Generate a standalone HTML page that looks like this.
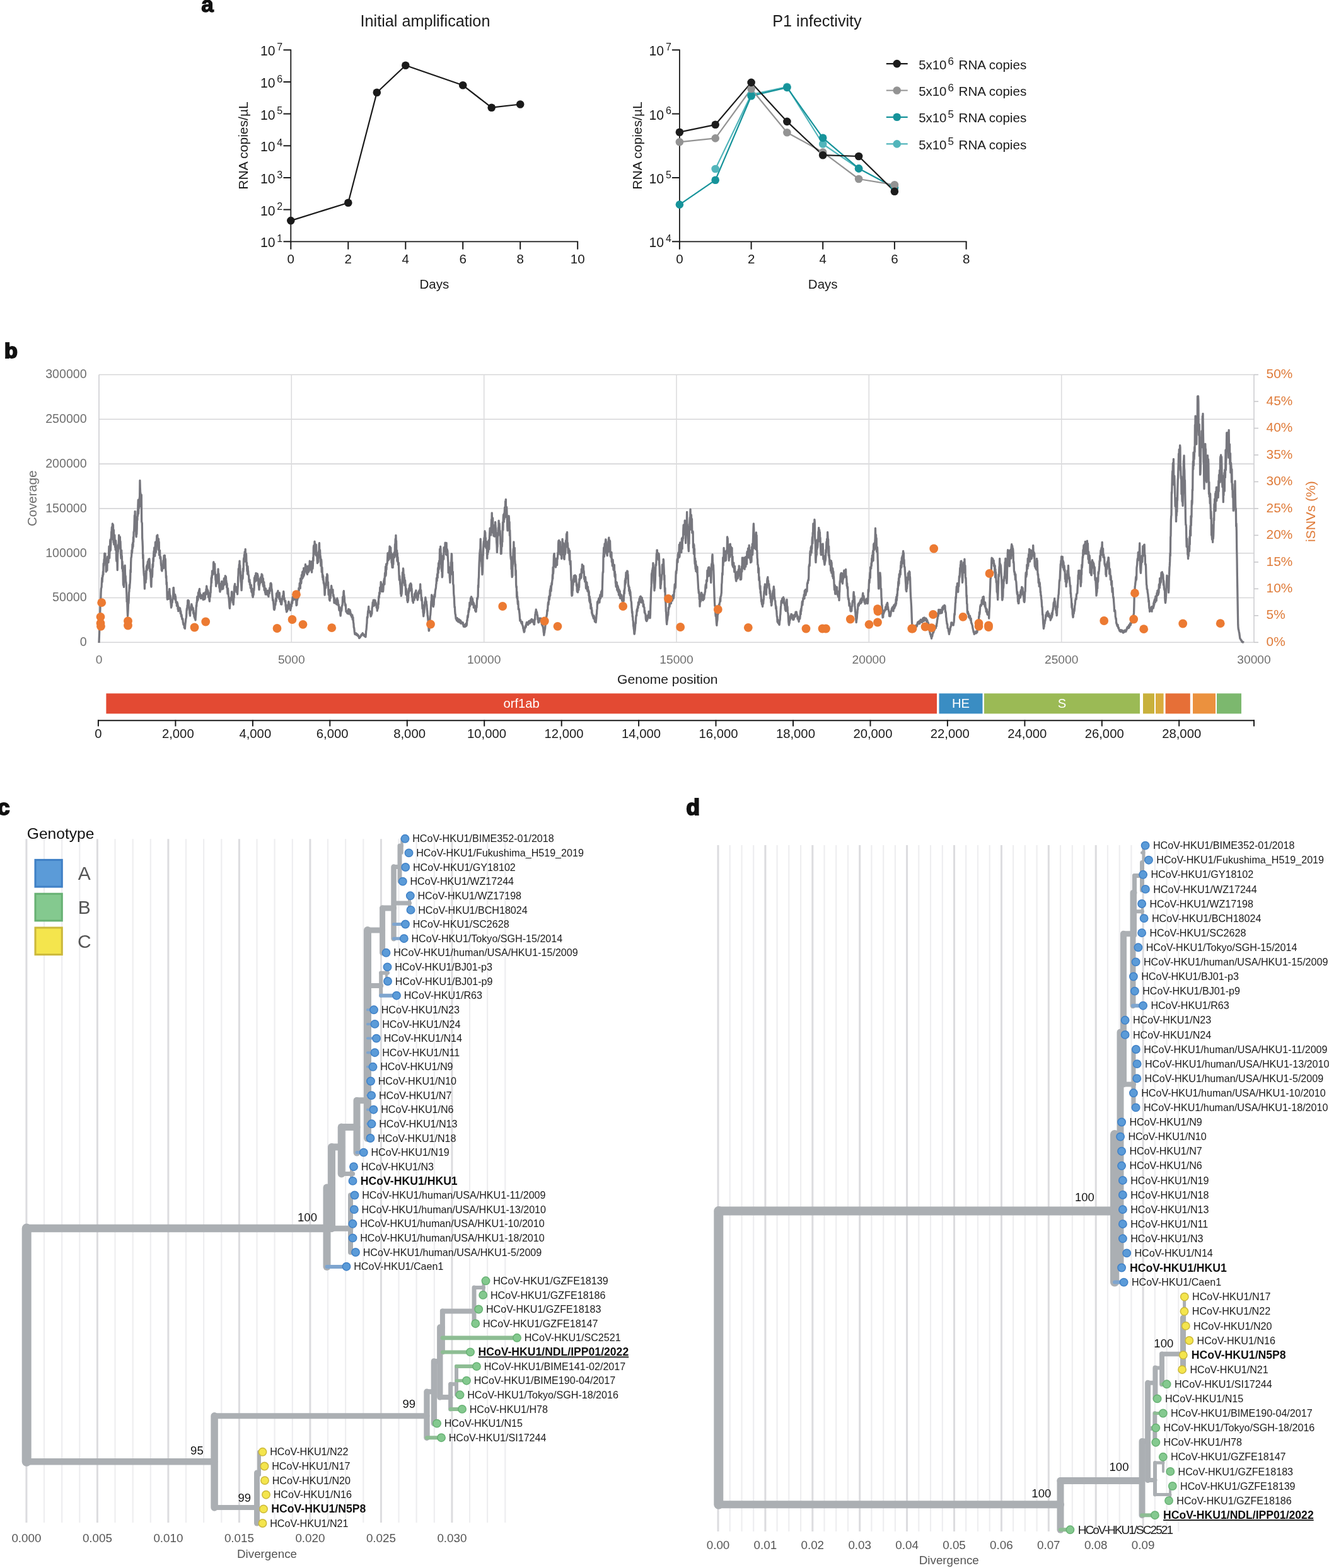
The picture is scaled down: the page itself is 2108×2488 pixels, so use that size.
<!DOCTYPE html>
<html><head><meta charset="utf-8"><title>Figure</title>
<style>html,body{margin:0;padding:0;background:#fff;width:2108px;height:2488px;overflow:hidden}
svg{display:block;font-family:'Liberation Sans', Arial, Helvetica, sans-serif}</style></head>
<body><svg width="2108" height="2488" viewBox="0 0 2108 2488">
<rect width="2108" height="2488" fill="#ffffff"/>
<text x="319.3" y="19.0" font-size="35" fill="#111" text-anchor="start" font-weight="bold" stroke="#111" stroke-width="1.4">a</text>
<text x="674.5" y="42.0" font-size="25.2" fill="#1a1a1a" text-anchor="middle" >Initial amplification</text>
<line x1="461.3" y1="78.4" x2="461.3" y2="384.2" stroke="#1a1a1a" stroke-width="1.8" />
<line x1="460.4" y1="383.3" x2="917.1" y2="383.3" stroke="#1a1a1a" stroke-width="1.8" />
<line x1="449.5" y1="383.3" x2="461.3" y2="383.3" stroke="#1a1a1a" stroke-width="2" />
<text x="436.5" y="392.3" font-size="21.2" fill="#1a1a1a" text-anchor="end" >10</text>
<text x="439.3" y="383.9" font-size="16.0" fill="#1a1a1a" text-anchor="start" >1</text>
<line x1="449.5" y1="332.6" x2="461.3" y2="332.6" stroke="#1a1a1a" stroke-width="2" />
<text x="436.5" y="341.6" font-size="21.2" fill="#1a1a1a" text-anchor="end" >10</text>
<text x="439.3" y="333.2" font-size="16.0" fill="#1a1a1a" text-anchor="start" >2</text>
<line x1="449.5" y1="282.0" x2="461.3" y2="282.0" stroke="#1a1a1a" stroke-width="2" />
<text x="436.5" y="291.0" font-size="21.2" fill="#1a1a1a" text-anchor="end" >10</text>
<text x="439.3" y="282.6" font-size="16.0" fill="#1a1a1a" text-anchor="start" >3</text>
<line x1="449.5" y1="231.3" x2="461.3" y2="231.3" stroke="#1a1a1a" stroke-width="2" />
<text x="436.5" y="240.3" font-size="21.2" fill="#1a1a1a" text-anchor="end" >10</text>
<text x="439.3" y="231.9" font-size="16.0" fill="#1a1a1a" text-anchor="start" >4</text>
<line x1="449.5" y1="180.6" x2="461.3" y2="180.6" stroke="#1a1a1a" stroke-width="2" />
<text x="436.5" y="189.6" font-size="21.2" fill="#1a1a1a" text-anchor="end" >10</text>
<text x="439.3" y="181.2" font-size="16.0" fill="#1a1a1a" text-anchor="start" >5</text>
<line x1="449.5" y1="130.0" x2="461.3" y2="130.0" stroke="#1a1a1a" stroke-width="2" />
<text x="436.5" y="139.0" font-size="21.2" fill="#1a1a1a" text-anchor="end" >10</text>
<text x="439.3" y="130.6" font-size="16.0" fill="#1a1a1a" text-anchor="start" >6</text>
<line x1="449.5" y1="79.3" x2="461.3" y2="79.3" stroke="#1a1a1a" stroke-width="2" />
<text x="436.5" y="88.3" font-size="21.2" fill="#1a1a1a" text-anchor="end" >10</text>
<text x="439.3" y="79.9" font-size="16.0" fill="#1a1a1a" text-anchor="start" >7</text>
<line x1="461.3" y1="383.3" x2="461.3" y2="395.7" stroke="#1a1a1a" stroke-width="2" />
<text x="461.3" y="418.3" font-size="20.5" fill="#1a1a1a" text-anchor="middle" >0</text>
<line x1="552.3" y1="383.3" x2="552.3" y2="395.7" stroke="#1a1a1a" stroke-width="2" />
<text x="552.3" y="418.3" font-size="20.5" fill="#1a1a1a" text-anchor="middle" >2</text>
<line x1="643.3" y1="383.3" x2="643.3" y2="395.7" stroke="#1a1a1a" stroke-width="2" />
<text x="643.3" y="418.3" font-size="20.5" fill="#1a1a1a" text-anchor="middle" >4</text>
<line x1="734.2" y1="383.3" x2="734.2" y2="395.7" stroke="#1a1a1a" stroke-width="2" />
<text x="734.2" y="418.3" font-size="20.5" fill="#1a1a1a" text-anchor="middle" >6</text>
<line x1="825.2" y1="383.3" x2="825.2" y2="395.7" stroke="#1a1a1a" stroke-width="2" />
<text x="825.2" y="418.3" font-size="20.5" fill="#1a1a1a" text-anchor="middle" >8</text>
<line x1="916.2" y1="383.3" x2="916.2" y2="395.7" stroke="#1a1a1a" stroke-width="2" />
<text x="916.2" y="418.3" font-size="20.5" fill="#1a1a1a" text-anchor="middle" >10</text>
<text x="688.8" y="457.5" font-size="20.5" fill="#1a1a1a" text-anchor="middle" >Days</text>
<text transform="translate(393.3,231) rotate(-90)" font-size="21" fill="#1a1a1a" text-anchor="middle">RNA copies/µL</text>
<polyline points="461.3,350.1 552.3,321.7 597.8,146.7 643.3,103.7 734.2,135.3 779.7,170.7 825.2,165.5" fill="none" stroke="#1a1a1a" stroke-width="2.2" stroke-linejoin="round"/>
<circle cx="461.3" cy="350.1" r="6.3" fill="#1a1a1a"/>
<circle cx="552.3" cy="321.7" r="6.3" fill="#1a1a1a"/>
<circle cx="597.8" cy="146.7" r="6.3" fill="#1a1a1a"/>
<circle cx="643.3" cy="103.7" r="6.3" fill="#1a1a1a"/>
<circle cx="734.2" cy="135.3" r="6.3" fill="#1a1a1a"/>
<circle cx="779.7" cy="170.7" r="6.3" fill="#1a1a1a"/>
<circle cx="825.2" cy="165.5" r="6.3" fill="#1a1a1a"/>
<text x="1296.0" y="42.0" font-size="25.2" fill="#1a1a1a" text-anchor="middle" >P1 infectivity</text>
<line x1="1077.9" y1="78.4" x2="1077.9" y2="384.2" stroke="#1a1a1a" stroke-width="1.8" />
<line x1="1077.0" y1="383.3" x2="1533.5" y2="383.3" stroke="#1a1a1a" stroke-width="1.8" />
<line x1="1065.9" y1="383.3" x2="1077.9" y2="383.3" stroke="#1a1a1a" stroke-width="2" />
<text x="1053.1" y="392.3" font-size="21.2" fill="#1a1a1a" text-anchor="end" >10</text>
<text x="1055.9" y="383.9" font-size="16.0" fill="#1a1a1a" text-anchor="start" >4</text>
<line x1="1065.9" y1="282.0" x2="1077.9" y2="282.0" stroke="#1a1a1a" stroke-width="2" />
<text x="1053.1" y="291.0" font-size="21.2" fill="#1a1a1a" text-anchor="end" >10</text>
<text x="1055.9" y="282.6" font-size="16.0" fill="#1a1a1a" text-anchor="start" >5</text>
<line x1="1065.9" y1="180.6" x2="1077.9" y2="180.6" stroke="#1a1a1a" stroke-width="2" />
<text x="1053.1" y="189.6" font-size="21.2" fill="#1a1a1a" text-anchor="end" >10</text>
<text x="1055.9" y="181.2" font-size="16.0" fill="#1a1a1a" text-anchor="start" >6</text>
<line x1="1065.9" y1="79.3" x2="1077.9" y2="79.3" stroke="#1a1a1a" stroke-width="2" />
<text x="1053.1" y="88.3" font-size="21.2" fill="#1a1a1a" text-anchor="end" >10</text>
<text x="1055.9" y="79.9" font-size="16.0" fill="#1a1a1a" text-anchor="start" >7</text>
<line x1="1077.9" y1="383.3" x2="1077.9" y2="395.7" stroke="#1a1a1a" stroke-width="2" />
<text x="1077.9" y="418.3" font-size="20.5" fill="#1a1a1a" text-anchor="middle" >0</text>
<line x1="1191.6" y1="383.3" x2="1191.6" y2="395.7" stroke="#1a1a1a" stroke-width="2" />
<text x="1191.6" y="418.3" font-size="20.5" fill="#1a1a1a" text-anchor="middle" >2</text>
<line x1="1305.2" y1="383.3" x2="1305.2" y2="395.7" stroke="#1a1a1a" stroke-width="2" />
<text x="1305.2" y="418.3" font-size="20.5" fill="#1a1a1a" text-anchor="middle" >4</text>
<line x1="1418.9" y1="383.3" x2="1418.9" y2="395.7" stroke="#1a1a1a" stroke-width="2" />
<text x="1418.9" y="418.3" font-size="20.5" fill="#1a1a1a" text-anchor="middle" >6</text>
<line x1="1532.6" y1="383.3" x2="1532.6" y2="395.7" stroke="#1a1a1a" stroke-width="2" />
<text x="1532.6" y="418.3" font-size="20.5" fill="#1a1a1a" text-anchor="middle" >8</text>
<text x="1305.2" y="457.5" font-size="20.5" fill="#1a1a1a" text-anchor="middle" >Days</text>
<text transform="translate(1017.6,231) rotate(-90)" font-size="21" fill="#1a1a1a" text-anchor="middle">RNA copies/µL</text>
<polyline points="1134.7,268.0 1191.6,150.0 1248.4,137.8 1305.2,228.5 1362.1,267.4 1418.9,297.6" fill="none" stroke="#52b5bb" stroke-width="2.2" stroke-linejoin="round"/>
<polyline points="1077.9,324.6 1134.7,285.7 1191.6,152.3 1248.4,138.9 1305.2,218.8 1362.1,267.4 1418.9,297.6" fill="none" stroke="#16939a" stroke-width="2.2" stroke-linejoin="round"/>
<polyline points="1077.9,225.3 1134.7,219.4 1191.6,141.0 1248.4,210.2 1305.2,241.5 1362.1,284.0 1418.9,293.3" fill="none" stroke="#939393" stroke-width="2.2" stroke-linejoin="round"/>
<polyline points="1077.9,209.7 1134.7,197.8 1191.6,130.9 1248.4,192.9 1305.2,246.2 1362.1,248.0 1418.9,303.7" fill="none" stroke="#1c1c1c" stroke-width="2.2" stroke-linejoin="round"/>
<circle cx="1134.7" cy="268.0" r="6.3" fill="#52b5bb"/>
<circle cx="1191.6" cy="150.0" r="6.3" fill="#52b5bb"/>
<circle cx="1248.4" cy="137.8" r="6.3" fill="#52b5bb"/>
<circle cx="1305.2" cy="228.5" r="6.3" fill="#52b5bb"/>
<circle cx="1362.1" cy="267.4" r="6.3" fill="#52b5bb"/>
<circle cx="1418.9" cy="297.6" r="6.3" fill="#52b5bb"/>
<circle cx="1077.9" cy="324.6" r="6.3" fill="#16939a"/>
<circle cx="1134.7" cy="285.7" r="6.3" fill="#16939a"/>
<circle cx="1191.6" cy="152.3" r="6.3" fill="#16939a"/>
<circle cx="1248.4" cy="138.9" r="6.3" fill="#16939a"/>
<circle cx="1305.2" cy="218.8" r="6.3" fill="#16939a"/>
<circle cx="1362.1" cy="267.4" r="6.3" fill="#16939a"/>
<circle cx="1418.9" cy="297.6" r="6.3" fill="#16939a"/>
<circle cx="1077.9" cy="225.3" r="6.3" fill="#939393"/>
<circle cx="1134.7" cy="219.4" r="6.3" fill="#939393"/>
<circle cx="1191.6" cy="141.0" r="6.3" fill="#939393"/>
<circle cx="1248.4" cy="210.2" r="6.3" fill="#939393"/>
<circle cx="1305.2" cy="241.5" r="6.3" fill="#939393"/>
<circle cx="1362.1" cy="284.0" r="6.3" fill="#939393"/>
<circle cx="1418.9" cy="293.3" r="6.3" fill="#939393"/>
<circle cx="1077.9" cy="209.7" r="6.3" fill="#1c1c1c"/>
<circle cx="1134.7" cy="197.8" r="6.3" fill="#1c1c1c"/>
<circle cx="1191.6" cy="130.9" r="6.3" fill="#1c1c1c"/>
<circle cx="1248.4" cy="192.9" r="6.3" fill="#1c1c1c"/>
<circle cx="1305.2" cy="246.2" r="6.3" fill="#1c1c1c"/>
<circle cx="1362.1" cy="248.0" r="6.3" fill="#1c1c1c"/>
<circle cx="1418.9" cy="303.7" r="6.3" fill="#1c1c1c"/>
<line x1="1405.8" y1="101.1" x2="1439.7" y2="101.1" stroke="#1c1c1c" stroke-width="2.2" />
<circle cx="1422.7" cy="101.1" r="6.3" fill="#1c1c1c"/>
<text x="1457.2" y="109.7" font-size="20.4" fill="#1a1a1a" text-anchor="start" >5x10</text>
<text x="1503.6" y="102.5" font-size="17.0" fill="#1a1a1a" text-anchor="start" >6</text>
<text x="1520.6" y="109.7" font-size="20.6" fill="#1a1a1a" text-anchor="start" >RNA copies</text>
<line x1="1405.8" y1="143.5" x2="1439.7" y2="143.5" stroke="#939393" stroke-width="2.2" />
<circle cx="1422.7" cy="143.5" r="6.3" fill="#939393"/>
<text x="1457.2" y="152.1" font-size="20.4" fill="#1a1a1a" text-anchor="start" >5x10</text>
<text x="1503.6" y="144.9" font-size="17.0" fill="#1a1a1a" text-anchor="start" >6</text>
<text x="1520.6" y="152.1" font-size="20.6" fill="#1a1a1a" text-anchor="start" >RNA copies</text>
<line x1="1405.8" y1="185.8" x2="1439.7" y2="185.8" stroke="#16939a" stroke-width="2.2" />
<circle cx="1422.7" cy="185.8" r="6.3" fill="#16939a"/>
<text x="1457.2" y="194.4" font-size="20.4" fill="#1a1a1a" text-anchor="start" >5x10</text>
<text x="1503.6" y="187.2" font-size="17.0" fill="#1a1a1a" text-anchor="start" >5</text>
<text x="1520.6" y="194.4" font-size="20.6" fill="#1a1a1a" text-anchor="start" >RNA copies</text>
<line x1="1405.8" y1="228.4" x2="1439.7" y2="228.4" stroke="#52b5bb" stroke-width="2.2" />
<circle cx="1422.7" cy="228.4" r="6.3" fill="#52b5bb"/>
<text x="1457.2" y="237.0" font-size="20.4" fill="#1a1a1a" text-anchor="start" >5x10</text>
<text x="1503.6" y="229.8" font-size="17.0" fill="#1a1a1a" text-anchor="start" >5</text>
<text x="1520.6" y="237.0" font-size="20.6" fill="#1a1a1a" text-anchor="start" >RNA copies</text>
<text x="7.0" y="568.0" font-size="34" fill="#111" text-anchor="start" font-weight="bold" stroke="#111" stroke-width="2.2">b</text>
<line x1="157.0" y1="1019.3" x2="1989.0" y2="1019.3" stroke="#d6d6d8" stroke-width="1.6" />
<text x="137.6" y="1025.1" font-size="19.6" fill="#6f6f6f" text-anchor="end" >0</text>
<line x1="157.0" y1="948.5" x2="1989.0" y2="948.5" stroke="#d6d6d8" stroke-width="1.6" />
<text x="137.6" y="954.3" font-size="19.6" fill="#6f6f6f" text-anchor="end" >50000</text>
<line x1="157.0" y1="877.7" x2="1989.0" y2="877.7" stroke="#d6d6d8" stroke-width="1.6" />
<text x="137.6" y="883.5" font-size="19.6" fill="#6f6f6f" text-anchor="end" >100000</text>
<line x1="157.0" y1="806.9" x2="1989.0" y2="806.9" stroke="#d6d6d8" stroke-width="1.6" />
<text x="137.6" y="812.7" font-size="19.6" fill="#6f6f6f" text-anchor="end" >150000</text>
<line x1="157.0" y1="736.1" x2="1989.0" y2="736.1" stroke="#d6d6d8" stroke-width="1.6" />
<text x="137.6" y="741.9" font-size="19.6" fill="#6f6f6f" text-anchor="end" >200000</text>
<line x1="157.0" y1="665.3" x2="1989.0" y2="665.3" stroke="#d6d6d8" stroke-width="1.6" />
<text x="137.6" y="671.1" font-size="19.6" fill="#6f6f6f" text-anchor="end" >250000</text>
<line x1="157.0" y1="594.5" x2="1989.0" y2="594.5" stroke="#d6d6d8" stroke-width="1.6" />
<text x="137.6" y="600.3" font-size="19.6" fill="#6f6f6f" text-anchor="end" >300000</text>
<line x1="157.0" y1="594.5" x2="157.0" y2="1019.3" stroke="#cfcfd2" stroke-width="1.6" />
<text x="157.0" y="1053.3" font-size="19.2" fill="#6f6f6f" text-anchor="middle" >0</text>
<line x1="462.3" y1="594.5" x2="462.3" y2="1019.3" stroke="#dcdcde" stroke-width="1.6" />
<text x="462.3" y="1053.3" font-size="19.2" fill="#6f6f6f" text-anchor="middle" >5000</text>
<line x1="767.7" y1="594.5" x2="767.7" y2="1019.3" stroke="#dcdcde" stroke-width="1.6" />
<text x="767.7" y="1053.3" font-size="19.2" fill="#6f6f6f" text-anchor="middle" >10000</text>
<line x1="1073.0" y1="594.5" x2="1073.0" y2="1019.3" stroke="#dcdcde" stroke-width="1.6" />
<text x="1073.0" y="1053.3" font-size="19.2" fill="#6f6f6f" text-anchor="middle" >15000</text>
<line x1="1378.3" y1="594.5" x2="1378.3" y2="1019.3" stroke="#dcdcde" stroke-width="1.6" />
<text x="1378.3" y="1053.3" font-size="19.2" fill="#6f6f6f" text-anchor="middle" >20000</text>
<line x1="1683.7" y1="594.5" x2="1683.7" y2="1019.3" stroke="#dcdcde" stroke-width="1.6" />
<text x="1683.7" y="1053.3" font-size="19.2" fill="#6f6f6f" text-anchor="middle" >25000</text>
<line x1="1989.0" y1="594.5" x2="1989.0" y2="1019.3" stroke="#cfcfd2" stroke-width="1.6" />
<text x="1989.0" y="1053.3" font-size="19.2" fill="#6f6f6f" text-anchor="middle" >30000</text>
<line x1="1989.0" y1="1019.3" x2="1996.0" y2="1019.3" stroke="#c8c8cb" stroke-width="1.6" />
<text x="2008.6" y="1024.9" font-size="20.8" fill="#df7b39" text-anchor="start" >0%</text>
<line x1="1989.0" y1="976.8" x2="1996.0" y2="976.8" stroke="#c8c8cb" stroke-width="1.6" />
<text x="2008.6" y="982.4" font-size="20.8" fill="#df7b39" text-anchor="start" >5%</text>
<line x1="1989.0" y1="934.3" x2="1996.0" y2="934.3" stroke="#c8c8cb" stroke-width="1.6" />
<text x="2008.6" y="939.9" font-size="20.8" fill="#df7b39" text-anchor="start" >10%</text>
<line x1="1989.0" y1="891.9" x2="1996.0" y2="891.9" stroke="#c8c8cb" stroke-width="1.6" />
<text x="2008.6" y="897.5" font-size="20.8" fill="#df7b39" text-anchor="start" >15%</text>
<line x1="1989.0" y1="849.4" x2="1996.0" y2="849.4" stroke="#c8c8cb" stroke-width="1.6" />
<text x="2008.6" y="855.0" font-size="20.8" fill="#df7b39" text-anchor="start" >20%</text>
<line x1="1989.0" y1="806.9" x2="1996.0" y2="806.9" stroke="#c8c8cb" stroke-width="1.6" />
<text x="2008.6" y="812.5" font-size="20.8" fill="#df7b39" text-anchor="start" >25%</text>
<line x1="1989.0" y1="764.4" x2="1996.0" y2="764.4" stroke="#c8c8cb" stroke-width="1.6" />
<text x="2008.6" y="770.0" font-size="20.8" fill="#df7b39" text-anchor="start" >30%</text>
<line x1="1989.0" y1="721.9" x2="1996.0" y2="721.9" stroke="#c8c8cb" stroke-width="1.6" />
<text x="2008.6" y="727.5" font-size="20.8" fill="#df7b39" text-anchor="start" >35%</text>
<line x1="1989.0" y1="679.5" x2="1996.0" y2="679.5" stroke="#c8c8cb" stroke-width="1.6" />
<text x="2008.6" y="685.1" font-size="20.8" fill="#df7b39" text-anchor="start" >40%</text>
<line x1="1989.0" y1="637.0" x2="1996.0" y2="637.0" stroke="#c8c8cb" stroke-width="1.6" />
<text x="2008.6" y="642.6" font-size="20.8" fill="#df7b39" text-anchor="start" >45%</text>
<line x1="1989.0" y1="594.5" x2="1996.0" y2="594.5" stroke="#c8c8cb" stroke-width="1.6" />
<text x="2008.6" y="600.1" font-size="20.8" fill="#df7b39" text-anchor="start" >50%</text>
<text transform="translate(57.5,790.7) rotate(-90)" font-size="20.4" fill="#6f6f6f" text-anchor="middle">Coverage</text>
<text transform="translate(2085.5,811.6) rotate(-90)" font-size="21" fill="#df7b39" text-anchor="middle">iSNVs (%)</text>
<text x="1058.8" y="1085.0" font-size="21.1" fill="#1a1a1a" text-anchor="middle" >Genome position</text>
<path d="M157.00,1020.0 L157.34,1010.9 L157.68,1001.9 L158.02,992.8 L158.36,983.7 L158.70,974.7 L159.04,961.7 L159.38,952.7 L159.72,952.7 L160.06,941.0 L160.40,934.2 L160.74,932.8 L161.08,931.6 L161.42,922.4 L161.76,916.8 L162.10,923.6 L162.44,918.4 L162.78,912.6 L163.12,914.8 L163.46,906.9 L163.80,911.7 L164.14,894.1 L164.48,897.6 L164.82,893.0 L165.16,887.2 L165.50,888.9 L165.84,878.2 L166.18,887.2 L166.52,890.6 L166.86,878.3 L167.20,888.8 L167.54,888.5 L167.88,888.2 L168.22,907.2 L168.56,901.8 L168.90,897.6 L169.24,905.0 L169.58,893.8 L169.92,905.0 L170.26,889.4 L170.60,883.3 L170.94,884.3 L171.28,884.9 L171.62,885.2 L171.96,892.3 L172.30,885.6 L172.64,875.8 L172.98,866.8 L173.32,868.2 L173.66,885.5 L174.00,871.6 L174.34,875.2 L174.68,858.6 L175.02,856.3 L175.36,873.1 L175.70,864.3 L176.04,854.8 L176.38,852.3 L176.72,843.7 L177.06,843.2 L177.40,836.5 L177.74,855.6 L178.08,843.0 L178.42,831.0 L178.76,845.6 L179.10,833.3 L179.44,832.7 L179.78,850.1 L180.12,860.8 L180.46,841.0 L180.80,863.9 L181.14,851.3 L181.48,850.4 L181.82,849.2 L182.16,856.7 L182.50,868.1 L182.84,863.0 L183.18,872.4 L183.52,857.7 L183.86,862.1 L184.20,865.7 L184.54,886.8 L184.88,890.4 L185.22,882.2 L185.56,889.0 L185.90,891.5 L186.24,904.5 L186.58,883.5 L186.92,876.1 L187.26,875.6 L187.60,864.3 L187.94,871.3 L188.28,861.5 L188.62,849.1 L188.96,851.4 L189.30,855.6 L189.64,861.2 L189.98,868.1 L190.32,852.0 L190.66,867.2 L191.00,859.0 L191.34,869.5 L191.68,880.4 L192.02,885.8 L192.36,885.7 L192.70,873.1 L193.04,883.2 L193.38,882.3 L193.72,902.2 L194.06,890.9 L194.40,898.9 L194.74,906.8 L195.08,907.8 L195.42,926.7 L195.76,928.7 L196.10,927.7 L196.44,931.4 L196.78,918.8 L197.12,920.6 L197.46,908.0 L197.80,897.9 L198.14,897.2 L198.48,909.5 L198.82,915.1 L199.16,914.1 L199.50,923.5 L199.84,923.3 L200.18,925.7 L200.52,934.9 L200.86,942.5 L201.20,955.0 L201.54,952.8 L201.88,959.3 L202.22,970.2 L202.56,977.7 L202.90,972.6 L203.24,966.0 L203.58,954.8 L203.92,957.5 L204.26,951.3 L204.60,939.8 L204.94,938.8 L205.28,928.0 L205.62,933.6 L205.96,927.6 L206.30,924.1 L206.64,918.1 L206.98,904.2 L207.32,908.2 L207.66,892.6 L208.00,884.7 L208.34,884.3 L208.68,881.1 L209.02,873.1 L209.36,877.5 L209.70,874.8 L210.04,863.6 L210.38,869.9 L210.72,860.8 L211.06,867.3 L211.40,852.3 L211.74,859.9 L212.08,844.4 L212.42,842.8 L212.76,840.8 L213.10,830.9 L213.44,817.7 L213.78,835.1 L214.12,811.4 L214.46,821.9 L214.80,831.9 L215.14,820.3 L215.48,827.5 L215.82,849.0 L216.16,851.8 L216.50,845.0 L216.84,847.6 L217.18,838.5 L217.52,819.9 L217.86,825.3 L218.20,810.7 L218.54,818.7 L218.88,802.9 L219.22,793.2 L219.56,815.3 L219.90,807.0 L220.24,806.9 L220.58,798.6 L220.92,804.3 L221.26,790.5 L221.60,787.9 L221.94,762.5 L222.28,774.0 L222.62,781.5 L222.96,782.5 L223.30,791.3 L223.64,785.3 L223.98,804.2 L224.32,785.1 L224.66,827.4 L225.00,828.8 L225.34,830.4 L225.68,854.0 L226.02,858.9 L226.36,867.5 L226.70,886.2 L227.04,880.1 L227.38,899.0 L227.72,901.7 L228.06,908.9 L228.40,913.5 L228.74,912.7 L229.08,923.9 L229.42,934.1 L229.76,923.0 L230.10,917.6 L230.44,915.4 L230.78,918.7 L231.12,924.3 L231.46,906.0 L231.80,919.3 L232.14,908.6 L232.48,898.3 L232.82,902.0 L233.16,896.5 L233.50,904.4 L233.84,899.5 L234.18,893.1 L234.52,890.8 L234.86,901.3 L235.20,897.7 L235.54,889.5 L235.88,887.3 L236.22,892.6 L236.56,900.5 L236.90,886.6 L237.24,892.2 L237.58,900.0 L237.92,906.6 L238.26,902.8 L238.60,906.6 L238.94,913.4 L239.28,920.1 L239.62,929.3 L239.96,931.1 L240.30,918.1 L240.64,912.5 L240.98,913.5 L241.32,915.5 L241.66,911.1 L242.00,895.4 L242.34,900.3 L242.68,897.9 L243.02,885.3 L243.36,890.6 L243.70,880.7 L244.04,874.3 L244.38,881.6 L244.72,869.0 L245.06,880.0 L245.40,881.6 L245.74,882.3 L246.08,869.7 L246.42,860.2 L246.76,877.2 L247.10,874.9 L247.44,875.8 L247.78,865.2 L248.12,865.6 L248.46,856.5 L248.80,850.1 L249.14,851.2 L249.48,860.6 L249.82,848.8 L250.16,858.6 L250.50,856.1 L250.84,857.1 L251.18,872.3 L251.52,855.0 L251.86,865.2 L252.20,859.8 L252.54,880.6 L252.88,873.5 L253.22,873.5 L253.56,873.4 L253.90,886.0 L254.24,885.3 L254.58,883.2 L254.92,885.0 L255.26,893.2 L255.60,897.4 L255.94,896.6 L256.28,904.5 L256.62,905.1 L256.96,906.0 L257.30,903.8 L257.64,898.1 L257.98,899.4 L258.32,897.5 L258.66,898.0 L259.00,889.5 L259.34,901.7 L259.68,888.4 L260.02,881.6 L260.36,888.0 L260.70,890.9 L261.04,882.6 L261.38,881.3 L261.72,891.9 L262.06,886.3 L262.40,888.0 L262.74,903.6 L263.08,906.8 L263.42,917.0 L263.76,913.8 L264.10,927.4 L264.44,923.9 L264.78,932.3 L265.12,947.5 L265.46,951.1 L265.80,948.9 L266.14,947.9 L266.48,949.1 L266.82,947.0 L267.16,948.1 L267.50,950.4 L267.84,942.6 L268.18,938.7 L268.52,942.1 L268.86,934.4 L269.20,941.7 L269.54,943.3 L269.88,946.5 L270.22,945.1 L270.56,953.1 L270.90,956.2 L271.24,959.8 L271.58,964.1 L271.92,960.6 L272.26,961.9 L272.60,956.9 L272.94,951.6 L273.28,956.2 L273.62,951.8 L273.96,951.5 L274.30,947.3 L274.64,945.9 L274.98,932.7 L275.32,932.4 L275.66,936.3 L276.00,940.4 L276.34,945.2 L276.68,943.5 L277.02,945.7 L277.36,950.0 L277.70,943.3 L278.04,951.7 L278.38,945.9 L278.72,949.6 L279.06,955.9 L279.40,956.6 L279.74,954.8 L280.08,954.8 L280.42,961.4 L280.76,956.9 L281.10,955.7 L281.44,959.0 L281.78,958.0 L282.12,966.6 L282.46,961.4 L282.80,969.7 L283.14,963.3 L283.48,964.6 L283.82,967.5 L284.16,965.5 L284.50,966.6 L284.84,964.7 L285.18,967.6 L285.52,965.0 L285.86,967.1 L286.20,973.4 L286.54,969.4 L286.88,970.7 L287.22,975.3 L287.56,978.2 L287.90,975.1 L288.24,977.1 L288.58,980.8 L288.92,982.7 L289.26,982.8 L289.60,981.4 L289.94,982.8 L290.28,987.6 L290.62,988.6 L290.96,990.9 L291.30,991.5 L291.64,990.9 L291.98,990.8 L292.32,995.8 L292.66,996.1 L293.00,996.9 L293.34,997.4 L293.68,992.6 L294.02,988.9 L294.36,986.8 L294.70,982.9 L295.04,981.1 L295.38,979.5 L295.72,975.6 L296.06,968.4 L296.40,965.3 L296.74,968.0 L297.08,960.7 L297.42,962.3 L297.76,952.7 L298.10,954.0 L298.44,952.3 L298.78,953.8 L299.12,957.8 L299.46,953.5 L299.80,961.7 L300.14,965.1 L300.48,964.2 L300.82,973.5 L301.16,974.5 L301.50,977.1 L301.84,968.9 L302.18,969.6 L302.52,965.8 L302.86,966.6 L303.20,964.3 L303.54,961.4 L303.88,958.7 L304.22,961.4 L304.56,961.2 L304.90,967.1 L305.24,964.1 L305.58,965.3 L305.92,964.4 L306.26,965.4 L306.60,972.8 L306.94,968.7 L307.28,974.6 L307.62,973.7 L307.96,978.1 L308.30,973.2 L308.64,980.3 L308.98,980.4 L309.32,980.3 L309.66,982.5 L310.00,984.0 L310.34,977.7 L310.68,974.7 L311.02,966.9 L311.36,960.4 L311.70,962.1 L312.04,955.7 L312.38,956.1 L312.72,946.7 L313.06,952.2 L313.40,953.3 L313.74,951.4 L314.08,951.4 L314.42,940.7 L314.76,939.9 L315.10,939.7 L315.44,940.4 L315.78,936.4 L316.12,935.9 L316.46,934.4 L316.80,947.0 L317.14,940.6 L317.48,944.8 L317.82,943.6 L318.16,948.0 L318.50,949.7 L318.84,945.5 L319.18,948.2 L319.52,944.1 L319.86,947.2 L320.20,946.6 L320.54,947.3 L320.88,947.1 L321.22,949.6 L321.56,946.5 L321.90,946.1 L322.24,951.6 L322.58,941.7 L322.92,941.2 L323.26,941.5 L323.60,950.8 L323.94,947.7 L324.28,948.5 L324.62,950.9 L324.96,941.6 L325.30,949.2 L325.64,939.7 L325.98,942.0 L326.32,942.9 L326.66,943.3 L327.00,935.0 L327.34,936.9 L327.68,929.9 L328.02,932.0 L328.36,940.4 L328.70,938.3 L329.04,935.2 L329.38,939.7 L329.72,943.0 L330.06,937.3 L330.40,947.4 L330.74,942.5 L331.08,940.8 L331.42,947.1 L331.76,949.6 L332.10,952.6 L332.44,954.1 L332.78,944.1 L333.12,947.2 L333.46,947.0 L333.80,940.0 L334.14,940.5 L334.48,930.2 L334.82,930.8 L335.16,916.8 L335.50,924.9 L335.84,913.6 L336.18,917.3 L336.52,905.8 L336.86,909.8 L337.20,912.4 L337.54,908.7 L337.88,905.7 L338.22,910.9 L338.56,893.0 L338.90,891.8 L339.24,899.0 L339.58,905.5 L339.92,899.0 L340.26,894.5 L340.60,894.9 L340.94,905.4 L341.28,910.0 L341.62,913.9 L341.96,920.4 L342.30,919.1 L342.64,930.2 L342.98,919.8 L343.32,915.6 L343.66,918.0 L344.00,926.0 L344.34,912.1 L344.68,912.6 L345.02,922.0 L345.36,911.0 L345.70,918.1 L346.04,903.0 L346.38,917.9 L346.72,909.8 L347.06,912.1 L347.40,924.2 L347.74,930.9 L348.08,933.3 L348.42,933.2 L348.76,938.3 L349.10,939.0 L349.44,932.6 L349.78,926.4 L350.12,936.1 L350.46,929.3 L350.80,927.8 L351.14,930.1 L351.48,923.1 L351.82,922.5 L352.16,925.7 L352.50,930.1 L352.84,932.1 L353.18,934.8 L353.52,932.4 L353.86,933.8 L354.20,928.7 L354.54,929.6 L354.88,926.8 L355.22,918.6 L355.56,917.6 L355.90,927.7 L356.24,918.5 L356.58,927.0 L356.92,921.3 L357.26,913.6 L357.60,921.7 L357.94,919.2 L358.28,914.8 L358.62,919.7 L358.96,922.2 L359.30,924.7 L359.64,931.8 L359.98,925.9 L360.32,931.7 L360.66,935.8 L361.00,942.2 L361.34,933.3 L361.68,936.1 L362.02,940.8 L362.36,944.4 L362.70,947.0 L363.04,949.3 L363.38,954.0 L363.72,957.4 L364.06,963.1 L364.40,965.3 L364.74,960.3 L365.08,955.9 L365.42,952.7 L365.76,952.0 L366.10,948.5 L366.44,949.6 L366.78,951.9 L367.12,947.8 L367.46,939.1 L367.80,938.9 L368.14,941.9 L368.48,948.6 L368.82,950.2 L369.16,956.1 L369.50,952.2 L369.84,956.4 L370.18,959.4 L370.52,953.5 L370.86,948.2 L371.20,948.2 L371.54,933.4 L371.88,929.5 L372.22,929.9 L372.56,926.3 L372.90,934.3 L373.24,935.9 L373.58,932.0 L373.92,936.2 L374.26,937.1 L374.60,931.3 L374.94,939.4 L375.28,937.3 L375.62,939.9 L375.96,939.2 L376.30,938.1 L376.64,942.8 L376.98,935.1 L377.32,929.8 L377.66,916.7 L378.00,912.7 L378.34,902.3 L378.68,903.9 L379.02,902.6 L379.36,895.7 L379.70,899.0 L380.04,890.1 L380.38,903.3 L380.72,897.2 L381.06,909.3 L381.40,906.7 L381.74,918.6 L382.08,923.2 L382.42,924.9 L382.76,929.6 L383.10,936.7 L383.44,929.3 L383.78,924.0 L384.12,915.1 L384.46,913.5 L384.80,918.7 L385.14,917.0 L385.48,902.2 L385.82,907.3 L386.16,903.4 L386.50,887.2 L386.84,885.4 L387.18,891.2 L387.52,880.1 L387.86,891.2 L388.20,875.4 L388.54,880.7 L388.88,879.6 L389.22,871.4 L389.56,888.6 L389.90,879.9 L390.24,878.3 L390.58,880.1 L390.92,891.2 L391.26,897.7 L391.60,893.0 L391.94,906.3 L392.28,897.9 L392.62,910.9 L392.96,898.6 L393.30,905.2 L393.64,905.9 L393.98,912.5 L394.32,912.3 L394.66,914.4 L395.00,923.2 L395.34,920.1 L395.68,921.9 L396.02,919.9 L396.36,927.7 L396.70,924.3 L397.04,929.4 L397.38,933.2 L397.72,930.1 L398.06,929.1 L398.40,928.2 L398.74,938.8 L399.08,938.2 L399.42,940.1 L399.76,933.8 L400.10,938.2 L400.44,945.5 L400.78,938.9 L401.12,947.5 L401.46,945.6 L401.80,943.3 L402.14,943.8 L402.48,934.5 L402.82,937.0 L403.16,932.6 L403.50,916.7 L403.84,916.7 L404.18,923.4 L404.52,913.6 L404.86,918.4 L405.20,922.1 L405.54,917.6 L405.88,909.5 L406.22,921.9 L406.56,918.5 L406.90,914.8 L407.24,910.2 L407.58,914.3 L407.92,912.9 L408.26,910.3 L408.60,912.3 L408.94,913.0 L409.28,916.9 L409.62,919.9 L409.96,927.7 L410.30,928.6 L410.64,930.6 L410.98,935.6 L411.32,926.5 L411.66,929.0 L412.00,922.9 L412.34,926.2 L412.68,919.5 L413.02,917.6 L413.36,916.5 L413.70,919.3 L414.04,923.7 L414.38,914.4 L414.72,920.3 L415.06,910.8 L415.40,913.1 L415.74,917.5 L416.08,912.5 L416.42,919.9 L416.76,923.3 L417.10,928.4 L417.44,918.0 L417.78,930.6 L418.12,928.5 L418.46,930.0 L418.80,923.7 L419.14,936.4 L419.48,928.8 L419.82,933.5 L420.16,934.3 L420.50,940.3 L420.84,936.9 L421.18,943.1 L421.52,933.8 L421.86,940.4 L422.20,940.2 L422.54,940.2 L422.88,942.1 L423.22,941.6 L423.56,939.3 L423.90,943.7 L424.24,937.1 L424.58,942.5 L424.92,942.6 L425.26,940.1 L425.60,945.0 L425.94,946.7 L426.28,940.3 L426.62,940.8 L426.96,936.1 L427.30,941.4 L427.64,933.0 L427.98,933.3 L428.32,934.6 L428.66,933.1 L429.00,925.6 L429.34,937.0 L429.68,925.1 L430.02,929.3 L430.36,926.6 L430.70,934.8 L431.04,934.4 L431.38,936.9 L431.72,941.8 L432.06,946.1 L432.40,949.0 L432.74,952.9 L433.08,951.2 L433.42,952.3 L433.76,957.0 L434.10,960.7 L434.44,966.2 L434.78,967.4 L435.12,967.6 L435.46,963.4 L435.80,965.6 L436.14,958.7 L436.48,960.3 L436.82,959.8 L437.16,956.9 L437.50,949.6 L437.84,949.4 L438.18,953.9 L438.52,941.7 L438.86,947.1 L439.20,943.9 L439.54,945.9 L439.88,942.9 L440.22,939.4 L440.56,944.6 L440.90,937.5 L441.24,947.9 L441.58,946.8 L441.92,941.3 L442.26,943.1 L442.60,943.3 L442.94,950.4 L443.28,940.7 L443.62,945.4 L443.96,948.2 L444.30,954.1 L444.64,955.0 L444.98,953.2 L445.32,950.5 L445.66,958.8 L446.00,957.9 L446.34,955.7 L446.68,959.0 L447.02,955.3 L447.36,952.0 L447.70,949.7 L448.04,950.7 L448.38,945.7 L448.72,945.6 L449.06,950.4 L449.40,942.9 L449.74,938.3 L450.08,940.8 L450.42,947.8 L450.76,949.1 L451.10,948.8 L451.44,953.4 L451.78,953.8 L452.12,954.9 L452.46,954.3 L452.80,953.5 L453.14,961.5 L453.48,962.6 L453.82,967.7 L454.16,963.8 L454.50,970.8 L454.84,964.2 L455.18,969.9 L455.52,969.6 L455.86,960.1 L456.20,961.9 L456.54,967.4 L456.88,966.4 L457.22,962.8 L457.56,956.7 L457.90,954.6 L458.24,956.2 L458.58,962.4 L458.92,961.3 L459.26,958.8 L459.60,963.4 L459.94,966.1 L460.28,961.7 L460.62,968.4 L460.96,964.3 L461.30,965.7 L461.64,961.3 L461.98,960.4 L462.32,962.2 L462.66,955.2 L463.00,958.5 L463.34,952.8 L463.68,957.1 L464.02,948.5 L464.36,947.4 L464.70,947.0 L465.04,950.1 L465.38,952.1 L465.72,950.9 L466.06,950.2 L466.40,949.0 L466.74,946.8 L467.08,943.8 L467.42,941.3 L467.76,950.6 L468.10,946.9 L468.44,951.4 L468.78,946.6 L469.12,951.6 L469.46,950.5 L469.80,955.0 L470.14,960.6 L470.48,958.3 L470.82,959.9 L471.16,952.0 L471.50,952.6 L471.84,950.8 L472.18,949.8 L472.52,944.5 L472.86,948.0 L473.20,948.2 L473.54,945.4 L473.88,933.2 L474.22,937.1 L474.56,933.1 L474.90,934.1 L475.24,925.5 L475.58,933.2 L475.92,927.1 L476.26,933.4 L476.60,918.0 L476.94,922.5 L477.28,922.0 L477.62,925.9 L477.96,923.3 L478.30,912.5 L478.64,913.0 L478.98,918.5 L479.32,911.7 L479.66,907.5 L480.00,917.5 L480.34,915.3 L480.68,906.1 L481.02,908.8 L481.36,914.9 L481.70,901.5 L482.04,913.3 L482.38,912.2 L482.72,908.7 L483.06,907.3 L483.40,906.6 L483.74,903.3 L484.08,903.4 L484.42,895.5 L484.76,901.7 L485.10,903.5 L485.44,900.9 L485.78,905.4 L486.12,902.2 L486.46,909.5 L486.80,908.8 L487.14,898.3 L487.48,911.4 L487.82,903.7 L488.16,901.0 L488.50,902.7 L488.84,906.4 L489.18,907.9 L489.52,902.3 L489.86,897.9 L490.20,906.3 L490.54,896.9 L490.88,904.4 L491.22,890.2 L491.56,899.3 L491.90,893.5 L492.24,903.7 L492.58,900.5 L492.92,901.8 L493.26,891.3 L493.60,904.5 L493.94,897.6 L494.28,905.6 L494.62,908.2 L494.96,895.4 L495.30,890.3 L495.64,901.1 L495.98,902.1 L496.32,897.5 L496.66,884.5 L497.00,889.7 L497.34,868.6 L497.68,865.7 L498.02,874.2 L498.36,869.5 L498.70,873.3 L499.04,859.2 L499.38,865.4 L499.72,878.6 L500.06,862.9 L500.40,866.0 L500.74,871.5 L501.08,881.3 L501.42,864.4 L501.76,879.4 L502.10,876.6 L502.44,879.8 L502.78,880.2 L503.12,888.0 L503.46,893.6 L503.80,892.4 L504.14,891.2 L504.48,890.5 L504.82,891.8 L505.16,882.2 L505.50,874.9 L505.84,884.6 L506.18,863.1 L506.52,861.7 L506.86,884.1 L507.20,872.4 L507.54,872.7 L507.88,880.6 L508.22,882.5 L508.56,885.5 L508.90,898.0 L509.24,888.8 L509.58,887.8 L509.92,891.5 L510.26,907.6 L510.60,899.8 L510.94,900.6 L511.28,910.3 L511.62,916.1 L511.96,911.8 L512.30,920.0 L512.64,914.2 L512.98,918.8 L513.32,925.5 L513.66,923.6 L514.00,927.5 L514.34,929.5 L514.68,933.8 L515.02,944.2 L515.36,941.3 L515.70,929.6 L516.04,930.3 L516.38,933.1 L516.72,932.7 L517.06,925.8 L517.40,925.9 L517.74,915.7 L518.08,922.0 L518.42,920.3 L518.76,911.0 L519.10,911.9 L519.44,912.4 L519.78,925.5 L520.12,929.1 L520.46,923.6 L520.80,934.6 L521.14,943.8 L521.48,935.7 L521.82,940.9 L522.16,943.8 L522.50,951.8 L522.84,949.4 L523.18,953.2 L523.52,941.9 L523.86,941.6 L524.20,948.9 L524.54,935.5 L524.88,936.7 L525.22,936.6 L525.56,929.5 L525.90,931.4 L526.24,934.0 L526.58,935.8 L526.92,937.5 L527.26,939.9 L527.60,941.2 L527.94,935.6 L528.28,945.2 L528.62,946.2 L528.96,943.6 L529.30,947.8 L529.64,947.6 L529.98,956.5 L530.32,950.2 L530.66,949.1 L531.00,956.2 L531.34,955.9 L531.68,957.0 L532.02,955.2 L532.36,952.5 L532.70,953.3 L533.04,954.3 L533.38,954.9 L533.72,958.8 L534.06,951.6 L534.40,957.1 L534.74,949.2 L535.08,951.2 L535.42,959.4 L535.76,952.1 L536.10,955.1 L536.44,960.3 L536.78,959.2 L537.12,959.2 L537.46,963.0 L537.80,967.3 L538.14,968.5 L538.48,963.3 L538.82,964.7 L539.16,967.8 L539.50,968.3 L539.84,975.0 L540.18,977.2 L540.52,973.4 L540.86,970.0 L541.20,969.1 L541.54,969.5 L541.88,967.6 L542.22,962.0 L542.56,961.0 L542.90,961.2 L543.24,958.3 L543.58,947.2 L543.92,951.2 L544.26,949.3 L544.60,948.3 L544.94,939.4 L545.28,937.7 L545.62,944.2 L545.96,945.5 L546.30,948.3 L546.64,955.4 L546.98,956.1 L547.32,958.9 L547.66,961.0 L548.00,958.6 L548.34,960.4 L548.68,966.1 L549.02,970.7 L549.36,969.2 L549.70,970.7 L550.04,969.4 L550.38,971.0 L550.72,973.1 L551.06,970.9 L551.40,972.3 L551.74,973.5 L552.08,971.7 L552.42,972.6 L552.76,966.6 L553.10,966.5 L553.44,974.1 L553.78,968.7 L554.12,969.5 L554.46,968.3 L554.80,972.6 L555.14,967.9 L555.48,974.4 L555.82,970.6 L556.16,974.4 L556.50,976.4 L556.84,975.6 L557.18,974.4 L557.52,976.8 L557.86,979.4 L558.20,979.2 L558.54,976.8 L558.88,976.1 L559.22,983.0 L559.56,982.2 L559.90,979.4 L560.24,985.0 L560.58,988.2 L560.92,989.7 L561.26,995.7 L561.60,995.8 L561.94,998.6 L562.28,1002.4 L562.62,1004.6 L562.96,1006.4 L563.30,1005.9 L563.64,1004.4 L563.98,1005.4 L564.32,1004.7 L564.66,1006.7 L565.00,1007.3 L565.34,1005.2 L565.68,1006.6 L566.02,1006.0 L566.36,1006.3 L566.70,1007.8 L567.04,1008.6 L567.38,1006.8 L567.72,1008.1 L568.06,1008.1 L568.40,1008.2 L568.74,1010.2 L569.08,1009.9 L569.42,1011.8 L569.76,1012.5 L570.10,1011.6 L570.44,1012.0 L570.78,1010.7 L571.12,1011.4 L571.46,1009.8 L571.80,1010.3 L572.14,1009.7 L572.48,1009.0 L572.82,1007.5 L573.16,1008.7 L573.50,1006.8 L573.84,1007.5 L574.18,1006.2 L574.52,1005.6 L574.86,1005.9 L575.20,1004.7 L575.54,1006.3 L575.88,1005.7 L576.22,1006.9 L576.56,1007.1 L576.90,1008.2 L577.24,1007.0 L577.58,1007.2 L577.92,1009.3 L578.26,1008.3 L578.60,1008.4 L578.94,1009.5 L579.28,1008.7 L579.62,1010.7 L579.96,1010.6 L580.30,1006.8 L580.64,1001.6 L580.98,999.5 L581.32,996.2 L581.66,991.6 L582.00,988.5 L582.34,979.2 L582.68,980.6 L583.02,979.6 L583.36,974.7 L583.70,969.5 L584.04,971.1 L584.38,966.5 L584.72,962.5 L585.06,969.2 L585.40,969.6 L585.74,969.1 L586.08,971.4 L586.42,972.1 L586.76,971.7 L587.10,970.4 L587.44,973.1 L587.78,976.2 L588.12,978.1 L588.46,977.4 L588.80,977.0 L589.14,975.3 L589.48,971.0 L589.82,974.0 L590.16,964.9 L590.50,963.3 L590.84,961.6 L591.18,955.6 L591.52,957.3 L591.86,957.6 L592.20,952.2 L592.54,961.3 L592.88,956.8 L593.22,952.5 L593.56,961.0 L593.90,952.2 L594.24,957.9 L594.58,955.1 L594.92,952.5 L595.26,954.6 L595.60,956.8 L595.94,956.8 L596.28,956.7 L596.62,959.6 L596.96,960.9 L597.30,964.4 L597.64,961.0 L597.98,960.8 L598.32,969.1 L598.66,963.4 L599.00,966.7 L599.34,963.2 L599.68,964.8 L600.02,954.1 L600.36,958.8 L600.70,947.8 L601.04,945.4 L601.38,948.4 L601.72,940.1 L602.06,942.9 L602.40,941.7 L602.74,932.1 L603.08,938.7 L603.42,931.2 L603.76,936.7 L604.10,923.5 L604.44,924.9 L604.78,933.1 L605.12,928.4 L605.46,930.9 L605.80,938.5 L606.14,931.0 L606.48,927.4 L606.82,929.2 L607.16,935.3 L607.50,938.7 L607.84,936.6 L608.18,930.5 L608.52,925.1 L608.86,921.3 L609.20,920.6 L609.54,918.1 L609.88,927.2 L610.22,916.7 L610.56,909.2 L610.90,915.1 L611.24,909.3 L611.58,899.0 L611.92,913.4 L612.26,910.2 L612.60,894.9 L612.94,903.8 L613.28,894.4 L613.62,896.7 L613.96,894.3 L614.30,894.0 L614.64,885.9 L614.98,877.7 L615.32,889.6 L615.66,879.7 L616.00,877.7 L616.34,883.2 L616.68,881.3 L617.02,887.9 L617.36,874.3 L617.70,879.6 L618.04,867.0 L618.38,867.4 L618.72,870.3 L619.06,870.7 L619.40,874.2 L619.74,869.0 L620.08,885.5 L620.42,876.8 L620.76,878.5 L621.10,892.4 L621.44,892.7 L621.78,894.8 L622.12,900.3 L622.46,899.3 L622.80,889.3 L623.14,900.5 L623.48,879.4 L623.82,895.4 L624.16,883.3 L624.50,879.5 L624.84,880.4 L625.18,876.6 L625.52,884.6 L625.86,881.2 L626.20,877.7 L626.54,863.5 L626.88,866.0 L627.22,855.0 L627.56,868.9 L627.90,849.3 L628.24,860.2 L628.58,858.2 L628.92,878.6 L629.26,883.7 L629.60,873.3 L629.94,889.9 L630.28,877.6 L630.62,891.2 L630.96,884.1 L631.30,890.5 L631.64,896.2 L631.98,893.5 L632.32,893.0 L632.66,903.9 L633.00,912.2 L633.34,920.3 L633.68,913.6 L634.02,917.5 L634.36,919.7 L634.70,926.6 L635.04,928.8 L635.38,934.0 L635.72,942.4 L636.06,936.8 L636.40,945.6 L636.74,943.4 L637.08,942.4 L637.42,937.7 L637.76,929.2 L638.10,921.5 L638.44,908.2 L638.78,908.8 L639.12,916.0 L639.46,901.8 L639.80,904.5 L640.14,914.5 L640.48,911.4 L640.82,911.7 L641.16,925.1 L641.50,916.4 L641.84,928.8 L642.18,926.7 L642.52,920.7 L642.86,927.0 L643.20,927.2 L643.54,936.3 L643.88,943.5 L644.22,933.9 L644.56,935.2 L644.90,936.9 L645.24,941.6 L645.58,941.9 L645.92,953.0 L646.26,952.3 L646.60,955.6 L646.94,953.1 L647.28,953.4 L647.62,948.8 L647.96,940.3 L648.30,941.5 L648.64,933.3 L648.98,934.0 L649.32,938.3 L649.66,929.3 L650.00,927.9 L650.34,936.8 L650.68,930.6 L651.02,925.8 L651.36,927.2 L651.70,925.9 L652.04,934.2 L652.38,927.3 L652.72,936.2 L653.06,933.8 L653.40,944.1 L653.74,947.6 L654.08,947.3 L654.42,953.8 L654.76,952.3 L655.10,953.1 L655.44,956.5 L655.78,949.0 L656.12,951.9 L656.46,952.0 L656.80,952.2 L657.14,952.2 L657.48,942.4 L657.82,948.8 L658.16,942.7 L658.50,942.7 L658.84,939.8 L659.18,945.6 L659.52,939.5 L659.86,936.8 L660.20,947.9 L660.54,946.7 L660.88,948.3 L661.22,942.1 L661.56,944.0 L661.90,949.9 L662.24,952.1 L662.58,951.4 L662.92,948.9 L663.26,947.8 L663.60,939.8 L663.94,941.7 L664.28,938.3 L664.62,941.8 L664.96,937.1 L665.30,938.1 L665.64,936.0 L665.98,937.2 L666.32,935.7 L666.66,927.0 L667.00,938.3 L667.34,937.1 L667.68,936.4 L668.02,943.9 L668.36,951.0 L668.70,953.0 L669.04,948.1 L669.38,952.2 L669.72,960.2 L670.06,965.6 L670.40,960.0 L670.74,963.2 L671.08,971.4 L671.42,973.5 L671.76,977.8 L672.10,974.3 L672.44,973.1 L672.78,972.2 L673.12,965.2 L673.46,962.0 L673.80,954.8 L674.14,959.2 L674.48,952.1 L674.82,947.9 L675.16,950.4 L675.50,955.0 L675.84,957.4 L676.18,954.1 L676.52,959.2 L676.86,959.4 L677.20,966.1 L677.54,968.2 L677.88,971.3 L678.22,976.8 L678.56,978.8 L678.90,983.5 L679.24,985.5 L679.58,992.9 L679.92,995.3 L680.26,1000.9 L680.60,1000.6 L680.94,997.4 L681.28,993.8 L681.62,989.4 L681.96,984.4 L682.30,977.7 L682.64,976.0 L682.98,971.6 L683.32,966.8 L683.66,960.6 L684.00,953.9 L684.34,953.9 L684.68,943.8 L685.02,950.2 L685.36,945.4 L685.70,946.7 L686.04,950.7 L686.38,949.0 L686.72,959.4 L687.06,962.3 L687.40,962.6 L687.74,958.8 L688.08,960.0 L688.42,950.8 L688.76,949.5 L689.10,943.3 L689.44,943.6 L689.78,947.2 L690.12,941.3 L690.46,937.5 L690.80,935.2 L691.14,934.3 L691.48,931.7 L691.82,927.2 L692.16,925.8 L692.50,917.2 L692.84,920.2 L693.18,921.6 L693.52,912.0 L693.86,910.4 L694.20,916.6 L694.54,902.3 L694.88,900.5 L695.22,909.1 L695.56,893.4 L695.90,894.0 L696.24,903.1 L696.58,889.9 L696.92,894.9 L697.26,890.5 L697.60,871.1 L697.94,871.9 L698.28,884.0 L698.62,867.2 L698.96,871.6 L699.30,889.4 L699.64,877.8 L699.98,901.6 L700.32,901.1 L700.66,906.7 L701.00,901.9 L701.34,915.9 L701.68,914.6 L702.02,902.3 L702.36,891.4 L702.70,887.5 L703.04,881.3 L703.38,883.4 L703.72,887.3 L704.06,868.7 L704.40,874.6 L704.74,872.8 L705.08,871.0 L705.42,872.3 L705.76,870.8 L706.10,861.2 L706.44,874.7 L706.78,868.4 L707.12,864.9 L707.46,879.7 L707.80,873.9 L708.14,861.5 L708.48,880.7 L708.82,872.7 L709.16,871.3 L709.50,873.2 L709.84,873.8 L710.18,881.8 L710.52,887.0 L710.86,892.3 L711.20,908.7 L711.54,904.0 L711.88,899.5 L712.22,905.5 L712.56,909.3 L712.90,906.1 L713.24,915.4 L713.58,918.8 L713.92,924.3 L714.26,911.7 L714.60,911.4 L714.94,906.6 L715.28,892.4 L715.62,895.2 L715.96,888.0 L716.30,878.6 L716.64,880.8 L716.98,904.9 L717.32,892.2 L717.66,911.8 L718.00,907.2 L718.34,907.3 L718.68,926.5 L719.02,927.3 L719.36,929.6 L719.70,941.6 L720.04,945.8 L720.38,948.4 L720.72,957.8 L721.06,963.9 L721.40,963.1 L721.74,970.3 L722.08,974.3 L722.42,974.7 L722.76,977.8 L723.10,981.5 L723.44,982.4 L723.78,982.3 L724.12,983.1 L724.46,984.7 L724.80,984.0 L725.14,980.7 L725.48,980.9 L725.82,982.4 L726.16,986.1 L726.50,982.6 L726.84,983.4 L727.18,986.8 L727.52,982.7 L727.86,983.9 L728.20,984.0 L728.54,983.0 L728.88,987.4 L729.22,985.1 L729.56,985.8 L729.90,985.6 L730.24,984.3 L730.58,989.1 L730.92,985.2 L731.26,986.3 L731.60,989.1 L731.94,987.3 L732.28,988.6 L732.62,987.9 L732.96,989.5 L733.30,988.6 L733.64,989.7 L733.98,987.6 L734.32,988.0 L734.66,990.9 L735.00,992.9 L735.34,994.2 L735.68,993.5 L736.02,992.4 L736.36,993.2 L736.70,993.2 L737.04,993.4 L737.38,994.6 L737.72,991.2 L738.06,991.6 L738.40,993.2 L738.74,990.2 L739.08,989.5 L739.42,993.5 L739.76,988.8 L740.10,992.6 L740.44,990.5 L740.78,983.8 L741.12,985.0 L741.46,979.6 L741.80,977.0 L742.14,979.9 L742.48,976.9 L742.82,973.7 L743.16,968.6 L743.50,971.1 L743.84,965.3 L744.18,967.8 L744.52,964.0 L744.86,956.1 L745.20,962.2 L745.54,961.3 L745.88,960.5 L746.22,956.4 L746.56,948.8 L746.90,956.5 L747.24,950.2 L747.58,946.8 L747.92,947.8 L748.26,948.7 L748.60,956.4 L748.94,949.2 L749.28,959.2 L749.62,950.6 L749.96,958.9 L750.30,954.7 L750.64,958.5 L750.98,956.1 L751.32,964.1 L751.66,957.5 L752.00,961.2 L752.34,963.2 L752.68,962.4 L753.02,960.9 L753.36,962.3 L753.70,968.9 L754.04,962.2 L754.38,961.9 L754.72,970.6 L755.06,970.5 L755.40,966.2 L755.74,961.7 L756.08,963.9 L756.42,955.9 L756.76,949.1 L757.10,951.0 L757.44,949.5 L757.78,947.2 L758.12,947.2 L758.46,928.7 L758.80,932.3 L759.14,919.7 L759.48,915.7 L759.82,902.5 L760.16,892.9 L760.50,886.6 L760.84,878.4 L761.18,875.4 L761.52,871.9 L761.86,870.9 L762.20,855.2 L762.54,867.4 L762.88,874.7 L763.22,886.3 L763.56,889.2 L763.90,892.6 L764.24,898.9 L764.58,899.9 L764.92,911.7 L765.26,908.8 L765.60,897.4 L765.94,881.8 L766.28,881.6 L766.62,871.5 L766.96,863.1 L767.30,858.9 L767.64,867.2 L767.98,853.3 L768.32,853.3 L768.66,850.0 L769.00,842.7 L769.34,850.9 L769.68,844.7 L770.02,857.1 L770.36,853.5 L770.70,867.7 L771.04,869.5 L771.38,865.5 L771.72,859.5 L772.06,869.4 L772.40,872.7 L772.74,886.1 L773.08,870.6 L773.42,879.6 L773.76,870.1 L774.10,871.4 L774.44,875.6 L774.78,862.5 L775.12,857.1 L775.46,857.6 L775.80,871.5 L776.14,859.6 L776.48,850.1 L776.82,843.3 L777.16,838.2 L777.50,842.2 L777.84,846.8 L778.18,839.6 L778.52,846.6 L778.86,849.1 L779.20,834.0 L779.54,824.4 L779.88,834.9 L780.22,813.8 L780.56,835.7 L780.90,841.0 L781.24,839.7 L781.58,821.8 L781.92,837.6 L782.26,845.6 L782.60,836.4 L782.94,850.2 L783.28,833.3 L783.62,845.1 L783.96,846.0 L784.30,851.2 L784.64,839.9 L784.98,834.6 L785.32,846.2 L785.66,828.5 L786.00,834.5 L786.34,837.8 L786.68,851.0 L787.02,845.5 L787.36,853.6 L787.70,860.9 L788.04,865.1 L788.38,876.4 L788.72,868.7 L789.06,867.1 L789.40,848.3 L789.74,847.3 L790.08,843.4 L790.42,837.1 L790.76,840.4 L791.10,826.1 L791.44,836.7 L791.78,847.7 L792.12,830.6 L792.46,839.3 L792.80,850.0 L793.14,842.2 L793.48,848.8 L793.82,863.5 L794.16,863.1 L794.50,878.8 L794.84,874.8 L795.18,878.4 L795.52,864.1 L795.86,860.0 L796.20,867.1 L796.54,856.4 L796.88,859.7 L797.22,837.2 L797.56,828.6 L797.90,841.1 L798.24,821.7 L798.58,816.7 L798.92,822.5 L799.26,828.1 L799.60,814.7 L799.94,823.6 L800.28,812.2 L800.62,805.0 L800.96,811.3 L801.30,811.9 L801.64,795.3 L801.98,808.1 L802.32,792.3 L802.66,820.3 L803.00,810.5 L803.34,804.9 L803.68,804.8 L804.02,815.1 L804.36,823.2 L804.70,835.4 L805.04,841.9 L805.38,841.6 L805.72,832.2 L806.06,836.0 L806.40,832.1 L806.74,822.8 L807.08,818.7 L807.42,822.4 L807.76,836.4 L808.10,828.2 L808.44,849.8 L808.78,841.4 L809.12,853.6 L809.46,873.1 L809.80,881.3 L810.14,885.0 L810.48,887.8 L810.82,883.6 L811.16,903.2 L811.50,900.3 L811.84,910.7 L812.18,915.7 L812.52,907.7 L812.86,914.1 L813.20,891.2 L813.54,895.5 L813.88,881.2 L814.22,870.9 L814.56,874.9 L814.90,860.0 L815.24,874.7 L815.58,871.1 L815.92,870.9 L816.26,869.4 L816.60,888.3 L816.94,891.1 L817.28,898.5 L817.62,895.5 L817.96,912.9 L818.30,904.9 L818.64,927.3 L818.98,932.2 L819.32,930.6 L819.66,947.5 L820.00,939.0 L820.34,949.7 L820.68,946.5 L821.02,954.3 L821.36,958.5 L821.70,953.7 L822.04,958.6 L822.38,966.9 L822.72,965.8 L823.06,965.9 L823.40,968.3 L823.74,971.6 L824.08,974.5 L824.42,979.2 L824.76,984.8 L825.10,984.8 L825.44,983.2 L825.78,985.2 L826.12,986.4 L826.46,986.6 L826.80,988.2 L827.14,988.9 L827.48,989.7 L827.82,989.0 L828.16,986.6 L828.50,991.1 L828.84,992.0 L829.18,993.3 L829.52,993.5 L829.86,997.3 L830.20,995.5 L830.54,999.9 L830.88,1001.0 L831.22,1003.1 L831.56,999.9 L831.90,1002.1 L832.24,997.3 L832.58,996.7 L832.92,997.0 L833.26,996.1 L833.60,993.2 L833.94,992.5 L834.28,994.5 L834.62,990.3 L834.96,989.8 L835.30,987.7 L835.64,990.1 L835.98,990.6 L836.32,990.7 L836.66,987.7 L837.00,988.3 L837.34,989.7 L837.68,991.3 L838.02,990.0 L838.36,986.7 L838.70,985.7 L839.04,987.0 L839.38,988.0 L839.72,986.3 L840.06,989.1 L840.40,985.8 L840.74,984.8 L841.08,987.4 L841.42,988.1 L841.76,984.6 L842.10,985.1 L842.44,984.4 L842.78,982.8 L843.12,986.5 L843.46,982.4 L843.80,985.8 L844.14,986.3 L844.48,986.2 L844.82,983.7 L845.16,984.2 L845.50,987.4 L845.84,987.7 L846.18,985.5 L846.52,986.0 L846.86,990.7 L847.20,988.6 L847.54,990.8 L847.88,984.8 L848.22,982.0 L848.56,983.2 L848.90,975.2 L849.24,973.6 L849.58,971.3 L849.92,970.1 L850.26,967.2 L850.60,971.5 L850.94,969.6 L851.28,974.9 L851.62,971.4 L851.96,974.3 L852.30,975.1 L852.64,977.1 L852.98,983.1 L853.32,982.8 L853.66,986.3 L854.00,987.8 L854.34,982.7 L854.68,986.1 L855.02,987.1 L855.36,982.7 L855.70,981.0 L856.04,983.2 L856.38,983.5 L856.72,984.2 L857.06,983.3 L857.40,981.3 L857.74,981.1 L858.08,983.4 L858.42,985.4 L858.76,984.8 L859.10,986.7 L859.44,991.1 L859.78,989.7 L860.12,989.3 L860.46,993.2 L860.80,992.8 L861.14,994.7 L861.48,996.2 L861.82,997.5 L862.16,1002.4 L862.50,1004.2 L862.84,1007.8 L863.18,1004.8 L863.52,1004.2 L863.86,1001.3 L864.20,998.9 L864.54,997.8 L864.88,993.3 L865.22,991.6 L865.56,987.8 L865.90,987.8 L866.24,984.7 L866.58,979.4 L866.92,977.8 L867.26,976.2 L867.60,974.4 L867.94,968.2 L868.28,969.8 L868.62,968.9 L868.96,962.0 L869.30,957.1 L869.64,955.5 L869.98,959.5 L870.32,954.9 L870.66,948.2 L871.00,946.2 L871.34,951.6 L871.68,947.6 L872.02,945.6 L872.36,936.3 L872.70,945.3 L873.04,933.8 L873.38,933.3 L873.72,929.8 L874.06,937.9 L874.40,931.8 L874.74,928.8 L875.08,925.0 L875.42,927.7 L875.76,922.1 L876.10,920.2 L876.44,911.7 L876.78,918.1 L877.12,900.1 L877.46,910.6 L877.80,906.3 L878.14,894.0 L878.48,881.9 L878.82,879.2 L879.16,878.5 L879.50,891.2 L879.84,885.1 L880.18,898.7 L880.52,886.5 L880.86,887.2 L881.20,895.1 L881.54,900.0 L881.88,893.9 L882.22,886.8 L882.56,888.0 L882.90,896.1 L883.24,894.5 L883.58,896.6 L883.92,885.2 L884.26,887.1 L884.60,882.1 L884.94,876.6 L885.28,879.6 L885.62,862.5 L885.96,858.1 L886.30,858.7 L886.64,857.4 L886.98,868.6 L887.32,862.5 L887.66,860.7 L888.00,868.3 L888.34,859.7 L888.68,878.2 L889.02,880.2 L889.36,867.7 L889.70,876.2 L890.04,878.0 L890.38,872.7 L890.72,886.5 L891.06,871.5 L891.40,879.9 L891.74,870.9 L892.08,855.3 L892.42,861.5 L892.76,871.1 L893.10,862.4 L893.44,864.2 L893.78,862.0 L894.12,873.2 L894.46,886.2 L894.80,868.0 L895.14,887.4 L895.48,878.4 L895.82,868.4 L896.16,880.0 L896.50,878.1 L896.84,876.7 L897.18,861.6 L897.52,857.7 L897.86,861.3 L898.20,864.4 L898.54,847.8 L898.88,846.6 L899.22,851.4 L899.56,844.3 L899.90,867.7 L900.24,860.9 L900.58,863.8 L900.92,870.5 L901.26,877.3 L901.60,876.8 L901.94,870.3 L902.28,871.6 L902.62,874.5 L902.96,881.0 L903.30,889.0 L903.64,873.9 L903.98,888.6 L904.32,895.5 L904.66,891.7 L905.00,890.1 L905.34,900.9 L905.68,910.6 L906.02,921.3 L906.36,922.0 L906.70,941.0 L907.04,945.3 L907.38,939.0 L907.72,944.4 L908.06,934.8 L908.40,937.2 L908.74,927.6 L909.08,928.4 L909.42,920.1 L909.76,918.5 L910.10,917.1 L910.44,913.7 L910.78,923.1 L911.12,917.7 L911.46,915.6 L911.80,919.0 L912.14,912.7 L912.48,915.7 L912.82,917.4 L913.16,917.7 L913.50,914.0 L913.84,919.9 L914.18,925.2 L914.52,929.9 L914.86,927.0 L915.20,936.2 L915.54,939.0 L915.88,938.4 L916.22,935.0 L916.56,939.8 L916.90,936.1 L917.24,936.2 L917.58,927.9 L917.92,936.0 L918.26,924.3 L918.60,931.9 L918.94,918.6 L919.28,919.4 L919.62,920.5 L919.96,911.3 L920.30,912.4 L920.64,915.5 L920.98,915.9 L921.32,917.6 L921.66,910.1 L922.00,916.2 L922.34,902.9 L922.68,907.6 L923.02,909.1 L923.36,895.6 L923.70,907.4 L924.04,906.8 L924.38,900.9 L924.72,906.6 L925.06,901.8 L925.40,897.9 L925.74,908.6 L926.08,905.8 L926.42,911.2 L926.76,918.9 L927.10,916.2 L927.44,920.0 L927.78,923.0 L928.12,915.6 L928.46,915.7 L928.80,918.7 L929.14,925.3 L929.48,933.4 L929.82,926.3 L930.16,934.1 L930.50,925.5 L930.84,924.0 L931.18,928.5 L931.52,935.5 L931.86,937.9 L932.20,932.4 L932.54,931.1 L932.88,939.0 L933.22,936.3 L933.56,937.0 L933.90,945.1 L934.24,939.0 L934.58,949.7 L934.92,953.9 L935.26,946.4 L935.60,956.2 L935.94,950.4 L936.28,953.8 L936.62,957.2 L936.96,965.7 L937.30,958.1 L937.64,963.6 L937.98,965.1 L938.32,964.3 L938.66,972.8 L939.00,968.1 L939.34,975.2 L939.68,973.8 L940.02,976.7 L940.36,977.7 L940.70,978.0 L941.04,979.8 L941.38,981.2 L941.72,976.8 L942.06,977.3 L942.40,980.7 L942.74,979.3 L943.08,983.3 L943.42,986.4 L943.76,984.5 L944.10,983.2 L944.44,983.8 L944.78,987.1 L945.12,987.6 L945.46,984.4 L945.80,980.5 L946.14,974.7 L946.48,974.3 L946.82,967.8 L947.16,965.4 L947.50,955.1 L947.84,959.0 L948.18,954.0 L948.52,954.3 L948.86,954.3 L949.20,956.2 L949.54,950.0 L949.88,956.0 L950.22,951.6 L950.56,948.7 L950.90,956.1 L951.24,951.9 L951.58,947.2 L951.92,943.8 L952.26,947.2 L952.60,949.6 L952.94,945.6 L953.28,942.3 L953.62,938.9 L953.96,939.3 L954.30,945.5 L954.64,936.6 L954.98,946.3 L955.32,935.5 L955.66,922.7 L956.00,910.9 L956.34,907.2 L956.68,908.3 L957.02,883.8 L957.36,877.9 L957.70,869.0 L958.04,880.7 L958.38,883.3 L958.72,871.6 L959.06,862.7 L959.40,876.0 L959.74,864.2 L960.08,871.9 L960.42,859.4 L960.76,856.0 L961.10,856.3 L961.44,863.1 L961.78,869.1 L962.12,878.8 L962.46,874.1 L962.80,868.5 L963.14,881.7 L963.48,872.9 L963.82,872.1 L964.16,875.9 L964.50,871.1 L964.84,859.4 L965.18,875.3 L965.52,854.6 L965.86,853.2 L966.20,863.9 L966.54,863.8 L966.88,857.2 L967.22,870.7 L967.56,858.4 L967.90,869.3 L968.24,882.3 L968.58,883.0 L968.92,878.4 L969.26,884.6 L969.60,883.7 L969.94,876.4 L970.28,891.5 L970.62,887.7 L970.96,889.0 L971.30,897.9 L971.64,891.4 L971.98,888.2 L972.32,891.8 L972.66,896.0 L973.00,903.7 L973.34,904.7 L973.68,897.7 L974.02,901.8 L974.36,896.3 L974.70,909.4 L975.04,914.7 L975.38,906.8 L975.72,916.7 L976.06,911.1 L976.40,924.9 L976.74,925.5 L977.08,931.0 L977.42,923.7 L977.76,923.5 L978.10,930.5 L978.44,924.3 L978.78,936.3 L979.12,928.8 L979.46,929.0 L979.80,930.4 L980.14,939.0 L980.48,931.4 L980.82,937.5 L981.16,935.6 L981.50,943.9 L981.84,935.1 L982.18,937.4 L982.52,945.1 L982.86,942.3 L983.20,937.8 L983.54,949.1 L983.88,941.9 L984.22,943.0 L984.56,947.4 L984.90,944.8 L985.24,949.6 L985.58,947.0 L985.92,944.5 L986.26,948.8 L986.60,953.2 L986.94,947.7 L987.28,952.6 L987.62,952.9 L987.96,955.0 L988.30,952.3 L988.64,951.8 L988.98,954.3 L989.32,952.9 L989.66,944.9 L990.00,936.9 L990.34,941.9 L990.68,934.6 L991.02,933.2 L991.36,921.0 L991.70,927.6 L992.04,917.8 L992.38,925.0 L992.72,913.5 L993.06,908.4 L993.40,912.3 L993.74,918.0 L994.08,916.8 L994.42,917.9 L994.76,905.8 L995.10,912.4 L995.44,906.3 L995.78,911.7 L996.12,911.7 L996.46,923.7 L996.80,930.4 L997.14,928.6 L997.48,931.3 L997.82,937.6 L998.16,931.6 L998.50,936.8 L998.84,942.1 L999.18,936.1 L999.52,944.7 L999.86,939.0 L1000.20,945.5 L1000.54,946.8 L1000.88,953.1 L1001.22,954.2 L1001.56,956.3 L1001.90,963.5 L1002.24,966.4 L1002.58,972.7 L1002.92,970.4 L1003.26,978.6 L1003.60,977.9 L1003.94,984.3 L1004.28,985.1 L1004.62,993.3 L1004.96,994.5 L1005.30,997.9 L1005.64,999.8 L1005.98,1005.7 L1006.32,1006.1 L1006.66,1003.3 L1007.00,1000.9 L1007.34,997.9 L1007.68,992.6 L1008.02,987.4 L1008.36,989.3 L1008.70,981.4 L1009.04,976.4 L1009.38,977.1 L1009.72,976.8 L1010.06,968.9 L1010.40,966.7 L1010.74,970.3 L1011.08,967.7 L1011.42,963.2 L1011.76,961.5 L1012.10,964.6 L1012.44,955.6 L1012.78,956.5 L1013.12,956.5 L1013.46,959.6 L1013.80,953.7 L1014.14,949.8 L1014.48,956.0 L1014.82,954.3 L1015.16,947.0 L1015.50,952.6 L1015.84,950.3 L1016.18,946.2 L1016.52,949.1 L1016.86,949.2 L1017.20,953.4 L1017.54,956.0 L1017.88,950.1 L1018.22,948.3 L1018.56,952.2 L1018.90,955.6 L1019.24,952.9 L1019.58,952.8 L1019.92,954.3 L1020.26,962.3 L1020.60,962.6 L1020.94,958.6 L1021.28,962.0 L1021.62,963.5 L1021.96,963.9 L1022.30,971.9 L1022.64,969.1 L1022.98,973.3 L1023.32,973.9 L1023.66,973.6 L1024.00,975.5 L1024.34,982.1 L1024.68,983.5 L1025.02,984.7 L1025.36,984.8 L1025.70,985.6 L1026.04,985.1 L1026.38,981.6 L1026.72,982.4 L1027.06,982.6 L1027.40,976.4 L1027.74,980.3 L1028.08,975.7 L1028.42,977.7 L1028.76,976.3 L1029.10,970.1 L1029.44,976.0 L1029.78,973.7 L1030.12,977.5 L1030.46,980.5 L1030.80,978.4 L1031.14,980.7 L1031.48,974.9 L1031.82,961.1 L1032.16,953.7 L1032.50,942.5 L1032.84,935.2 L1033.18,929.9 L1033.52,910.6 L1033.86,910.5 L1034.20,908.3 L1034.54,904.8 L1034.88,911.7 L1035.22,901.4 L1035.56,908.3 L1035.90,893.4 L1036.24,898.9 L1036.58,900.6 L1036.92,921.1 L1037.26,925.6 L1037.60,926.8 L1037.94,937.0 L1038.28,929.3 L1038.62,933.3 L1038.96,927.0 L1039.30,920.6 L1039.64,909.1 L1039.98,896.0 L1040.32,896.3 L1040.66,897.3 L1041.00,889.5 L1041.34,878.8 L1041.68,885.4 L1042.02,872.9 L1042.36,872.9 L1042.70,885.1 L1043.04,881.6 L1043.38,886.6 L1043.72,885.1 L1044.06,885.6 L1044.40,877.8 L1044.74,888.6 L1045.08,878.6 L1045.42,882.9 L1045.76,895.6 L1046.10,898.6 L1046.44,914.3 L1046.78,913.5 L1047.12,916.0 L1047.46,933.3 L1047.80,933.5 L1048.14,926.8 L1048.48,927.4 L1048.82,921.4 L1049.16,920.7 L1049.50,913.0 L1049.84,911.7 L1050.18,909.7 L1050.52,895.8 L1050.86,898.2 L1051.20,902.4 L1051.54,895.4 L1051.88,904.7 L1052.22,887.4 L1052.56,888.8 L1052.90,899.0 L1053.24,905.5 L1053.58,920.0 L1053.92,912.9 L1054.26,931.6 L1054.60,939.4 L1054.94,933.0 L1055.28,951.3 L1055.62,954.8 L1055.96,956.5 L1056.30,970.2 L1056.64,971.5 L1056.98,980.8 L1057.32,987.3 L1057.66,990.5 L1058.00,986.2 L1058.34,984.5 L1058.68,982.7 L1059.02,979.1 L1059.36,976.5 L1059.70,976.5 L1060.04,973.4 L1060.38,964.1 L1060.72,966.8 L1061.06,964.5 L1061.40,963.8 L1061.74,957.9 L1062.08,962.6 L1062.42,958.2 L1062.76,956.7 L1063.10,956.4 L1063.44,954.7 L1063.78,957.0 L1064.12,954.6 L1064.46,957.7 L1064.80,952.6 L1065.14,947.3 L1065.48,947.7 L1065.82,949.9 L1066.16,949.9 L1066.50,953.1 L1066.84,949.9 L1067.18,944.3 L1067.52,945.1 L1067.86,947.2 L1068.20,949.6 L1068.54,947.9 L1068.88,945.7 L1069.22,938.1 L1069.56,939.4 L1069.90,932.4 L1070.24,927.0 L1070.58,934.1 L1070.92,929.9 L1071.26,932.3 L1071.60,925.4 L1071.94,914.1 L1072.28,906.8 L1072.62,910.1 L1072.96,905.1 L1073.30,904.8 L1073.64,898.7 L1073.98,889.6 L1074.32,887.2 L1074.66,890.2 L1075.00,892.2 L1075.34,881.0 L1075.68,878.4 L1076.02,876.8 L1076.36,885.2 L1076.70,883.2 L1077.04,874.6 L1077.38,864.2 L1077.72,883.9 L1078.06,881.7 L1078.40,868.1 L1078.74,860.8 L1079.08,871.3 L1079.42,863.3 L1079.76,867.6 L1080.10,867.2 L1080.44,863.7 L1080.78,876.6 L1081.12,862.7 L1081.46,854.5 L1081.80,864.3 L1082.14,870.7 L1082.48,853.0 L1082.82,858.4 L1083.16,852.0 L1083.50,854.6 L1083.84,839.8 L1084.18,833.0 L1084.52,847.9 L1084.86,839.1 L1085.20,835.3 L1085.54,836.9 L1085.88,847.8 L1086.22,826.0 L1086.56,839.9 L1086.90,847.9 L1087.24,837.7 L1087.58,861.7 L1087.92,847.5 L1088.26,843.6 L1088.60,843.8 L1088.94,826.3 L1089.28,830.6 L1089.62,812.5 L1089.96,836.9 L1090.30,832.0 L1090.64,847.1 L1090.98,840.9 L1091.32,854.1 L1091.66,863.7 L1092.00,870.4 L1092.34,874.6 L1092.68,857.6 L1093.02,862.8 L1093.36,836.9 L1093.70,833.7 L1094.04,826.8 L1094.38,821.0 L1094.72,827.3 L1095.06,808.1 L1095.40,828.1 L1095.74,836.4 L1096.08,840.1 L1096.42,816.9 L1096.76,825.0 L1097.10,833.0 L1097.44,823.3 L1097.78,845.4 L1098.12,843.1 L1098.46,846.1 L1098.80,842.8 L1099.14,844.5 L1099.48,868.9 L1099.82,865.4 L1100.16,862.9 L1100.50,878.9 L1100.84,864.6 L1101.18,874.5 L1101.52,870.9 L1101.86,889.9 L1102.20,895.0 L1102.54,885.8 L1102.88,898.4 L1103.22,902.8 L1103.56,890.4 L1103.90,906.4 L1104.24,896.2 L1104.58,905.0 L1104.92,903.6 L1105.26,902.0 L1105.60,908.3 L1105.94,899.5 L1106.28,910.4 L1106.62,914.7 L1106.96,921.1 L1107.30,927.4 L1107.64,933.2 L1107.98,936.2 L1108.32,941.2 L1108.66,938.9 L1109.00,940.0 L1109.34,950.9 L1109.68,948.5 L1110.02,962.1 L1110.36,955.5 L1110.70,951.4 L1111.04,947.1 L1111.38,954.5 L1111.72,952.8 L1112.06,942.9 L1112.40,948.8 L1112.74,940.3 L1113.08,948.1 L1113.42,946.6 L1113.76,948.4 L1114.10,942.8 L1114.44,951.0 L1114.78,951.4 L1115.12,952.5 L1115.46,947.8 L1115.80,946.6 L1116.14,950.4 L1116.48,950.9 L1116.82,949.7 L1117.16,943.9 L1117.50,943.9 L1117.84,942.3 L1118.18,939.6 L1118.52,939.3 L1118.86,931.7 L1119.20,928.6 L1119.54,927.2 L1119.88,932.5 L1120.22,932.9 L1120.56,920.6 L1120.90,923.3 L1121.24,919.7 L1121.58,922.2 L1121.92,905.2 L1122.26,913.0 L1122.60,915.0 L1122.94,914.3 L1123.28,901.9 L1123.62,900.6 L1123.96,907.5 L1124.30,911.0 L1124.64,899.9 L1124.98,913.5 L1125.32,901.7 L1125.66,902.4 L1126.00,904.0 L1126.34,906.7 L1126.68,908.9 L1127.02,913.1 L1127.36,915.9 L1127.70,924.5 L1128.04,916.6 L1128.38,898.8 L1128.72,894.7 L1129.06,898.8 L1129.40,891.7 L1129.74,883.0 L1130.08,879.8 L1130.42,892.5 L1130.76,893.1 L1131.10,903.4 L1131.44,896.3 L1131.78,904.3 L1132.12,912.8 L1132.46,927.6 L1132.80,935.6 L1133.14,947.3 L1133.48,955.3 L1133.82,961.4 L1134.16,960.7 L1134.50,962.3 L1134.84,973.4 L1135.18,977.5 L1135.52,974.7 L1135.86,978.9 L1136.20,984.2 L1136.54,989.3 L1136.88,992.3 L1137.22,987.5 L1137.56,985.4 L1137.90,983.1 L1138.24,975.3 L1138.58,972.7 L1138.92,974.7 L1139.26,967.8 L1139.60,963.9 L1139.94,961.1 L1140.28,959.5 L1140.62,960.2 L1140.96,960.6 L1141.30,957.0 L1141.64,955.9 L1141.98,954.3 L1142.32,949.4 L1142.66,954.1 L1143.00,946.6 L1143.34,946.1 L1143.68,945.9 L1144.02,942.7 L1144.36,940.2 L1144.70,927.4 L1145.04,924.6 L1145.38,915.5 L1145.72,909.1 L1146.06,912.2 L1146.40,901.0 L1146.74,884.6 L1147.08,897.5 L1147.42,886.0 L1147.76,891.9 L1148.10,869.5 L1148.44,884.2 L1148.78,873.9 L1149.12,876.1 L1149.46,876.3 L1149.80,889.7 L1150.14,889.8 L1150.48,886.1 L1150.82,886.1 L1151.16,889.4 L1151.50,888.5 L1151.84,877.4 L1152.18,873.6 L1152.52,878.4 L1152.86,876.3 L1153.20,875.0 L1153.54,852.0 L1153.88,853.9 L1154.22,854.0 L1154.56,867.8 L1154.90,863.1 L1155.24,866.7 L1155.58,864.1 L1155.92,883.1 L1156.26,889.4 L1156.60,870.8 L1156.94,877.5 L1157.28,883.0 L1157.62,883.8 L1157.96,870.9 L1158.30,863.1 L1158.64,878.2 L1158.98,875.8 L1159.32,867.3 L1159.66,880.0 L1160.00,872.6 L1160.34,872.9 L1160.68,877.0 L1161.02,869.4 L1161.36,892.4 L1161.70,896.5 L1162.04,883.1 L1162.38,899.0 L1162.72,897.4 L1163.06,895.2 L1163.40,900.3 L1163.74,892.8 L1164.08,898.5 L1164.42,899.6 L1164.76,907.4 L1165.10,905.9 L1165.44,898.3 L1165.78,904.4 L1166.12,907.4 L1166.46,908.3 L1166.80,916.6 L1167.14,918.3 L1167.48,921.3 L1167.82,922.1 L1168.16,915.5 L1168.50,917.7 L1168.84,918.9 L1169.18,916.2 L1169.52,907.2 L1169.86,907.2 L1170.20,917.7 L1170.54,915.9 L1170.88,907.1 L1171.22,904.0 L1171.56,909.3 L1171.90,913.2 L1172.24,897.9 L1172.58,908.2 L1172.92,902.6 L1173.26,905.3 L1173.60,910.6 L1173.94,908.0 L1174.28,919.7 L1174.62,911.2 L1174.96,919.7 L1175.30,919.5 L1175.64,918.6 L1175.98,910.2 L1176.32,898.8 L1176.66,907.5 L1177.00,906.4 L1177.34,885.0 L1177.68,900.9 L1178.02,895.3 L1178.36,895.0 L1178.70,891.1 L1179.04,886.8 L1179.38,895.7 L1179.72,901.6 L1180.06,884.8 L1180.40,895.5 L1180.74,897.4 L1181.08,903.1 L1181.42,885.0 L1181.76,891.1 L1182.10,885.3 L1182.44,888.0 L1182.78,899.2 L1183.12,883.5 L1183.46,886.2 L1183.80,894.9 L1184.14,892.5 L1184.48,895.1 L1184.82,877.6 L1185.16,875.2 L1185.50,876.9 L1185.84,881.4 L1186.18,884.0 L1186.52,870.2 L1186.86,880.1 L1187.20,869.6 L1187.54,884.9 L1187.88,874.3 L1188.22,865.1 L1188.56,882.2 L1188.90,875.8 L1189.24,883.3 L1189.58,879.5 L1189.92,888.3 L1190.26,876.4 L1190.60,892.6 L1190.94,873.5 L1191.28,882.2 L1191.62,875.4 L1191.96,891.4 L1192.30,868.1 L1192.64,871.9 L1192.98,872.1 L1193.32,862.8 L1193.66,880.3 L1194.00,871.9 L1194.34,860.0 L1194.68,850.3 L1195.02,838.2 L1195.36,830.8 L1195.70,837.9 L1196.04,848.7 L1196.38,860.0 L1196.72,849.2 L1197.06,869.9 L1197.40,869.9 L1197.74,857.9 L1198.08,852.6 L1198.42,850.3 L1198.76,871.5 L1199.10,851.5 L1199.44,844.8 L1199.78,857.9 L1200.12,849.3 L1200.46,873.2 L1200.80,873.3 L1201.14,885.4 L1201.48,887.2 L1201.82,895.9 L1202.16,895.8 L1202.50,898.6 L1202.84,908.6 L1203.18,901.1 L1203.52,902.7 L1203.86,920.5 L1204.20,915.1 L1204.54,921.3 L1204.88,922.2 L1205.22,930.8 L1205.56,934.6 L1205.90,929.6 L1206.24,941.0 L1206.58,938.5 L1206.92,945.1 L1207.26,947.4 L1207.60,954.3 L1207.94,950.8 L1208.28,956.7 L1208.62,959.2 L1208.96,956.6 L1209.30,960.5 L1209.64,962.5 L1209.98,957.2 L1210.32,956.3 L1210.66,957.8 L1211.00,953.0 L1211.34,950.7 L1211.68,944.5 L1212.02,938.2 L1212.36,940.3 L1212.70,930.8 L1213.04,931.3 L1213.38,927.0 L1213.72,930.8 L1214.06,932.5 L1214.40,928.9 L1214.74,929.8 L1215.08,941.4 L1215.42,943.7 L1215.76,930.8 L1216.10,930.8 L1216.44,932.5 L1216.78,922.0 L1217.12,917.9 L1217.46,928.2 L1217.80,915.6 L1218.14,925.8 L1218.48,921.1 L1218.82,924.5 L1219.16,926.1 L1219.50,928.0 L1219.84,926.9 L1220.18,934.4 L1220.52,934.1 L1220.86,941.9 L1221.20,936.9 L1221.54,938.5 L1221.88,949.4 L1222.22,948.2 L1222.56,947.4 L1222.90,956.2 L1223.24,953.7 L1223.58,960.9 L1223.92,960.1 L1224.26,953.5 L1224.60,954.4 L1224.94,949.8 L1225.28,941.5 L1225.62,950.0 L1225.96,938.3 L1226.30,936.9 L1226.64,940.7 L1226.98,935.3 L1227.32,930.7 L1227.66,939.9 L1228.00,934.7 L1228.34,946.7 L1228.68,947.7 L1229.02,951.2 L1229.36,952.9 L1229.70,953.4 L1230.04,959.4 L1230.38,960.3 L1230.72,965.9 L1231.06,962.3 L1231.40,967.4 L1231.74,969.5 L1232.08,975.2 L1232.42,978.8 L1232.76,979.0 L1233.10,986.6 L1233.44,984.7 L1233.78,983.4 L1234.12,988.5 L1234.46,985.8 L1234.80,986.2 L1235.14,988.6 L1235.48,990.4 L1235.82,990.1 L1236.16,991.4 L1236.50,987.6 L1236.84,984.8 L1237.18,983.7 L1237.52,976.5 L1237.86,974.6 L1238.20,967.6 L1238.54,962.7 L1238.88,960.4 L1239.22,953.5 L1239.56,954.6 L1239.90,956.5 L1240.24,952.9 L1240.58,950.2 L1240.92,950.7 L1241.26,955.6 L1241.60,948.6 L1241.94,949.0 L1242.28,952.5 L1242.62,947.7 L1242.96,956.9 L1243.30,950.2 L1243.64,950.3 L1243.98,956.1 L1244.32,958.9 L1244.66,960.8 L1245.00,960.0 L1245.34,965.9 L1245.68,968.0 L1246.02,966.3 L1246.36,969.6 L1246.70,967.1 L1247.04,958.8 L1247.38,955.8 L1247.72,953.2 L1248.06,951.3 L1248.40,962.1 L1248.74,961.9 L1249.08,963.4 L1249.42,970.7 L1249.76,972.4 L1250.10,974.3 L1250.44,980.7 L1250.78,986.9 L1251.12,989.7 L1251.46,991.8 L1251.80,987.7 L1252.14,989.2 L1252.48,984.4 L1252.82,983.7 L1253.16,984.0 L1253.50,980.7 L1253.84,977.3 L1254.18,979.8 L1254.52,980.0 L1254.86,974.5 L1255.20,974.8 L1255.54,974.7 L1255.88,978.2 L1256.22,977.4 L1256.56,976.2 L1256.90,981.6 L1257.24,976.1 L1257.58,982.5 L1257.92,983.3 L1258.26,978.8 L1258.60,979.0 L1258.94,983.0 L1259.28,981.6 L1259.62,977.9 L1259.96,978.8 L1260.30,975.5 L1260.64,976.8 L1260.98,976.7 L1261.32,978.6 L1261.66,973.8 L1262.00,971.2 L1262.34,976.5 L1262.68,974.0 L1263.02,970.9 L1263.36,971.3 L1263.70,974.6 L1264.04,974.4 L1264.38,976.2 L1264.72,976.4 L1265.06,981.8 L1265.40,981.9 L1265.74,981.8 L1266.08,978.7 L1266.42,984.2 L1266.76,982.5 L1267.10,986.3 L1267.44,982.1 L1267.78,981.3 L1268.12,979.2 L1268.46,982.1 L1268.80,981.3 L1269.14,978.1 L1269.48,973.0 L1269.82,969.0 L1270.16,974.7 L1270.50,966.2 L1270.84,969.9 L1271.18,965.1 L1271.52,962.1 L1271.86,960.9 L1272.20,955.7 L1272.54,954.2 L1272.88,960.1 L1273.22,954.0 L1273.56,954.6 L1273.90,949.0 L1274.24,948.8 L1274.58,950.7 L1274.92,947.2 L1275.26,943.4 L1275.60,943.7 L1275.94,949.7 L1276.28,937.5 L1276.62,941.6 L1276.96,937.8 L1277.30,937.0 L1277.64,935.8 L1277.98,944.4 L1278.32,940.0 L1278.66,940.8 L1279.00,936.2 L1279.34,935.6 L1279.68,934.7 L1280.02,938.2 L1280.36,926.2 L1280.70,925.6 L1281.04,923.7 L1281.38,925.3 L1281.72,921.0 L1282.06,919.9 L1282.40,920.9 L1282.74,915.5 L1283.08,898.9 L1283.42,897.5 L1283.76,895.5 L1284.10,898.0 L1284.44,889.7 L1284.78,879.7 L1285.12,874.5 L1285.46,877.8 L1285.80,881.0 L1286.14,868.7 L1286.48,871.7 L1286.82,866.6 L1287.16,877.0 L1287.50,867.4 L1287.84,871.0 L1288.18,856.2 L1288.52,852.1 L1288.86,862.1 L1289.20,845.1 L1289.54,847.2 L1289.88,830.9 L1290.22,833.0 L1290.56,834.3 L1290.90,831.2 L1291.24,834.7 L1291.58,845.9 L1291.92,824.5 L1292.26,827.7 L1292.60,852.1 L1292.94,857.3 L1293.28,860.4 L1293.62,886.7 L1293.96,892.3 L1294.30,884.9 L1294.64,882.8 L1294.98,878.6 L1295.32,880.5 L1295.66,857.2 L1296.00,871.7 L1296.34,864.5 L1296.68,869.0 L1297.02,864.7 L1297.36,855.4 L1297.70,856.3 L1298.04,843.7 L1298.38,844.1 L1298.72,837.3 L1299.06,842.2 L1299.40,852.0 L1299.74,840.8 L1300.08,858.9 L1300.42,844.5 L1300.76,859.9 L1301.10,853.2 L1301.44,866.8 L1301.78,874.0 L1302.12,879.7 L1302.46,880.5 L1302.80,866.3 L1303.14,878.0 L1303.48,868.3 L1303.82,872.5 L1304.16,863.4 L1304.50,869.7 L1304.84,874.0 L1305.18,862.9 L1305.52,877.2 L1305.86,887.1 L1306.20,882.6 L1306.54,881.7 L1306.88,882.8 L1307.22,891.5 L1307.56,892.5 L1307.90,896.1 L1308.24,894.7 L1308.58,891.5 L1308.92,890.5 L1309.26,888.9 L1309.60,885.2 L1309.94,872.4 L1310.28,876.9 L1310.62,869.8 L1310.96,859.6 L1311.30,869.8 L1311.64,855.1 L1311.98,865.6 L1312.32,859.1 L1312.66,844.4 L1313.00,850.5 L1313.34,858.4 L1313.68,855.7 L1314.02,876.8 L1314.36,881.7 L1314.70,867.0 L1315.04,885.0 L1315.38,880.7 L1315.72,891.4 L1316.06,895.5 L1316.40,888.4 L1316.74,893.2 L1317.08,889.8 L1317.42,897.8 L1317.76,905.6 L1318.10,894.2 L1318.44,889.8 L1318.78,909.0 L1319.12,892.7 L1319.46,906.3 L1319.80,905.7 L1320.14,903.8 L1320.48,914.6 L1320.82,901.6 L1321.16,905.1 L1321.50,917.7 L1321.84,906.8 L1322.18,914.0 L1322.52,915.5 L1322.86,922.4 L1323.20,930.0 L1323.54,935.9 L1323.88,928.7 L1324.22,928.5 L1324.56,940.7 L1324.90,942.6 L1325.24,930.4 L1325.58,938.1 L1325.92,937.6 L1326.26,936.8 L1326.60,937.5 L1326.94,932.5 L1327.28,940.6 L1327.62,931.6 L1327.96,942.5 L1328.30,943.6 L1328.64,943.1 L1328.98,938.5 L1329.32,946.8 L1329.66,938.6 L1330.00,943.2 L1330.34,944.5 L1330.68,941.3 L1331.02,952.5 L1331.36,941.4 L1331.70,938.2 L1332.04,925.8 L1332.38,921.6 L1332.72,923.4 L1333.06,915.7 L1333.40,911.1 L1333.74,916.7 L1334.08,909.5 L1334.42,918.4 L1334.76,923.0 L1335.10,909.4 L1335.44,914.9 L1335.78,915.0 L1336.12,913.1 L1336.46,926.0 L1336.80,921.4 L1337.14,919.2 L1337.48,918.2 L1337.82,918.2 L1338.16,910.7 L1338.50,908.2 L1338.84,905.1 L1339.18,905.7 L1339.52,905.8 L1339.86,915.4 L1340.20,906.5 L1340.54,906.9 L1340.88,912.5 L1341.22,915.9 L1341.56,903.4 L1341.90,914.8 L1342.24,915.1 L1342.58,914.4 L1342.92,920.0 L1343.26,929.8 L1343.60,925.3 L1343.94,932.6 L1344.28,934.2 L1344.62,931.5 L1344.96,945.5 L1345.30,948.4 L1345.64,951.0 L1345.98,949.3 L1346.32,952.0 L1346.66,956.3 L1347.00,961.1 L1347.34,957.5 L1347.68,957.1 L1348.02,960.4 L1348.36,962.9 L1348.70,965.0 L1349.04,969.4 L1349.38,967.6 L1349.72,970.0 L1350.06,966.5 L1350.40,965.8 L1350.74,969.4 L1351.08,963.3 L1351.42,962.0 L1351.76,961.9 L1352.10,955.2 L1352.44,953.3 L1352.78,954.6 L1353.12,953.6 L1353.46,955.2 L1353.80,942.8 L1354.14,939.4 L1354.48,945.0 L1354.82,951.1 L1355.16,945.8 L1355.50,952.3 L1355.84,960.4 L1356.18,964.0 L1356.52,970.0 L1356.86,972.2 L1357.20,978.3 L1357.54,977.5 L1357.88,984.6 L1358.22,987.7 L1358.56,983.7 L1358.90,982.5 L1359.24,980.1 L1359.58,974.8 L1359.92,972.6 L1360.26,966.6 L1360.60,967.3 L1360.94,959.5 L1361.28,958.8 L1361.62,958.2 L1361.96,957.2 L1362.30,961.1 L1362.64,958.7 L1362.98,957.3 L1363.32,958.4 L1363.66,958.1 L1364.00,953.9 L1364.34,953.5 L1364.68,956.4 L1365.02,951.1 L1365.36,957.4 L1365.70,956.1 L1366.04,953.8 L1366.38,949.4 L1366.72,955.8 L1367.06,952.3 L1367.40,952.8 L1367.74,950.3 L1368.08,947.5 L1368.42,943.3 L1368.76,941.2 L1369.10,950.0 L1369.44,948.7 L1369.78,945.4 L1370.12,946.2 L1370.46,950.6 L1370.80,953.3 L1371.14,955.8 L1371.48,953.9 L1371.82,952.6 L1372.16,958.2 L1372.50,953.7 L1372.84,953.7 L1373.18,955.3 L1373.52,956.8 L1373.86,950.6 L1374.20,951.4 L1374.54,957.0 L1374.88,953.4 L1375.22,953.3 L1375.56,953.1 L1375.90,949.4 L1376.24,957.6 L1376.58,953.6 L1376.92,946.4 L1377.26,935.6 L1377.60,939.4 L1377.94,937.3 L1378.28,926.7 L1378.62,919.9 L1378.96,924.8 L1379.30,919.5 L1379.64,912.3 L1379.98,908.3 L1380.32,917.0 L1380.66,899.9 L1381.00,901.6 L1381.34,902.3 L1381.68,902.1 L1382.02,893.5 L1382.36,897.8 L1382.70,886.1 L1383.04,892.4 L1383.38,881.2 L1383.72,885.4 L1384.06,890.1 L1384.40,877.2 L1384.74,874.0 L1385.08,889.5 L1385.42,874.8 L1385.76,863.3 L1386.10,868.7 L1386.44,862.1 L1386.78,872.3 L1387.12,871.0 L1387.46,865.3 L1387.80,860.2 L1388.14,854.6 L1388.48,838.2 L1388.82,852.2 L1389.16,848.2 L1389.50,848.6 L1389.84,859.0 L1390.18,854.0 L1390.52,875.3 L1390.86,868.8 L1391.20,875.4 L1391.54,868.5 L1391.88,876.0 L1392.22,887.8 L1392.56,896.9 L1392.90,912.1 L1393.24,922.2 L1393.58,934.0 L1393.92,925.6 L1394.26,928.9 L1394.60,928.9 L1394.94,922.9 L1395.28,915.1 L1395.62,913.0 L1395.96,909.0 L1396.30,912.9 L1396.64,916.5 L1396.98,934.3 L1397.32,935.4 L1397.66,934.2 L1398.00,947.3 L1398.34,951.3 L1398.68,960.5 L1399.02,960.1 L1399.36,967.6 L1399.70,974.7 L1400.04,979.9 L1400.38,975.9 L1400.72,979.5 L1401.06,973.2 L1401.40,974.1 L1401.74,973.6 L1402.08,971.2 L1402.42,969.0 L1402.76,970.9 L1403.10,967.8 L1403.44,967.9 L1403.78,967.4 L1404.12,968.4 L1404.46,964.0 L1404.80,962.8 L1405.14,967.1 L1405.48,967.1 L1405.82,965.8 L1406.16,958.9 L1406.50,965.3 L1406.84,962.3 L1407.18,960.6 L1407.52,956.5 L1407.86,958.4 L1408.20,966.7 L1408.54,962.9 L1408.88,966.2 L1409.22,967.4 L1409.56,968.6 L1409.90,970.6 L1410.24,971.0 L1410.58,977.5 L1410.92,976.1 L1411.26,976.0 L1411.60,974.4 L1411.94,977.9 L1412.28,977.0 L1412.62,976.4 L1412.96,973.7 L1413.30,970.7 L1413.64,968.8 L1413.98,969.2 L1414.32,965.8 L1414.66,966.5 L1415.00,966.2 L1415.34,963.8 L1415.68,963.7 L1416.02,963.1 L1416.36,965.1 L1416.70,969.6 L1417.04,969.6 L1417.38,961.5 L1417.72,965.7 L1418.06,959.9 L1418.40,965.6 L1418.74,964.9 L1419.08,963.5 L1419.42,961.0 L1419.76,962.4 L1420.10,957.4 L1420.44,961.1 L1420.78,960.2 L1421.12,950.6 L1421.46,958.2 L1421.80,946.8 L1422.14,953.1 L1422.48,951.7 L1422.82,942.8 L1423.16,945.8 L1423.50,940.0 L1423.84,933.7 L1424.18,936.4 L1424.52,929.0 L1424.86,923.0 L1425.20,929.3 L1425.54,917.5 L1425.88,926.4 L1426.22,911.7 L1426.56,910.7 L1426.90,916.1 L1427.24,914.7 L1427.58,905.3 L1427.92,907.4 L1428.26,911.8 L1428.60,898.1 L1428.94,895.9 L1429.28,891.0 L1429.62,900.6 L1429.96,898.9 L1430.30,885.1 L1430.64,894.4 L1430.98,882.7 L1431.32,884.7 L1431.66,883.1 L1432.00,880.8 L1432.34,877.5 L1432.68,874.5 L1433.02,884.6 L1433.36,877.4 L1433.70,894.7 L1434.04,888.1 L1434.38,899.2 L1434.72,899.3 L1435.06,900.0 L1435.40,905.6 L1435.74,911.5 L1436.08,914.9 L1436.42,922.3 L1436.76,926.0 L1437.10,936.4 L1437.44,933.4 L1437.78,938.4 L1438.12,930.7 L1438.46,934.0 L1438.80,930.7 L1439.14,916.2 L1439.48,926.5 L1439.82,921.7 L1440.16,917.5 L1440.50,909.4 L1440.84,919.9 L1441.18,915.6 L1441.52,909.2 L1441.86,915.8 L1442.20,906.7 L1442.54,916.3 L1442.88,907.4 L1443.22,913.9 L1443.56,916.8 L1443.90,929.4 L1444.24,939.7 L1444.58,947.2 L1444.92,951.5 L1445.26,957.2 L1445.60,962.9 L1445.94,972.4 L1446.28,982.5 L1446.62,989.9 L1446.96,996.2 L1447.30,993.3 L1447.64,993.8 L1447.98,995.2 L1448.32,996.4 L1448.66,994.4 L1449.00,994.9 L1449.34,998.4 L1449.68,999.4 L1450.02,997.2 L1450.36,998.3 L1450.70,997.5 L1451.04,997.3 L1451.38,995.3 L1451.72,997.2 L1452.06,993.0 L1452.40,993.2 L1452.74,994.5 L1453.08,992.2 L1453.42,994.6 L1453.76,994.1 L1454.10,993.5 L1454.44,993.5 L1454.78,991.8 L1455.12,989.0 L1455.46,989.3 L1455.80,987.1 L1456.14,988.7 L1456.48,989.6 L1456.82,989.5 L1457.16,989.2 L1457.50,986.1 L1457.84,989.8 L1458.18,987.4 L1458.52,985.3 L1458.86,989.4 L1459.20,987.7 L1459.54,987.6 L1459.88,986.9 L1460.22,983.2 L1460.56,986.3 L1460.90,987.1 L1461.24,986.6 L1461.58,983.7 L1461.92,985.1 L1462.26,986.5 L1462.60,987.4 L1462.94,983.0 L1463.28,984.9 L1463.62,981.6 L1463.96,982.0 L1464.30,983.0 L1464.64,980.5 L1464.98,982.4 L1465.32,985.5 L1465.66,981.6 L1466.00,980.4 L1466.34,980.0 L1466.68,983.1 L1467.02,982.4 L1467.36,984.0 L1467.70,982.8 L1468.04,983.9 L1468.38,983.3 L1468.72,982.8 L1469.06,981.3 L1469.40,983.3 L1469.74,986.3 L1470.08,984.2 L1470.42,987.5 L1470.76,983.8 L1471.10,988.4 L1471.44,989.7 L1471.78,987.1 L1472.12,988.6 L1472.46,988.6 L1472.80,991.2 L1473.14,995.3 L1473.48,995.8 L1473.82,994.9 L1474.16,1000.4 L1474.50,1000.7 L1474.84,1002.8 L1475.18,1004.4 L1475.52,1005.9 L1475.86,1006.8 L1476.20,1006.7 L1476.54,1009.3 L1476.88,1010.4 L1477.22,1011.2 L1477.56,1013.1 L1477.90,1010.1 L1478.24,1010.0 L1478.58,1009.9 L1478.92,1007.9 L1479.26,1006.3 L1479.60,1004.3 L1479.94,1003.4 L1480.28,1002.4 L1480.62,1003.9 L1480.96,1001.1 L1481.30,999.2 L1481.64,1001.0 L1481.98,999.5 L1482.32,997.7 L1482.66,998.8 L1483.00,995.7 L1483.34,997.3 L1483.68,996.9 L1484.02,994.4 L1484.36,996.6 L1484.70,993.2 L1485.04,993.3 L1485.38,993.7 L1485.72,989.7 L1486.06,989.2 L1486.40,985.9 L1486.74,983.2 L1487.08,981.8 L1487.42,975.5 L1487.76,972.9 L1488.10,977.7 L1488.44,973.6 L1488.78,967.3 L1489.12,971.6 L1489.46,973.6 L1489.80,972.8 L1490.14,971.2 L1490.48,970.2 L1490.82,971.0 L1491.16,967.3 L1491.50,969.5 L1491.84,973.2 L1492.18,968.9 L1492.52,968.0 L1492.86,969.7 L1493.20,971.7 L1493.54,971.9 L1493.88,972.5 L1494.22,971.8 L1494.56,963.8 L1494.90,966.4 L1495.24,966.8 L1495.58,967.5 L1495.92,961.9 L1496.26,963.7 L1496.60,963.5 L1496.94,965.3 L1497.28,962.8 L1497.62,961.9 L1497.96,960.3 L1498.30,964.5 L1498.64,960.8 L1498.98,961.7 L1499.32,970.9 L1499.66,969.2 L1500.00,971.4 L1500.34,972.9 L1500.68,979.0 L1501.02,980.7 L1501.36,985.1 L1501.70,986.4 L1502.04,990.0 L1502.38,989.7 L1502.72,990.9 L1503.06,996.6 L1503.40,997.1 L1503.74,997.1 L1504.08,997.7 L1504.42,1001.0 L1504.76,1002.2 L1505.10,1003.7 L1505.44,1006.3 L1505.78,1003.2 L1506.12,1003.7 L1506.46,1000.3 L1506.80,1000.9 L1507.14,999.5 L1507.48,995.5 L1507.82,994.3 L1508.16,994.7 L1508.50,993.2 L1508.84,987.8 L1509.18,990.0 L1509.52,987.8 L1509.86,991.9 L1510.20,988.8 L1510.54,989.1 L1510.88,989.0 L1511.22,991.2 L1511.56,989.0 L1511.90,989.7 L1512.24,992.0 L1512.58,988.9 L1512.92,988.3 L1513.26,985.1 L1513.60,978.7 L1513.94,973.6 L1514.28,975.7 L1514.62,969.3 L1514.96,964.1 L1515.30,956.8 L1515.64,956.3 L1515.98,947.1 L1516.32,949.3 L1516.66,942.1 L1517.00,936.3 L1517.34,930.7 L1517.68,936.1 L1518.02,938.1 L1518.36,925.6 L1518.70,932.9 L1519.04,926.6 L1519.38,926.0 L1519.72,939.3 L1520.06,929.2 L1520.40,928.6 L1520.74,930.5 L1521.08,922.9 L1521.42,914.4 L1521.76,916.6 L1522.10,914.3 L1522.44,908.3 L1522.78,901.2 L1523.12,905.9 L1523.46,896.6 L1523.80,894.2 L1524.14,890.4 L1524.48,902.1 L1524.82,890.2 L1525.16,894.6 L1525.50,904.5 L1525.84,907.2 L1526.18,916.8 L1526.52,924.4 L1526.86,921.4 L1527.20,905.8 L1527.54,903.5 L1527.88,901.9 L1528.22,908.8 L1528.56,892.4 L1528.90,899.7 L1529.24,896.4 L1529.58,900.2 L1529.92,887.2 L1530.26,899.4 L1530.60,902.1 L1530.94,897.4 L1531.28,914.4 L1531.62,917.7 L1531.96,916.7 L1532.30,927.4 L1532.64,931.7 L1532.98,946.6 L1533.32,944.7 L1533.66,958.3 L1534.00,958.4 L1534.34,970.5 L1534.68,972.9 L1535.02,973.2 L1535.36,970.3 L1535.70,974.7 L1536.04,974.8 L1536.38,973.5 L1536.72,979.2 L1537.06,979.8 L1537.40,978.4 L1537.74,980.9 L1538.08,977.5 L1538.42,977.0 L1538.76,978.9 L1539.10,981.2 L1539.44,984.1 L1539.78,984.3 L1540.12,981.4 L1540.46,986.8 L1540.80,988.8 L1541.14,988.7 L1541.48,989.9 L1541.82,991.4 L1542.16,991.8 L1542.50,993.9 L1542.84,996.4 L1543.18,997.8 L1543.52,999.2 L1543.86,1000.2 L1544.20,1003.1 L1544.54,1002.0 L1544.88,1003.5 L1545.22,1006.3 L1545.56,1005.0 L1545.90,1004.9 L1546.24,1004.3 L1546.58,1004.0 L1546.92,1003.5 L1547.26,1004.0 L1547.60,1004.8 L1547.94,1002.0 L1548.28,1004.9 L1548.62,1002.1 L1548.96,1003.0 L1549.30,1004.0 L1549.64,1001.4 L1549.98,1003.0 L1550.32,1000.4 L1550.66,997.5 L1551.00,996.1 L1551.34,989.9 L1551.68,987.5 L1552.02,988.8 L1552.36,986.5 L1552.70,978.1 L1553.04,978.9 L1553.38,971.5 L1553.72,975.1 L1554.06,972.3 L1554.40,967.1 L1554.74,962.1 L1555.08,961.3 L1555.42,959.8 L1555.76,961.8 L1556.10,961.2 L1556.44,960.8 L1556.78,960.0 L1557.12,952.8 L1557.46,952.0 L1557.80,956.5 L1558.14,954.3 L1558.48,958.2 L1558.82,947.5 L1559.16,950.6 L1559.50,955.1 L1559.84,949.7 L1560.18,946.6 L1560.52,950.3 L1560.86,958.6 L1561.20,957.9 L1561.54,960.0 L1561.88,955.4 L1562.22,962.3 L1562.56,955.8 L1562.90,959.4 L1563.24,964.4 L1563.58,965.8 L1563.92,964.9 L1564.26,970.5 L1564.60,966.3 L1564.94,966.5 L1565.28,967.0 L1565.62,972.6 L1565.96,974.2 L1566.30,975.2 L1566.64,974.6 L1566.98,971.1 L1567.32,975.1 L1567.66,974.3 L1568.00,976.2 L1568.34,975.4 L1568.68,981.1 L1569.02,971.6 L1569.36,965.9 L1569.70,962.0 L1570.04,946.0 L1570.38,938.1 L1570.72,929.3 L1571.06,918.0 L1571.40,917.9 L1571.74,910.4 L1572.08,904.1 L1572.42,904.0 L1572.76,889.2 L1573.10,885.2 L1573.44,892.5 L1573.78,893.4 L1574.12,887.3 L1574.46,890.3 L1574.80,886.7 L1575.14,890.7 L1575.48,891.7 L1575.82,894.0 L1576.16,889.4 L1576.50,898.3 L1576.84,894.0 L1577.18,896.4 L1577.52,898.2 L1577.86,908.8 L1578.20,897.6 L1578.54,916.0 L1578.88,903.2 L1579.22,912.9 L1579.56,908.1 L1579.90,917.6 L1580.24,924.1 L1580.58,922.1 L1580.92,927.4 L1581.26,939.4 L1581.60,938.6 L1581.94,940.5 L1582.28,943.7 L1582.62,951.5 L1582.96,942.5 L1583.30,929.8 L1583.64,925.0 L1583.98,911.5 L1584.32,914.8 L1584.66,909.9 L1585.00,899.5 L1585.34,898.5 L1585.68,886.3 L1586.02,901.2 L1586.36,894.2 L1586.70,899.6 L1587.04,895.9 L1587.38,898.1 L1587.72,901.7 L1588.06,908.8 L1588.40,915.1 L1588.74,918.8 L1589.08,927.5 L1589.42,945.3 L1589.76,952.2 L1590.10,950.7 L1590.44,943.3 L1590.78,947.2 L1591.12,930.6 L1591.46,933.4 L1591.80,929.3 L1592.14,919.6 L1592.48,922.2 L1592.82,914.6 L1593.16,917.7 L1593.50,909.4 L1593.84,904.0 L1594.18,891.9 L1594.52,904.2 L1594.86,886.2 L1595.20,890.9 L1595.54,902.7 L1595.88,908.0 L1596.22,916.7 L1596.56,921.4 L1596.90,925.4 L1597.24,918.4 L1597.58,902.1 L1597.92,899.4 L1598.26,878.6 L1598.60,872.6 L1598.94,885.2 L1599.28,879.3 L1599.62,888.1 L1599.96,873.7 L1600.30,885.5 L1600.64,879.1 L1600.98,892.4 L1601.32,898.3 L1601.66,886.2 L1602.00,875.3 L1602.34,879.9 L1602.68,872.5 L1603.02,878.4 L1603.36,884.1 L1603.70,886.2 L1604.04,869.7 L1604.38,866.4 L1604.72,863.7 L1605.06,869.3 L1605.40,867.8 L1605.74,866.3 L1606.08,881.5 L1606.42,869.9 L1606.76,871.6 L1607.10,876.1 L1607.44,892.6 L1607.78,891.0 L1608.12,894.6 L1608.46,905.1 L1608.80,907.7 L1609.14,906.9 L1609.48,912.0 L1609.82,908.9 L1610.16,913.3 L1610.50,919.6 L1610.84,911.3 L1611.18,919.8 L1611.52,921.7 L1611.86,923.1 L1612.20,928.0 L1612.54,933.2 L1612.88,937.5 L1613.22,941.5 L1613.56,943.2 L1613.90,939.5 L1614.24,946.2 L1614.58,954.7 L1614.92,952.6 L1615.26,957.3 L1615.60,949.8 L1615.94,957.3 L1616.28,948.5 L1616.62,950.0 L1616.96,945.0 L1617.30,944.1 L1617.64,946.2 L1617.98,945.3 L1618.32,948.3 L1618.66,938.8 L1619.00,946.0 L1619.34,936.4 L1619.68,937.1 L1620.02,943.3 L1620.36,936.1 L1620.70,931.3 L1621.04,932.7 L1621.38,937.8 L1621.72,940.7 L1622.06,932.8 L1622.40,940.4 L1622.74,940.9 L1623.08,939.6 L1623.42,946.2 L1623.76,946.9 L1624.10,954.2 L1624.44,948.5 L1624.78,955.5 L1625.12,953.1 L1625.46,946.2 L1625.80,938.6 L1626.14,938.6 L1626.48,927.0 L1626.82,914.7 L1627.16,908.8 L1627.50,908.5 L1627.84,915.3 L1628.18,907.4 L1628.52,912.0 L1628.86,896.2 L1629.20,900.1 L1629.54,901.9 L1629.88,902.1 L1630.22,886.1 L1630.56,890.3 L1630.90,898.1 L1631.24,891.1 L1631.58,879.6 L1631.92,883.7 L1632.26,883.7 L1632.60,871.2 L1632.94,878.6 L1633.28,879.9 L1633.62,891.0 L1633.96,881.9 L1634.30,882.6 L1634.64,873.4 L1634.98,873.1 L1635.32,882.7 L1635.66,886.9 L1636.00,878.6 L1636.34,886.1 L1636.68,874.2 L1637.02,876.2 L1637.36,879.9 L1637.70,873.5 L1638.04,874.8 L1638.38,879.2 L1638.72,865.3 L1639.06,874.6 L1639.40,882.3 L1639.74,882.7 L1640.08,876.3 L1640.42,885.7 L1640.76,878.4 L1641.10,894.7 L1641.44,898.8 L1641.78,892.2 L1642.12,897.5 L1642.46,901.2 L1642.80,901.7 L1643.14,900.4 L1643.48,902.3 L1643.82,903.8 L1644.16,895.8 L1644.50,886.4 L1644.84,901.3 L1645.18,889.2 L1645.52,900.8 L1645.86,907.5 L1646.20,912.5 L1646.54,910.9 L1646.88,916.0 L1647.22,924.8 L1647.56,924.6 L1647.90,918.6 L1648.24,930.4 L1648.58,928.1 L1648.92,924.2 L1649.26,925.5 L1649.60,929.7 L1649.94,932.3 L1650.28,940.2 L1650.62,938.7 L1650.96,945.5 L1651.30,944.6 L1651.64,949.9 L1651.98,952.1 L1652.32,956.5 L1652.66,963.2 L1653.00,962.5 L1653.34,969.3 L1653.68,975.7 L1654.02,974.8 L1654.36,982.1 L1654.70,988.7 L1655.04,992.3 L1655.38,997.4 L1655.72,995.1 L1656.06,994.6 L1656.40,991.0 L1656.74,987.6 L1657.08,989.4 L1657.42,984.5 L1657.76,985.1 L1658.10,983.3 L1658.44,981.5 L1658.78,975.9 L1659.12,979.2 L1659.46,974.7 L1659.80,977.3 L1660.14,971.9 L1660.48,977.4 L1660.82,971.4 L1661.16,976.0 L1661.50,974.9 L1661.84,969.9 L1662.18,973.6 L1662.52,974.2 L1662.86,975.9 L1663.20,978.1 L1663.54,973.3 L1663.88,975.6 L1664.22,976.1 L1664.56,979.2 L1664.90,976.7 L1665.24,980.2 L1665.58,978.9 L1665.92,979.7 L1666.26,984.1 L1666.60,981.7 L1666.94,982.3 L1667.28,980.5 L1667.62,980.8 L1667.96,977.1 L1668.30,972.6 L1668.64,979.0 L1668.98,972.0 L1669.32,975.6 L1669.66,969.0 L1670.00,969.3 L1670.34,965.0 L1670.68,966.1 L1671.02,958.4 L1671.36,955.9 L1671.70,957.4 L1672.04,959.3 L1672.38,952.9 L1672.72,949.7 L1673.06,961.0 L1673.40,953.9 L1673.74,958.1 L1674.08,962.6 L1674.42,961.9 L1674.76,967.9 L1675.10,967.4 L1675.44,972.6 L1675.78,968.8 L1676.12,976.7 L1676.46,975.7 L1676.80,966.3 L1677.14,961.9 L1677.48,964.0 L1677.82,955.3 L1678.16,950.9 L1678.50,949.0 L1678.84,944.4 L1679.18,943.1 L1679.52,936.7 L1679.86,932.6 L1680.20,923.9 L1680.54,920.4 L1680.88,921.4 L1681.22,917.1 L1681.56,908.1 L1681.90,903.1 L1682.24,895.0 L1682.58,896.7 L1682.92,889.5 L1683.26,893.4 L1683.60,883.2 L1683.94,885.4 L1684.28,884.2 L1684.62,887.6 L1684.96,893.5 L1685.30,883.4 L1685.64,896.0 L1685.98,900.3 L1686.32,890.1 L1686.66,891.4 L1687.00,892.5 L1687.34,904.2 L1687.68,901.7 L1688.02,897.3 L1688.36,900.9 L1688.70,907.3 L1689.04,904.1 L1689.38,918.7 L1689.72,910.8 L1690.06,922.9 L1690.40,912.5 L1690.74,919.4 L1691.08,930.6 L1691.42,918.5 L1691.76,914.2 L1692.10,924.5 L1692.44,921.6 L1692.78,914.3 L1693.12,905.7 L1693.46,906.1 L1693.80,906.4 L1694.14,913.4 L1694.48,897.3 L1694.82,908.3 L1695.16,912.2 L1695.50,918.0 L1695.84,917.7 L1696.18,915.9 L1696.52,920.1 L1696.86,923.8 L1697.20,928.6 L1697.54,930.9 L1697.88,929.1 L1698.22,942.2 L1698.56,941.0 L1698.90,948.3 L1699.24,948.8 L1699.58,954.4 L1699.92,964.0 L1700.26,957.6 L1700.60,966.5 L1700.94,965.5 L1701.28,974.9 L1701.62,976.7 L1701.96,979.6 L1702.30,978.3 L1702.64,972.5 L1702.98,971.8 L1703.32,973.4 L1703.66,967.6 L1704.00,969.8 L1704.34,966.8 L1704.68,961.8 L1705.02,960.1 L1705.36,957.8 L1705.70,952.9 L1706.04,951.4 L1706.38,950.0 L1706.72,948.9 L1707.06,950.8 L1707.40,943.8 L1707.74,942.5 L1708.08,942.2 L1708.42,941.2 L1708.76,941.3 L1709.10,934.2 L1709.44,928.2 L1709.78,926.0 L1710.12,912.5 L1710.46,918.5 L1710.80,905.5 L1711.14,913.1 L1711.48,913.1 L1711.82,910.8 L1712.16,918.2 L1712.50,905.1 L1712.84,907.7 L1713.18,916.8 L1713.52,914.1 L1713.86,913.5 L1714.20,930.2 L1714.54,923.2 L1714.88,924.7 L1715.22,910.6 L1715.56,911.4 L1715.90,896.1 L1716.24,901.2 L1716.58,897.9 L1716.92,891.1 L1717.26,883.2 L1717.60,884.9 L1717.94,872.5 L1718.28,881.3 L1718.62,871.5 L1718.96,865.3 L1719.30,871.1 L1719.64,878.7 L1719.98,864.0 L1720.32,877.0 L1720.66,866.6 L1721.00,869.5 L1721.34,859.4 L1721.68,861.4 L1722.02,873.0 L1722.36,878.6 L1722.70,863.1 L1723.04,872.9 L1723.38,877.2 L1723.72,876.2 L1724.06,878.5 L1724.40,858.2 L1724.74,872.9 L1725.08,866.0 L1725.42,862.4 L1725.76,874.8 L1726.10,887.1 L1726.44,875.4 L1726.78,875.6 L1727.12,893.3 L1727.46,888.4 L1727.80,880.9 L1728.14,881.7 L1728.48,886.6 L1728.82,890.2 L1729.16,908.8 L1729.50,908.7 L1729.84,902.8 L1730.18,907.9 L1730.52,906.5 L1730.86,912.3 L1731.20,912.7 L1731.54,893.2 L1731.88,891.7 L1732.22,901.1 L1732.56,888.6 L1732.90,893.8 L1733.24,898.4 L1733.58,897.1 L1733.92,891.8 L1734.26,894.8 L1734.60,900.7 L1734.94,894.5 L1735.28,910.0 L1735.62,898.5 L1735.96,910.4 L1736.30,900.1 L1736.64,909.8 L1736.98,919.4 L1737.32,920.8 L1737.66,916.7 L1738.00,922.9 L1738.34,929.1 L1738.68,935.0 L1739.02,945.2 L1739.36,941.4 L1739.70,940.6 L1740.04,938.3 L1740.38,929.5 L1740.72,933.6 L1741.06,916.6 L1741.40,923.7 L1741.74,922.0 L1742.08,907.7 L1742.42,910.8 L1742.76,907.4 L1743.10,906.2 L1743.44,901.9 L1743.78,897.4 L1744.12,889.9 L1744.46,890.4 L1744.80,881.8 L1745.14,890.2 L1745.48,885.4 L1745.82,874.0 L1746.16,873.0 L1746.50,875.8 L1746.84,871.0 L1747.18,869.1 L1747.52,880.4 L1747.86,868.3 L1748.20,860.3 L1748.54,878.5 L1748.88,878.9 L1749.22,877.5 L1749.56,870.4 L1749.90,883.9 L1750.24,884.2 L1750.58,880.0 L1750.92,882.7 L1751.26,884.9 L1751.60,884.0 L1751.94,893.8 L1752.28,896.2 L1752.62,896.7 L1752.96,898.6 L1753.30,896.7 L1753.64,897.2 L1753.98,911.7 L1754.32,907.4 L1754.66,914.2 L1755.00,898.7 L1755.34,894.9 L1755.68,903.2 L1756.02,899.4 L1756.36,891.9 L1756.70,891.4 L1757.04,897.3 L1757.38,889.7 L1757.72,887.7 L1758.06,884.6 L1758.40,884.9 L1758.74,891.7 L1759.08,892.8 L1759.42,903.0 L1759.76,910.8 L1760.10,910.7 L1760.44,902.7 L1760.78,905.6 L1761.12,913.2 L1761.46,919.9 L1761.80,913.3 L1762.14,915.5 L1762.48,921.2 L1762.82,928.2 L1763.16,925.8 L1763.50,921.9 L1763.84,934.1 L1764.18,939.3 L1764.52,939.1 L1764.86,932.9 L1765.20,939.1 L1765.54,945.7 L1765.88,948.8 L1766.22,947.5 L1766.56,953.3 L1766.90,958.0 L1767.24,962.4 L1767.58,969.9 L1767.92,969.7 L1768.26,970.3 L1768.60,968.4 L1768.94,971.0 L1769.28,978.9 L1769.62,979.6 L1769.96,982.6 L1770.30,981.3 L1770.64,988.8 L1770.98,988.3 L1771.32,990.5 L1771.66,991.8 L1772.00,992.2 L1772.34,993.6 L1772.68,991.4 L1773.02,991.4 L1773.36,993.9 L1773.70,996.2 L1774.04,996.7 L1774.38,995.8 L1774.72,998.0 L1775.06,998.8 L1775.40,999.5 L1775.74,1000.8 L1776.08,999.5 L1776.42,1001.0 L1776.76,1001.9 L1777.10,999.6 L1777.44,1002.4 L1777.78,1000.2 L1778.12,1001.6 L1778.46,999.8 L1778.80,1000.1 L1779.14,999.9 L1779.48,1002.1 L1779.82,1000.1 L1780.16,1001.9 L1780.50,1003.0 L1780.84,1001.5 L1781.18,1001.4 L1781.52,1004.0 L1781.86,1001.1 L1782.20,1002.3 L1782.54,1001.7 L1782.88,1003.2 L1783.22,1002.0 L1783.56,1001.3 L1783.90,1000.3 L1784.24,1002.3 L1784.58,1000.1 L1784.92,1001.8 L1785.26,1001.3 L1785.60,1000.5 L1785.94,1002.1 L1786.28,1000.5 L1786.62,999.9 L1786.96,999.9 L1787.30,997.2 L1787.64,997.9 L1787.98,995.6 L1788.32,995.7 L1788.66,994.8 L1789.00,996.7 L1789.34,995.1 L1789.68,993.9 L1790.02,994.5 L1790.36,996.6 L1790.70,991.9 L1791.04,991.7 L1791.38,995.0 L1791.72,991.3 L1792.06,993.1 L1792.40,989.7 L1792.74,988.9 L1793.08,991.5 L1793.42,991.7 L1793.76,988.4 L1794.10,988.6 L1794.44,985.7 L1794.78,988.5 L1795.12,983.2 L1795.46,984.7 L1795.80,986.0 L1796.14,980.1 L1796.48,982.4 L1796.82,979.7 L1797.16,981.2 L1797.50,980.1 L1797.84,976.3 L1798.18,975.0 L1798.52,972.9 L1798.86,961.9 L1799.20,946.9 L1799.54,946.9 L1799.88,937.6 L1800.22,930.3 L1800.56,928.5 L1800.90,924.8 L1801.24,922.6 L1801.58,916.6 L1801.92,915.0 L1802.26,920.3 L1802.60,917.5 L1802.94,901.0 L1803.28,898.5 L1803.62,896.3 L1803.96,890.0 L1804.30,886.3 L1804.64,889.3 L1804.98,885.7 L1805.32,876.3 L1805.66,883.5 L1806.00,880.2 L1806.34,888.6 L1806.68,884.3 L1807.02,877.5 L1807.36,872.6 L1807.70,862.0 L1808.04,881.0 L1808.38,893.8 L1808.72,900.8 L1809.06,906.4 L1809.40,909.3 L1809.74,905.2 L1810.08,897.7 L1810.42,893.8 L1810.76,892.6 L1811.10,882.4 L1811.44,881.7 L1811.78,891.6 L1812.12,882.4 L1812.46,879.9 L1812.80,866.6 L1813.14,873.6 L1813.48,872.3 L1813.82,881.5 L1814.16,874.7 L1814.50,865.1 L1814.84,864.4 L1815.18,864.3 L1815.52,876.5 L1815.86,882.6 L1816.20,880.9 L1816.54,895.5 L1816.88,894.7 L1817.22,895.2 L1817.56,899.7 L1817.90,911.9 L1818.24,919.8 L1818.58,927.7 L1818.92,929.0 L1819.26,934.9 L1819.60,934.7 L1819.94,935.6 L1820.28,939.9 L1820.62,941.4 L1820.96,943.8 L1821.30,948.2 L1821.64,949.1 L1821.98,955.1 L1822.32,952.8 L1822.66,960.6 L1823.00,965.3 L1823.34,964.6 L1823.68,970.3 L1824.02,967.0 L1824.36,968.1 L1824.70,966.1 L1825.04,969.1 L1825.38,967.7 L1825.72,968.1 L1826.06,965.4 L1826.40,963.2 L1826.74,969.2 L1827.08,970.2 L1827.42,962.5 L1827.76,966.6 L1828.10,962.1 L1828.44,964.9 L1828.78,962.7 L1829.12,963.3 L1829.46,964.8 L1829.80,956.8 L1830.14,962.0 L1830.48,954.3 L1830.82,959.5 L1831.16,952.0 L1831.50,951.5 L1831.84,953.1 L1832.18,949.8 L1832.52,955.6 L1832.86,946.2 L1833.20,948.7 L1833.54,950.5 L1833.88,952.2 L1834.22,953.2 L1834.56,946.8 L1834.90,941.5 L1835.24,940.7 L1835.58,944.2 L1835.92,937.2 L1836.26,944.9 L1836.60,943.7 L1836.94,941.0 L1837.28,943.2 L1837.62,935.0 L1837.96,940.5 L1838.30,928.1 L1838.64,927.0 L1838.98,929.2 L1839.32,932.7 L1839.66,917.7 L1840.00,928.8 L1840.34,919.5 L1840.68,925.4 L1841.02,924.2 L1841.36,923.6 L1841.70,917.2 L1842.04,908.7 L1842.38,910.5 L1842.72,910.3 L1843.06,914.2 L1843.40,907.7 L1843.74,909.7 L1844.08,909.9 L1844.42,916.8 L1844.76,911.6 L1845.10,918.0 L1845.44,928.2 L1845.78,921.5 L1846.12,927.1 L1846.46,933.8 L1846.80,935.7 L1847.14,936.6 L1847.48,935.7 L1847.82,949.7 L1848.16,954.1 L1848.50,956.5 L1848.84,954.2 L1849.18,950.5 L1849.52,945.3 L1849.86,934.8 L1850.20,928.2 L1850.54,923.7 L1850.88,913.1 L1851.22,914.1 L1851.56,924.3 L1851.90,927.4 L1852.24,929.0 L1852.58,929.6 L1852.92,925.9 L1853.26,931.4 L1853.60,940.1 L1853.94,933.8 L1854.28,917.0 L1854.62,911.4 L1854.96,901.1 L1855.30,897.2 L1855.64,890.9 L1855.98,877.6 L1856.32,881.9 L1856.66,852.5 L1857.00,850.1 L1857.34,825.3 L1857.68,819.1 L1858.02,817.7 L1858.36,780.8 L1858.70,783.0 L1859.04,768.3 L1859.38,753.8 L1859.72,747.3 L1860.06,751.1 L1860.40,735.2 L1860.74,734.2 L1861.08,754.8 L1861.42,728.3 L1861.76,761.1 L1862.10,769.3 L1862.44,761.2 L1862.78,755.2 L1863.12,766.9 L1863.46,775.4 L1863.80,788.5 L1864.14,803.4 L1864.48,791.5 L1864.82,790.4 L1865.16,800.4 L1865.50,827.4 L1865.84,810.5 L1866.18,818.3 L1866.52,807.4 L1866.86,812.2 L1867.20,794.3 L1867.54,793.9 L1867.88,774.2 L1868.22,761.7 L1868.56,757.3 L1868.90,744.9 L1869.24,735.0 L1869.58,719.9 L1869.92,733.0 L1870.26,713.1 L1870.60,716.2 L1870.94,717.8 L1871.28,718.8 L1871.62,706.6 L1871.96,709.8 L1872.30,746.3 L1872.64,740.2 L1872.98,754.5 L1873.32,759.6 L1873.66,755.9 L1874.00,783.9 L1874.34,774.6 L1874.68,780.3 L1875.02,794.1 L1875.36,796.4 L1875.70,787.3 L1876.04,802.5 L1876.38,781.7 L1876.72,782.2 L1877.06,753.5 L1877.40,731.9 L1877.74,729.1 L1878.08,722.9 L1878.42,742.5 L1878.76,746.5 L1879.10,765.5 L1879.44,762.0 L1879.78,784.8 L1880.12,799.5 L1880.46,823.3 L1880.80,833.0 L1881.14,832.4 L1881.48,836.6 L1881.82,854.7 L1882.16,867.5 L1882.50,864.3 L1882.84,854.7 L1883.18,867.6 L1883.52,867.7 L1883.86,880.1 L1884.20,877.0 L1884.54,886.5 L1884.88,868.6 L1885.22,882.4 L1885.56,867.7 L1885.90,869.6 L1886.24,874.7 L1886.58,874.7 L1886.92,851.8 L1887.26,864.1 L1887.60,841.4 L1887.94,842.0 L1888.28,834.1 L1888.62,849.8 L1888.96,819.0 L1889.30,834.0 L1889.64,819.9 L1889.98,820.6 L1890.32,794.3 L1890.66,800.9 L1891.00,797.6 L1891.34,776.6 L1891.68,778.4 L1892.02,744.5 L1892.36,732.1 L1892.70,744.5 L1893.04,717.8 L1893.38,738.7 L1893.72,719.6 L1894.06,728.7 L1894.40,721.6 L1894.74,709.0 L1895.08,717.0 L1895.42,674.2 L1895.76,684.4 L1896.10,660.2 L1896.44,691.1 L1896.78,697.4 L1897.12,702.0 L1897.46,683.8 L1897.80,704.8 L1898.14,671.4 L1898.48,663.6 L1898.82,677.8 L1899.16,681.9 L1899.50,629.0 L1899.84,647.4 L1900.18,647.7 L1900.52,628.6 L1900.86,637.1 L1901.20,679.9 L1901.54,690.5 L1901.88,676.6 L1902.22,673.3 L1902.56,723.6 L1902.90,710.1 L1903.24,710.9 L1903.58,753.2 L1903.92,752.1 L1904.26,742.8 L1904.60,720.0 L1904.94,705.9 L1905.28,693.9 L1905.62,702.8 L1905.96,684.0 L1906.30,702.4 L1906.64,709.7 L1906.98,704.1 L1907.32,660.3 L1907.66,689.5 L1908.00,656.4 L1908.34,683.0 L1908.68,702.8 L1909.02,733.9 L1909.36,731.7 L1909.70,756.3 L1910.04,775.5 L1910.38,729.7 L1910.72,733.8 L1911.06,731.2 L1911.40,705.1 L1911.74,704.4 L1912.08,714.4 L1912.42,712.6 L1912.76,734.8 L1913.10,762.9 L1913.44,739.7 L1913.78,765.1 L1914.12,731.9 L1914.46,740.0 L1914.80,747.3 L1915.14,751.3 L1915.48,722.6 L1915.82,734.1 L1916.16,736.0 L1916.50,728.6 L1916.84,736.0 L1917.18,763.2 L1917.52,783.6 L1917.86,764.9 L1918.20,788.0 L1918.54,788.3 L1918.88,782.6 L1919.22,798.6 L1919.56,783.3 L1919.90,796.9 L1920.24,808.0 L1920.58,823.0 L1920.92,811.4 L1921.26,818.9 L1921.60,849.3 L1921.94,839.7 L1922.28,851.6 L1922.62,856.0 L1922.96,834.9 L1923.30,842.4 L1923.64,860.4 L1923.98,833.1 L1924.32,854.5 L1924.66,850.1 L1925.00,838.1 L1925.34,822.1 L1925.68,825.7 L1926.02,799.8 L1926.36,804.9 L1926.70,791.6 L1927.04,802.0 L1927.38,808.1 L1927.72,783.1 L1928.06,810.5 L1928.40,780.1 L1928.74,782.7 L1929.08,785.5 L1929.42,773.2 L1929.76,794.5 L1930.10,790.4 L1930.44,785.6 L1930.78,778.2 L1931.12,782.7 L1931.46,773.0 L1931.80,782.2 L1932.14,789.3 L1932.48,782.2 L1932.82,763.0 L1933.16,779.6 L1933.50,753.3 L1933.84,764.4 L1934.18,763.3 L1934.52,746.1 L1934.86,761.3 L1935.20,765.2 L1935.54,728.4 L1935.88,724.4 L1936.22,734.1 L1936.56,721.9 L1936.90,762.1 L1937.24,730.6 L1937.58,724.9 L1937.92,742.6 L1938.26,758.8 L1938.60,763.9 L1938.94,772.7 L1939.28,755.0 L1939.62,767.3 L1939.96,770.3 L1940.30,796.7 L1940.64,779.5 L1940.98,785.7 L1941.32,757.1 L1941.66,779.1 L1942.00,750.2 L1942.34,779.3 L1942.68,745.4 L1943.02,749.3 L1943.36,757.8 L1943.70,744.0 L1944.04,714.0 L1944.38,745.7 L1944.72,731.4 L1945.06,726.6 L1945.40,709.4 L1945.74,686.7 L1946.08,704.8 L1946.42,688.5 L1946.76,715.1 L1947.10,691.4 L1947.44,709.1 L1947.78,703.9 L1948.12,686.0 L1948.46,711.9 L1948.80,726.2 L1949.14,682.5 L1949.48,708.4 L1949.82,711.6 L1950.16,723.2 L1950.50,705.0 L1950.84,735.1 L1951.18,737.2 L1951.52,719.3 L1951.86,749.9 L1952.20,741.6 L1952.54,734.3 L1952.88,739.0 L1953.22,745.8 L1953.56,765.3 L1953.90,744.6 L1954.24,767.1 L1954.58,776.8 L1954.92,768.1 L1955.26,789.2 L1955.60,788.6 L1955.94,787.9 L1956.28,810.3 L1956.62,802.6 L1956.96,795.0 L1957.30,791.6 L1957.64,807.0 L1957.98,803.0 L1958.32,781.2 L1958.66,774.5 L1959.00,763.2 L1959.34,784.7 L1959.68,801.6 L1960.02,811.5 L1960.36,807.0 L1960.70,835.3 L1961.04,830.6 L1961.38,843.4 L1961.72,871.4 L1962.06,887.5 L1962.40,914.1 L1962.74,932.6 L1963.08,953.8 L1963.42,974.1 L1963.76,991.2 L1964.10,996.8 L1964.44,998.9 L1964.78,999.5 L1965.12,1001.8 L1965.46,1003.3 L1965.80,1005.0 L1966.14,1007.8 L1966.48,1010.3 L1966.82,1013.0 L1967.16,1013.1 L1967.50,1013.9 L1967.84,1014.6 L1968.18,1015.4 L1968.52,1016.0 L1968.86,1015.6 L1969.20,1016.5 L1969.54,1017.1 L1969.88,1018.3 L1970.22,1018.1 L1970.56,1018.9 L1970.90,1018.7 L1971.24,1018.3 L1971.58,1018.8 L1971.92,1019.2 L1972.26,1019.1 L1972.60,1019.6" fill="none" stroke="#77777e" stroke-width="3.3" stroke-linejoin="round"/>
<circle cx="161.2" cy="956.2" r="6.9" fill="#ec7a32"/>
<circle cx="159.5" cy="978.8" r="6.9" fill="#ec7a32"/>
<circle cx="159.5" cy="988.8" r="6.9" fill="#ec7a32"/>
<circle cx="160.0" cy="993.8" r="6.9" fill="#ec7a32"/>
<circle cx="203.0" cy="985.5" r="6.9" fill="#ec7a32"/>
<circle cx="203.0" cy="992.5" r="6.9" fill="#ec7a32"/>
<circle cx="308.5" cy="995.5" r="6.9" fill="#ec7a32"/>
<circle cx="326.2" cy="986.5" r="6.9" fill="#ec7a32"/>
<circle cx="439.5" cy="997.0" r="6.9" fill="#ec7a32"/>
<circle cx="463.5" cy="983.0" r="6.9" fill="#ec7a32"/>
<circle cx="470.0" cy="943.2" r="6.9" fill="#ec7a32"/>
<circle cx="480.5" cy="990.8" r="6.9" fill="#ec7a32"/>
<circle cx="526.2" cy="996.2" r="6.9" fill="#ec7a32"/>
<circle cx="683.0" cy="990.5" r="6.9" fill="#ec7a32"/>
<circle cx="797.2" cy="962.0" r="6.9" fill="#ec7a32"/>
<circle cx="863.8" cy="985.5" r="6.9" fill="#ec7a32"/>
<circle cx="884.5" cy="993.8" r="6.9" fill="#ec7a32"/>
<circle cx="988.2" cy="962.0" r="6.9" fill="#ec7a32"/>
<circle cx="1060.0" cy="950.0" r="6.9" fill="#ec7a32"/>
<circle cx="1079.2" cy="995.0" r="6.9" fill="#ec7a32"/>
<circle cx="1138.8" cy="967.0" r="6.9" fill="#ec7a32"/>
<circle cx="1186.8" cy="995.8" r="6.9" fill="#ec7a32"/>
<circle cx="1278.5" cy="997.5" r="6.9" fill="#ec7a32"/>
<circle cx="1304.5" cy="997.5" r="6.9" fill="#ec7a32"/>
<circle cx="1310.0" cy="997.5" r="6.9" fill="#ec7a32"/>
<circle cx="1348.8" cy="982.5" r="6.9" fill="#ec7a32"/>
<circle cx="1378.5" cy="990.8" r="6.9" fill="#ec7a32"/>
<circle cx="1392.0" cy="966.2" r="6.9" fill="#ec7a32"/>
<circle cx="1392.5" cy="970.0" r="6.9" fill="#ec7a32"/>
<circle cx="1392.0" cy="987.5" r="6.9" fill="#ec7a32"/>
<circle cx="1446.2" cy="997.5" r="6.9" fill="#ec7a32"/>
<circle cx="1481.2" cy="870.5" r="6.9" fill="#ec7a32"/>
<circle cx="1447.5" cy="997.5" r="6.9" fill="#ec7a32"/>
<circle cx="1467.5" cy="994.5" r="6.9" fill="#ec7a32"/>
<circle cx="1477.5" cy="996.2" r="6.9" fill="#ec7a32"/>
<circle cx="1480.0" cy="975.0" r="6.9" fill="#ec7a32"/>
<circle cx="1527.5" cy="978.8" r="6.9" fill="#ec7a32"/>
<circle cx="1552.5" cy="988.8" r="6.9" fill="#ec7a32"/>
<circle cx="1552.5" cy="993.8" r="6.9" fill="#ec7a32"/>
<circle cx="1568.0" cy="992.5" r="6.9" fill="#ec7a32"/>
<circle cx="1568.0" cy="995.0" r="6.9" fill="#ec7a32"/>
<circle cx="1569.5" cy="910.0" r="6.9" fill="#ec7a32"/>
<circle cx="1751.2" cy="985.0" r="6.9" fill="#ec7a32"/>
<circle cx="1800.0" cy="941.2" r="6.9" fill="#ec7a32"/>
<circle cx="1798.2" cy="982.5" r="6.9" fill="#ec7a32"/>
<circle cx="1814.2" cy="998.2" r="6.9" fill="#ec7a32"/>
<circle cx="1876.2" cy="989.5" r="6.9" fill="#ec7a32"/>
<circle cx="1935.7" cy="989.2" r="6.9" fill="#ec7a32"/>
<rect x="168.4" y="1100.3" width="1317.6" height="32.1" fill="#e34a33" />
<text x="827.2" y="1123.3" font-size="20.2" fill="#ffffff" text-anchor="middle" >orf1ab</text>
<rect x="1489.5" y="1100.3" width="69.0" height="32.1" fill="#3a8dc3" />
<text x="1524.0" y="1123.3" font-size="20.2" fill="#ffffff" text-anchor="middle" >HE</text>
<rect x="1561.0" y="1100.3" width="247.0" height="32.1" fill="#9bba55" />
<text x="1684.5" y="1123.3" font-size="20.2" fill="#ffffff" text-anchor="middle" >S</text>
<rect x="1813.0" y="1100.3" width="18.0" height="32.1" fill="#c8b13c" />
<rect x="1833.0" y="1100.3" width="12.6" height="32.1" fill="#d9ac3e" />
<rect x="1848.6" y="1100.3" width="39.2" height="32.1" fill="#e66f37" />
<rect x="1892.0" y="1100.3" width="36.0" height="32.1" fill="#eb913e" />
<rect x="1930.0" y="1100.3" width="39.0" height="32.1" fill="#7cb86e" />
<line x1="155.4" y1="1143.2" x2="1990.0" y2="1143.2" stroke="#1a1a1a" stroke-width="2" />
<line x1="155.9" y1="1142.2" x2="155.9" y2="1152.5" stroke="#1a1a1a" stroke-width="2" />
<text x="155.9" y="1171.3" font-size="20.3" fill="#1a1a1a" text-anchor="middle" >0</text>
<line x1="278.4" y1="1142.2" x2="278.4" y2="1152.5" stroke="#1a1a1a" stroke-width="2" />
<text x="282.3" y="1171.3" font-size="20.3" fill="#1a1a1a" text-anchor="middle" >2,000</text>
<line x1="400.9" y1="1142.2" x2="400.9" y2="1152.5" stroke="#1a1a1a" stroke-width="2" />
<text x="404.8" y="1171.3" font-size="20.3" fill="#1a1a1a" text-anchor="middle" >4,000</text>
<line x1="523.3" y1="1142.2" x2="523.3" y2="1152.5" stroke="#1a1a1a" stroke-width="2" />
<text x="527.2" y="1171.3" font-size="20.3" fill="#1a1a1a" text-anchor="middle" >6,000</text>
<line x1="645.8" y1="1142.2" x2="645.8" y2="1152.5" stroke="#1a1a1a" stroke-width="2" />
<text x="649.6" y="1171.3" font-size="20.3" fill="#1a1a1a" text-anchor="middle" >8,000</text>
<line x1="768.2" y1="1142.2" x2="768.2" y2="1152.5" stroke="#1a1a1a" stroke-width="2" />
<text x="772.1" y="1171.3" font-size="20.3" fill="#1a1a1a" text-anchor="middle" >10,000</text>
<line x1="890.7" y1="1142.2" x2="890.7" y2="1152.5" stroke="#1a1a1a" stroke-width="2" />
<text x="894.6" y="1171.3" font-size="20.3" fill="#1a1a1a" text-anchor="middle" >12,000</text>
<line x1="1013.1" y1="1142.2" x2="1013.1" y2="1152.5" stroke="#1a1a1a" stroke-width="2" />
<text x="1017.0" y="1171.3" font-size="20.3" fill="#1a1a1a" text-anchor="middle" >14,000</text>
<line x1="1135.5" y1="1142.2" x2="1135.5" y2="1152.5" stroke="#1a1a1a" stroke-width="2" />
<text x="1139.5" y="1171.3" font-size="20.3" fill="#1a1a1a" text-anchor="middle" >16,000</text>
<line x1="1258.0" y1="1142.2" x2="1258.0" y2="1152.5" stroke="#1a1a1a" stroke-width="2" />
<text x="1261.9" y="1171.3" font-size="20.3" fill="#1a1a1a" text-anchor="middle" >18,000</text>
<line x1="1380.5" y1="1142.2" x2="1380.5" y2="1152.5" stroke="#1a1a1a" stroke-width="2" />
<text x="1384.4" y="1171.3" font-size="20.3" fill="#1a1a1a" text-anchor="middle" >20,000</text>
<line x1="1502.9" y1="1142.2" x2="1502.9" y2="1152.5" stroke="#1a1a1a" stroke-width="2" />
<text x="1506.8" y="1171.3" font-size="20.3" fill="#1a1a1a" text-anchor="middle" >22,000</text>
<line x1="1625.4" y1="1142.2" x2="1625.4" y2="1152.5" stroke="#1a1a1a" stroke-width="2" />
<text x="1629.3" y="1171.3" font-size="20.3" fill="#1a1a1a" text-anchor="middle" >24,000</text>
<line x1="1747.8" y1="1142.2" x2="1747.8" y2="1152.5" stroke="#1a1a1a" stroke-width="2" />
<text x="1751.7" y="1171.3" font-size="20.3" fill="#1a1a1a" text-anchor="middle" >26,000</text>
<line x1="1870.2" y1="1142.2" x2="1870.2" y2="1152.5" stroke="#1a1a1a" stroke-width="2" />
<text x="1874.2" y="1171.3" font-size="20.3" fill="#1a1a1a" text-anchor="middle" >28,000</text>
<line x1="1989.0" y1="1142.2" x2="1989.0" y2="1152.5" stroke="#1a1a1a" stroke-width="2" />
<text x="-4.0" y="1293.0" font-size="35" fill="#111" text-anchor="start" font-weight="bold" stroke="#111" stroke-width="2">c</text>
<line x1="41.9" y1="1331.3" x2="41.9" y2="2416.0" stroke="#dcdcdf" stroke-width="3.0" />
<line x1="70.0" y1="1331.3" x2="70.0" y2="2416.0" stroke="#eeeef0" stroke-width="2.2" />
<line x1="98.2" y1="1331.3" x2="98.2" y2="2416.0" stroke="#eeeef0" stroke-width="2.2" />
<line x1="126.3" y1="1331.3" x2="126.3" y2="2416.0" stroke="#eeeef0" stroke-width="2.2" />
<line x1="154.4" y1="1331.3" x2="154.4" y2="2416.0" stroke="#dcdcdf" stroke-width="3.0" />
<line x1="182.5" y1="1331.3" x2="182.5" y2="2416.0" stroke="#eeeef0" stroke-width="2.2" />
<line x1="210.7" y1="1331.3" x2="210.7" y2="2416.0" stroke="#eeeef0" stroke-width="2.2" />
<line x1="238.8" y1="1331.3" x2="238.8" y2="2416.0" stroke="#eeeef0" stroke-width="2.2" />
<line x1="266.9" y1="1331.3" x2="266.9" y2="2416.0" stroke="#dcdcdf" stroke-width="3.0" />
<line x1="295.0" y1="1331.3" x2="295.0" y2="2416.0" stroke="#eeeef0" stroke-width="2.2" />
<line x1="323.1" y1="1331.3" x2="323.1" y2="2416.0" stroke="#eeeef0" stroke-width="2.2" />
<line x1="351.3" y1="1331.3" x2="351.3" y2="2416.0" stroke="#eeeef0" stroke-width="2.2" />
<line x1="379.4" y1="1331.3" x2="379.4" y2="2416.0" stroke="#dcdcdf" stroke-width="3.0" />
<line x1="407.5" y1="1331.3" x2="407.5" y2="2416.0" stroke="#eeeef0" stroke-width="2.2" />
<line x1="435.6" y1="1331.3" x2="435.6" y2="2416.0" stroke="#eeeef0" stroke-width="2.2" />
<line x1="463.8" y1="1331.3" x2="463.8" y2="2416.0" stroke="#eeeef0" stroke-width="2.2" />
<line x1="491.9" y1="1331.3" x2="491.9" y2="2416.0" stroke="#dcdcdf" stroke-width="3.0" />
<line x1="520.0" y1="1331.3" x2="520.0" y2="2416.0" stroke="#eeeef0" stroke-width="2.2" />
<line x1="548.1" y1="1331.3" x2="548.1" y2="2416.0" stroke="#eeeef0" stroke-width="2.2" />
<line x1="576.3" y1="1331.3" x2="576.3" y2="2416.0" stroke="#eeeef0" stroke-width="2.2" />
<line x1="604.4" y1="1331.3" x2="604.4" y2="2416.0" stroke="#dcdcdf" stroke-width="3.0" />
<line x1="632.5" y1="1331.3" x2="632.5" y2="2416.0" stroke="#eeeef0" stroke-width="2.2" />
<line x1="660.6" y1="1331.3" x2="660.6" y2="2416.0" stroke="#eeeef0" stroke-width="2.2" />
<line x1="688.8" y1="1331.3" x2="688.8" y2="2416.0" stroke="#eeeef0" stroke-width="2.2" />
<line x1="716.9" y1="1331.3" x2="716.9" y2="2416.0" stroke="#dcdcdf" stroke-width="3.0" />
<line x1="745.0" y1="1331.3" x2="745.0" y2="2416.0" stroke="#eeeef0" stroke-width="2.2" />
<line x1="773.1" y1="1331.3" x2="773.1" y2="2416.0" stroke="#eeeef0" stroke-width="2.2" />
<line x1="801.3" y1="1331.3" x2="801.3" y2="2416.0" stroke="#eeeef0" stroke-width="2.2" />
<text x="42.8" y="1331.0" font-size="24.6" fill="#111" text-anchor="start" >Genotype</text>
<rect x="56.0" y="1364.4" width="42.3" height="42.7" fill="#5b9bd8" stroke="#3f80c6" stroke-width="3"/>
<text x="133.8" y="1395.9" font-size="30" fill="#555" text-anchor="middle" >A</text>
<rect x="56.0" y="1418.2" width="42.3" height="42.7" fill="#84c98f" stroke="#67b173" stroke-width="3"/>
<text x="133.8" y="1449.7" font-size="30" fill="#555" text-anchor="middle" >B</text>
<rect x="56.0" y="1472.0" width="42.3" height="42.7" fill="#f4e54d" stroke="#cbb83a" stroke-width="3"/>
<text x="133.8" y="1503.5" font-size="30" fill="#555" text-anchor="middle" >C</text>
<line x1="42.2" y1="1949.0" x2="42.2" y2="2319.3" stroke="#abafb3" stroke-width="15" stroke-linecap="round"/>
<line x1="42.2" y1="1949.0" x2="518.5" y2="1949.0" stroke="#abafb3" stroke-width="12.5" stroke-linecap="round"/>
<line x1="42.2" y1="2319.3" x2="340.1" y2="2319.3" stroke="#abafb3" stroke-width="10.5" stroke-linecap="round"/>
<line x1="518.5" y1="1884.6" x2="518.5" y2="2010.0" stroke="#abafb3" stroke-width="12" stroke-linecap="round"/>
<line x1="518.5" y1="2010.0" x2="549.5" y2="2010.0" stroke="#7ea5cf" stroke-width="6" stroke-linecap="round"/>
<line x1="518.5" y1="1884.6" x2="526.0" y2="1884.6" stroke="#abafb3" stroke-width="11" stroke-linecap="round"/>
<line x1="526.0" y1="1820.0" x2="526.0" y2="1949.2" stroke="#abafb3" stroke-width="12" stroke-linecap="round"/>
<line x1="526.0" y1="1949.2" x2="556.0" y2="1949.2" stroke="#abafb3" stroke-width="9" stroke-linecap="round"/>
<line x1="556.0" y1="1896.5" x2="556.0" y2="1987.0" stroke="#abafb3" stroke-width="8" stroke-linecap="round"/>
<line x1="526.0" y1="1820.0" x2="541.7" y2="1820.0" stroke="#abafb3" stroke-width="11" stroke-linecap="round"/>
<line x1="541.7" y1="1788.5" x2="541.7" y2="1862.5" stroke="#abafb3" stroke-width="12" stroke-linecap="round"/>
<line x1="541.7" y1="1862.5" x2="559.6" y2="1862.5" stroke="#abafb3" stroke-width="7" stroke-linecap="round"/>
<line x1="557.6" y1="1851.2" x2="557.6" y2="1873.9" stroke="#abafb3" stroke-width="5" stroke-linecap="round"/>
<line x1="541.7" y1="1788.5" x2="566.0" y2="1788.5" stroke="#abafb3" stroke-width="11" stroke-linecap="round"/>
<line x1="566.0" y1="1746.2" x2="566.0" y2="1829.0" stroke="#abafb3" stroke-width="11" stroke-linecap="round"/>
<line x1="566.0" y1="1828.6" x2="576.8" y2="1828.6" stroke="#7ea5cf" stroke-width="5" stroke-linecap="round"/>
<line x1="566.0" y1="1746.2" x2="583.0" y2="1746.2" stroke="#abafb3" stroke-width="10" stroke-linecap="round"/>
<line x1="583.0" y1="1476.0" x2="583.0" y2="1806.0" stroke="#abafb3" stroke-width="12" stroke-linecap="round"/>
<line x1="583.0" y1="1602.3" x2="593.0" y2="1602.3" stroke="#7ea5cf" stroke-width="4" stroke-linecap="round"/>
<line x1="583.0" y1="1624.9" x2="594.5" y2="1624.9" stroke="#7ea5cf" stroke-width="4" stroke-linecap="round"/>
<line x1="583.0" y1="1647.6" x2="597.0" y2="1647.6" stroke="#7ea5cf" stroke-width="4" stroke-linecap="round"/>
<line x1="583.0" y1="1670.2" x2="594.5" y2="1670.2" stroke="#7ea5cf" stroke-width="4" stroke-linecap="round"/>
<line x1="583.0" y1="1692.8" x2="591.5" y2="1692.8" stroke="#7ea5cf" stroke-width="4" stroke-linecap="round"/>
<line x1="583.0" y1="1715.5" x2="588.0" y2="1715.5" stroke="#7ea5cf" stroke-width="4" stroke-linecap="round"/>
<line x1="583.0" y1="1738.1" x2="589.2" y2="1738.1" stroke="#7ea5cf" stroke-width="4" stroke-linecap="round"/>
<line x1="583.0" y1="1760.7" x2="592.5" y2="1760.7" stroke="#7ea5cf" stroke-width="4" stroke-linecap="round"/>
<line x1="583.0" y1="1783.3" x2="589.5" y2="1783.3" stroke="#7ea5cf" stroke-width="4" stroke-linecap="round"/>
<line x1="583.0" y1="1806.0" x2="587.5" y2="1806.0" stroke="#7ea5cf" stroke-width="4" stroke-linecap="round"/>
<line x1="583.0" y1="1564.0" x2="604.2" y2="1564.0" stroke="#abafb3" stroke-width="8" stroke-linecap="round"/>
<line x1="604.2" y1="1543.7" x2="604.2" y2="1579.7" stroke="#abafb3" stroke-width="6" stroke-linecap="round"/>
<line x1="604.2" y1="1543.7" x2="615.0" y2="1543.7" stroke="#abafb3" stroke-width="6" stroke-linecap="round"/>
<line x1="613.0" y1="1534.4" x2="613.0" y2="1557.0" stroke="#abafb3" stroke-width="4" stroke-linecap="round"/>
<line x1="604.2" y1="1579.7" x2="629.0" y2="1579.7" stroke="#7ea5cf" stroke-width="6" stroke-linecap="round"/>
<line x1="583.0" y1="1476.0" x2="606.6" y2="1476.0" stroke="#abafb3" stroke-width="9" stroke-linecap="round"/>
<line x1="606.6" y1="1441.0" x2="606.6" y2="1511.8" stroke="#abafb3" stroke-width="9" stroke-linecap="round"/>
<line x1="606.6" y1="1441.0" x2="624.5" y2="1441.0" stroke="#abafb3" stroke-width="9" stroke-linecap="round"/>
<line x1="624.5" y1="1375.5" x2="624.5" y2="1489.2" stroke="#abafb3" stroke-width="8.5" stroke-linecap="round"/>
<line x1="624.5" y1="1433.0" x2="649.5" y2="1433.0" stroke="#abafb3" stroke-width="7" stroke-linecap="round"/>
<line x1="649.5" y1="1421.3" x2="649.5" y2="1443.9" stroke="#abafb3" stroke-width="5" stroke-linecap="round"/>
<line x1="624.5" y1="1466.5" x2="643.0" y2="1466.5" stroke="#7ea5cf" stroke-width="5" stroke-linecap="round"/>
<line x1="624.5" y1="1489.2" x2="640.8" y2="1489.2" stroke="#7ea5cf" stroke-width="5" stroke-linecap="round"/>
<line x1="624.5" y1="1375.5" x2="634.0" y2="1375.5" stroke="#abafb3" stroke-width="7" stroke-linecap="round"/>
<line x1="634.0" y1="1342.0" x2="634.0" y2="1398.6" stroke="#abafb3" stroke-width="7" stroke-linecap="round"/>
<line x1="637.5" y1="1330.8" x2="637.5" y2="1353.4" stroke="#abafb3" stroke-width="4.5" stroke-linecap="round"/>
<line x1="634.0" y1="1342.0" x2="637.5" y2="1342.0" stroke="#abafb3" stroke-width="5" stroke-linecap="round"/>
<line x1="340.1" y1="2246.7" x2="340.1" y2="2392.0" stroke="#abafb3" stroke-width="11.5" stroke-linecap="round"/>
<line x1="340.1" y1="2246.7" x2="677.0" y2="2246.7" stroke="#abafb3" stroke-width="9" stroke-linecap="round"/>
<line x1="340.1" y1="2392.0" x2="407.0" y2="2392.0" stroke="#abafb3" stroke-width="8" stroke-linecap="round"/>
<line x1="407.5" y1="2337.0" x2="407.5" y2="2417.0" stroke="#abafb3" stroke-width="9" stroke-linecap="round"/>
<line x1="411.0" y1="2303.8" x2="411.0" y2="2340.0" stroke="#abafb3" stroke-width="6" stroke-linecap="round"/>
<line x1="677.0" y1="2208.3" x2="677.0" y2="2281.2" stroke="#abafb3" stroke-width="9.4" stroke-linecap="round"/>
<line x1="677.0" y1="2281.2" x2="700.0" y2="2281.2" stroke="#8dbd93" stroke-width="6" stroke-linecap="round"/>
<line x1="677.0" y1="2208.3" x2="688.4" y2="2208.3" stroke="#abafb3" stroke-width="8" stroke-linecap="round"/>
<line x1="688.4" y1="2159.9" x2="688.4" y2="2258.6" stroke="#abafb3" stroke-width="9.4" stroke-linecap="round"/>
<line x1="688.4" y1="2159.9" x2="697.8" y2="2159.9" stroke="#abafb3" stroke-width="8" stroke-linecap="round"/>
<line x1="697.8" y1="2106.0" x2="697.8" y2="2217.0" stroke="#abafb3" stroke-width="9.4" stroke-linecap="round"/>
<line x1="697.8" y1="2217.0" x2="714.6" y2="2217.0" stroke="#abafb3" stroke-width="8" stroke-linecap="round"/>
<line x1="714.6" y1="2196.2" x2="714.6" y2="2235.9" stroke="#abafb3" stroke-width="7" stroke-linecap="round"/>
<line x1="714.6" y1="2235.9" x2="733.0" y2="2235.9" stroke="#8dbd93" stroke-width="6" stroke-linecap="round"/>
<line x1="714.6" y1="2196.2" x2="724.0" y2="2196.2" stroke="#abafb3" stroke-width="6" stroke-linecap="round"/>
<line x1="724.0" y1="2168.1" x2="724.0" y2="2213.3" stroke="#abafb3" stroke-width="6" stroke-linecap="round"/>
<line x1="724.0" y1="2168.1" x2="756.0" y2="2168.1" stroke="#8dbd93" stroke-width="6" stroke-linecap="round"/>
<line x1="724.0" y1="2190.7" x2="740.0" y2="2190.7" stroke="#8dbd93" stroke-width="5" stroke-linecap="round"/>
<line x1="697.8" y1="2106.0" x2="701.9" y2="2106.0" stroke="#abafb3" stroke-width="8" stroke-linecap="round"/>
<line x1="701.9" y1="2080.5" x2="701.9" y2="2145.4" stroke="#abafb3" stroke-width="8" stroke-linecap="round"/>
<line x1="701.9" y1="2122.8" x2="820.0" y2="2122.8" stroke="#8dbd93" stroke-width="6.7" stroke-linecap="round"/>
<line x1="701.9" y1="2145.4" x2="746.0" y2="2145.4" stroke="#8dbd93" stroke-width="6" stroke-linecap="round"/>
<line x1="701.9" y1="2080.5" x2="751.5" y2="2080.5" stroke="#abafb3" stroke-width="8" stroke-linecap="round"/>
<line x1="752.0" y1="2043.0" x2="752.0" y2="2100.2" stroke="#abafb3" stroke-width="7" stroke-linecap="round"/>
<line x1="752.0" y1="2043.0" x2="767.0" y2="2043.0" stroke="#abafb3" stroke-width="6" stroke-linecap="round"/>
<line x1="767.0" y1="2032.3" x2="767.0" y2="2054.9" stroke="#abafb3" stroke-width="5" stroke-linecap="round"/>
<circle cx="642.5" cy="1330.8" r="6.2" fill="#5b9bd8" stroke="#3f80c6" stroke-width="1.5"/>
<circle cx="648.5" cy="1353.4" r="6.2" fill="#5b9bd8" stroke="#3f80c6" stroke-width="1.5"/>
<circle cx="643.2" cy="1376.0" r="6.2" fill="#5b9bd8" stroke="#3f80c6" stroke-width="1.5"/>
<circle cx="638.8" cy="1398.6" r="6.2" fill="#5b9bd8" stroke="#3f80c6" stroke-width="1.5"/>
<circle cx="650.8" cy="1421.3" r="6.2" fill="#5b9bd8" stroke="#3f80c6" stroke-width="1.5"/>
<circle cx="651.5" cy="1443.9" r="6.2" fill="#5b9bd8" stroke="#3f80c6" stroke-width="1.5"/>
<circle cx="643.0" cy="1466.5" r="6.2" fill="#5b9bd8" stroke="#3f80c6" stroke-width="1.5"/>
<circle cx="640.8" cy="1489.2" r="6.2" fill="#5b9bd8" stroke="#3f80c6" stroke-width="1.5"/>
<circle cx="612.5" cy="1511.8" r="6.2" fill="#5b9bd8" stroke="#3f80c6" stroke-width="1.5"/>
<circle cx="614.5" cy="1534.4" r="6.2" fill="#5b9bd8" stroke="#3f80c6" stroke-width="1.5"/>
<circle cx="615.0" cy="1557.0" r="6.2" fill="#5b9bd8" stroke="#3f80c6" stroke-width="1.5"/>
<circle cx="629.0" cy="1579.7" r="6.2" fill="#5b9bd8" stroke="#3f80c6" stroke-width="1.5"/>
<circle cx="593.0" cy="1602.3" r="6.2" fill="#5b9bd8" stroke="#3f80c6" stroke-width="1.5"/>
<circle cx="594.5" cy="1624.9" r="6.2" fill="#5b9bd8" stroke="#3f80c6" stroke-width="1.5"/>
<circle cx="597.0" cy="1647.6" r="6.2" fill="#5b9bd8" stroke="#3f80c6" stroke-width="1.5"/>
<circle cx="594.5" cy="1670.2" r="6.2" fill="#5b9bd8" stroke="#3f80c6" stroke-width="1.5"/>
<circle cx="591.5" cy="1692.8" r="6.2" fill="#5b9bd8" stroke="#3f80c6" stroke-width="1.5"/>
<circle cx="588.0" cy="1715.5" r="6.2" fill="#5b9bd8" stroke="#3f80c6" stroke-width="1.5"/>
<circle cx="589.2" cy="1738.1" r="6.2" fill="#5b9bd8" stroke="#3f80c6" stroke-width="1.5"/>
<circle cx="592.5" cy="1760.7" r="6.2" fill="#5b9bd8" stroke="#3f80c6" stroke-width="1.5"/>
<circle cx="589.5" cy="1783.3" r="6.2" fill="#5b9bd8" stroke="#3f80c6" stroke-width="1.5"/>
<circle cx="587.5" cy="1806.0" r="6.2" fill="#5b9bd8" stroke="#3f80c6" stroke-width="1.5"/>
<circle cx="576.8" cy="1828.6" r="6.2" fill="#5b9bd8" stroke="#3f80c6" stroke-width="1.5"/>
<circle cx="561.0" cy="1851.2" r="6.2" fill="#5b9bd8" stroke="#3f80c6" stroke-width="1.5"/>
<circle cx="559.5" cy="1873.9" r="6.2" fill="#5b9bd8" stroke="#3f80c6" stroke-width="1.5"/>
<circle cx="562.5" cy="1896.5" r="6.2" fill="#5b9bd8" stroke="#3f80c6" stroke-width="1.5"/>
<circle cx="561.8" cy="1919.1" r="6.2" fill="#5b9bd8" stroke="#3f80c6" stroke-width="1.5"/>
<circle cx="559.5" cy="1941.8" r="6.2" fill="#5b9bd8" stroke="#3f80c6" stroke-width="1.5"/>
<circle cx="559.5" cy="1964.4" r="6.2" fill="#5b9bd8" stroke="#3f80c6" stroke-width="1.5"/>
<circle cx="564.0" cy="1987.0" r="6.2" fill="#5b9bd8" stroke="#3f80c6" stroke-width="1.5"/>
<circle cx="549.5" cy="2009.7" r="6.2" fill="#5b9bd8" stroke="#3f80c6" stroke-width="1.5"/>
<circle cx="770.5" cy="2032.3" r="6.2" fill="#84c98f" stroke="#67b173" stroke-width="1.5"/>
<circle cx="766.2" cy="2054.9" r="6.2" fill="#84c98f" stroke="#67b173" stroke-width="1.5"/>
<circle cx="759.2" cy="2077.5" r="6.2" fill="#84c98f" stroke="#67b173" stroke-width="1.5"/>
<circle cx="754.2" cy="2100.2" r="6.2" fill="#84c98f" stroke="#67b173" stroke-width="1.5"/>
<circle cx="820.0" cy="2122.8" r="6.2" fill="#84c98f" stroke="#67b173" stroke-width="1.5"/>
<circle cx="746.0" cy="2145.4" r="6.2" fill="#84c98f" stroke="#67b173" stroke-width="1.5"/>
<circle cx="756.0" cy="2168.1" r="6.2" fill="#84c98f" stroke="#67b173" stroke-width="1.5"/>
<circle cx="740.0" cy="2190.7" r="6.2" fill="#84c98f" stroke="#67b173" stroke-width="1.5"/>
<circle cx="729.5" cy="2213.3" r="6.2" fill="#84c98f" stroke="#67b173" stroke-width="1.5"/>
<circle cx="733.0" cy="2235.9" r="6.2" fill="#84c98f" stroke="#67b173" stroke-width="1.5"/>
<circle cx="693.0" cy="2258.6" r="6.2" fill="#84c98f" stroke="#67b173" stroke-width="1.5"/>
<circle cx="700.0" cy="2281.2" r="6.2" fill="#84c98f" stroke="#67b173" stroke-width="1.5"/>
<circle cx="416.5" cy="2303.8" r="6.2" fill="#f4e54d" stroke="#cbb83a" stroke-width="1.5"/>
<circle cx="419.5" cy="2326.5" r="6.2" fill="#f4e54d" stroke="#cbb83a" stroke-width="1.5"/>
<circle cx="420.0" cy="2349.1" r="6.2" fill="#f4e54d" stroke="#cbb83a" stroke-width="1.5"/>
<circle cx="422.0" cy="2371.7" r="6.2" fill="#f4e54d" stroke="#cbb83a" stroke-width="1.5"/>
<circle cx="418.0" cy="2394.4" r="6.2" fill="#f4e54d" stroke="#cbb83a" stroke-width="1.5"/>
<circle cx="416.5" cy="2417.0" r="6.2" fill="#f4e54d" stroke="#cbb83a" stroke-width="1.5"/>
<text x="654.2" y="1336.3" font-size="16.1" fill="#1a1a1a" text-anchor="start" >HCoV-HKU1/BIME352-01/2018</text>
<text x="660.2" y="1359.0" font-size="16.1" fill="#1a1a1a" text-anchor="start" >HCoV-HKU1/Fukushima_H519_2019</text>
<text x="655.0" y="1381.6" font-size="16.1" fill="#1a1a1a" text-anchor="start" >HCoV-HKU1/GY18102</text>
<text x="650.5" y="1404.2" font-size="16.1" fill="#1a1a1a" text-anchor="start" >HCoV-HKU1/WZ17244</text>
<text x="662.5" y="1426.9" font-size="16.1" fill="#1a1a1a" text-anchor="start" >HCoV-HKU1/WZ17198</text>
<text x="663.2" y="1449.5" font-size="16.1" fill="#1a1a1a" text-anchor="start" >HCoV-HKU1/BCH18024</text>
<text x="654.7" y="1472.1" font-size="16.1" fill="#1a1a1a" text-anchor="start" >HCoV-HKU1/SC2628</text>
<text x="652.5" y="1494.8" font-size="16.1" fill="#1a1a1a" text-anchor="start" >HCoV-HKU1/Tokyo/SGH-15/2014</text>
<text x="624.2" y="1517.4" font-size="16.1" fill="#1a1a1a" text-anchor="start" >HCoV-HKU1/human/USA/HKU1-15/2009</text>
<text x="626.2" y="1540.0" font-size="16.1" fill="#1a1a1a" text-anchor="start" >HCoV-HKU1/BJ01-p3</text>
<text x="626.7" y="1562.6" font-size="16.1" fill="#1a1a1a" text-anchor="start" >HCoV-HKU1/BJ01-p9</text>
<text x="640.7" y="1585.3" font-size="16.1" fill="#1a1a1a" text-anchor="start" >HCoV-HKU1/R63</text>
<text x="604.7" y="1607.9" font-size="16.1" fill="#1a1a1a" text-anchor="start" >HCoV-HKU1/N23</text>
<text x="606.2" y="1630.5" font-size="16.1" fill="#1a1a1a" text-anchor="start" >HCoV-HKU1/N24</text>
<text x="608.7" y="1653.2" font-size="16.1" fill="#1a1a1a" text-anchor="start" >HCoV-HKU1/N14</text>
<text x="606.2" y="1675.8" font-size="16.1" fill="#1a1a1a" text-anchor="start" >HCoV-HKU1/N11</text>
<text x="603.2" y="1698.4" font-size="16.1" fill="#1a1a1a" text-anchor="start" >HCoV-HKU1/N9</text>
<text x="599.7" y="1721.1" font-size="16.1" fill="#1a1a1a" text-anchor="start" >HCoV-HKU1/N10</text>
<text x="601.0" y="1743.7" font-size="16.1" fill="#1a1a1a" text-anchor="start" >HCoV-HKU1/N7</text>
<text x="604.2" y="1766.3" font-size="16.1" fill="#1a1a1a" text-anchor="start" >HCoV-HKU1/N6</text>
<text x="601.2" y="1788.9" font-size="16.1" fill="#1a1a1a" text-anchor="start" >HCoV-HKU1/N13</text>
<text x="599.2" y="1811.6" font-size="16.1" fill="#1a1a1a" text-anchor="start" >HCoV-HKU1/N18</text>
<text x="588.5" y="1834.2" font-size="16.1" fill="#1a1a1a" text-anchor="start" >HCoV-HKU1/N19</text>
<text x="572.7" y="1856.8" font-size="16.1" fill="#1a1a1a" text-anchor="start" >HCoV-HKU1/N3</text>
<text x="571.8" y="1879.9" font-size="17.65" fill="#111" text-anchor="start" font-weight="bold" >HCoV-HKU1/HKU1</text>
<text x="574.2" y="1902.1" font-size="16.1" fill="#1a1a1a" text-anchor="start" >HCoV-HKU1/human/USA/HKU1-11/2009</text>
<text x="573.5" y="1924.7" font-size="16.1" fill="#1a1a1a" text-anchor="start" >HCoV-HKU1/human/USA/HKU1-13/2010</text>
<text x="571.2" y="1947.4" font-size="16.1" fill="#1a1a1a" text-anchor="start" >HCoV-HKU1/human/USA/HKU1-10/2010</text>
<text x="571.2" y="1970.0" font-size="16.1" fill="#1a1a1a" text-anchor="start" >HCoV-HKU1/human/USA/HKU1-18/2010</text>
<text x="575.7" y="1992.6" font-size="16.1" fill="#1a1a1a" text-anchor="start" >HCoV-HKU1/human/USA/HKU1-5/2009</text>
<text x="561.2" y="2015.2" font-size="16.1" fill="#1a1a1a" text-anchor="start" >HCoV-HKU1/Caen1</text>
<text x="782.2" y="2037.9" font-size="16.1" fill="#1a1a1a" text-anchor="start" >HCoV-HKU1/GZFE18139</text>
<text x="778.0" y="2060.5" font-size="16.1" fill="#1a1a1a" text-anchor="start" >HCoV-HKU1/GZFE18186</text>
<text x="771.0" y="2083.1" font-size="16.1" fill="#1a1a1a" text-anchor="start" >HCoV-HKU1/GZFE18183</text>
<text x="766.0" y="2105.8" font-size="16.1" fill="#1a1a1a" text-anchor="start" >HCoV-HKU1/GZFE18147</text>
<text x="831.7" y="2128.4" font-size="16.1" fill="#1a1a1a" text-anchor="start" >HCoV-HKU1/SC2521</text>
<text x="758.6" y="2151.4" font-size="17.6" fill="#111" text-anchor="start" font-weight="bold" text-decoration="underline">HCoV-HKU1/NDL/IPP01/2022</text>
<text x="767.7" y="2173.7" font-size="16.1" fill="#1a1a1a" text-anchor="start" >HCoV-HKU1/BIME141-02/2017</text>
<text x="751.7" y="2196.3" font-size="16.1" fill="#1a1a1a" text-anchor="start" >HCoV-HKU1/BIME190-04/2017</text>
<text x="741.2" y="2218.9" font-size="16.1" fill="#1a1a1a" text-anchor="start" >HCoV-HKU1/Tokyo/SGH-18/2016</text>
<text x="744.7" y="2241.5" font-size="16.1" fill="#1a1a1a" text-anchor="start" >HCoV-HKU1/H78</text>
<text x="704.7" y="2264.2" font-size="16.1" fill="#1a1a1a" text-anchor="start" >HCoV-HKU1/N15</text>
<text x="711.7" y="2286.8" font-size="16.1" fill="#1a1a1a" text-anchor="start" >HCoV-HKU1/SI17244</text>
<text x="428.2" y="2309.4" font-size="16.1" fill="#1a1a1a" text-anchor="start" >HCoV-HKU1/N22</text>
<text x="431.2" y="2332.1" font-size="16.1" fill="#1a1a1a" text-anchor="start" >HCoV-HKU1/N17</text>
<text x="431.7" y="2354.7" font-size="16.1" fill="#1a1a1a" text-anchor="start" >HCoV-HKU1/N20</text>
<text x="433.7" y="2377.3" font-size="16.1" fill="#1a1a1a" text-anchor="start" >HCoV-HKU1/N16</text>
<text x="430.3" y="2400.4" font-size="17.65" fill="#111" text-anchor="start" font-weight="bold" >HCoV-HKU1/N5P8</text>
<text x="428.2" y="2422.6" font-size="16.1" fill="#1a1a1a" text-anchor="start" >HCoV-HKU1/N21</text>
<text x="487.5" y="1937.6" font-size="18.5" fill="#111" text-anchor="middle" >100</text>
<text x="312.4" y="2307.8" font-size="18.5" fill="#111" text-anchor="middle" >95</text>
<text x="387.7" y="2383.3" font-size="18.5" fill="#111" text-anchor="middle" >99</text>
<text x="648.7" y="2234.3" font-size="18.5" fill="#111" text-anchor="middle" >99</text>
<text x="41.9" y="2446.8" font-size="18.8" fill="#555" text-anchor="middle" >0.000</text>
<text x="154.4" y="2446.8" font-size="18.8" fill="#555" text-anchor="middle" >0.005</text>
<text x="266.9" y="2446.8" font-size="18.8" fill="#555" text-anchor="middle" >0.010</text>
<text x="379.4" y="2446.8" font-size="18.8" fill="#555" text-anchor="middle" >0.015</text>
<text x="491.9" y="2446.8" font-size="18.8" fill="#555" text-anchor="middle" >0.020</text>
<text x="604.4" y="2446.8" font-size="18.8" fill="#555" text-anchor="middle" >0.025</text>
<text x="716.9" y="2446.8" font-size="18.8" fill="#555" text-anchor="middle" >0.030</text>
<text x="423.5" y="2471.5" font-size="18.8" fill="#555" text-anchor="middle" >Divergence</text>
<text x="1088.6" y="1293.2" font-size="35" fill="#111" text-anchor="start" font-weight="bold" stroke="#111" stroke-width="2.2">d</text>
<line x1="1139.0" y1="1341.0" x2="1139.0" y2="2430.0" stroke="#dcdcdf" stroke-width="3.0" />
<line x1="1157.7" y1="1341.0" x2="1157.7" y2="2430.0" stroke="#eeeef0" stroke-width="2.2" />
<line x1="1176.5" y1="1341.0" x2="1176.5" y2="2430.0" stroke="#eeeef0" stroke-width="2.2" />
<line x1="1195.2" y1="1341.0" x2="1195.2" y2="2430.0" stroke="#eeeef0" stroke-width="2.2" />
<line x1="1213.9" y1="1341.0" x2="1213.9" y2="2430.0" stroke="#dcdcdf" stroke-width="3.0" />
<line x1="1232.6" y1="1341.0" x2="1232.6" y2="2430.0" stroke="#eeeef0" stroke-width="2.2" />
<line x1="1251.3" y1="1341.0" x2="1251.3" y2="2430.0" stroke="#eeeef0" stroke-width="2.2" />
<line x1="1270.1" y1="1341.0" x2="1270.1" y2="2430.0" stroke="#eeeef0" stroke-width="2.2" />
<line x1="1288.8" y1="1341.0" x2="1288.8" y2="2430.0" stroke="#dcdcdf" stroke-width="3.0" />
<line x1="1307.5" y1="1341.0" x2="1307.5" y2="2430.0" stroke="#eeeef0" stroke-width="2.2" />
<line x1="1326.2" y1="1341.0" x2="1326.2" y2="2430.0" stroke="#eeeef0" stroke-width="2.2" />
<line x1="1345.0" y1="1341.0" x2="1345.0" y2="2430.0" stroke="#eeeef0" stroke-width="2.2" />
<line x1="1363.7" y1="1341.0" x2="1363.7" y2="2430.0" stroke="#dcdcdf" stroke-width="3.0" />
<line x1="1382.4" y1="1341.0" x2="1382.4" y2="2430.0" stroke="#eeeef0" stroke-width="2.2" />
<line x1="1401.2" y1="1341.0" x2="1401.2" y2="2430.0" stroke="#eeeef0" stroke-width="2.2" />
<line x1="1419.9" y1="1341.0" x2="1419.9" y2="2430.0" stroke="#eeeef0" stroke-width="2.2" />
<line x1="1438.6" y1="1341.0" x2="1438.6" y2="2430.0" stroke="#dcdcdf" stroke-width="3.0" />
<line x1="1457.3" y1="1341.0" x2="1457.3" y2="2430.0" stroke="#eeeef0" stroke-width="2.2" />
<line x1="1476.0" y1="1341.0" x2="1476.0" y2="2430.0" stroke="#eeeef0" stroke-width="2.2" />
<line x1="1494.8" y1="1341.0" x2="1494.8" y2="2430.0" stroke="#eeeef0" stroke-width="2.2" />
<line x1="1513.5" y1="1341.0" x2="1513.5" y2="2430.0" stroke="#dcdcdf" stroke-width="3.0" />
<line x1="1532.2" y1="1341.0" x2="1532.2" y2="2430.0" stroke="#eeeef0" stroke-width="2.2" />
<line x1="1551.0" y1="1341.0" x2="1551.0" y2="2430.0" stroke="#eeeef0" stroke-width="2.2" />
<line x1="1569.7" y1="1341.0" x2="1569.7" y2="2430.0" stroke="#eeeef0" stroke-width="2.2" />
<line x1="1588.4" y1="1341.0" x2="1588.4" y2="2430.0" stroke="#dcdcdf" stroke-width="3.0" />
<line x1="1607.1" y1="1341.0" x2="1607.1" y2="2430.0" stroke="#eeeef0" stroke-width="2.2" />
<line x1="1625.8" y1="1341.0" x2="1625.8" y2="2430.0" stroke="#eeeef0" stroke-width="2.2" />
<line x1="1644.6" y1="1341.0" x2="1644.6" y2="2430.0" stroke="#eeeef0" stroke-width="2.2" />
<line x1="1663.3" y1="1341.0" x2="1663.3" y2="2430.0" stroke="#dcdcdf" stroke-width="3.0" />
<line x1="1682.0" y1="1341.0" x2="1682.0" y2="2430.0" stroke="#eeeef0" stroke-width="2.2" />
<line x1="1700.8" y1="1341.0" x2="1700.8" y2="2430.0" stroke="#eeeef0" stroke-width="2.2" />
<line x1="1719.5" y1="1341.0" x2="1719.5" y2="2430.0" stroke="#eeeef0" stroke-width="2.2" />
<line x1="1738.2" y1="1341.0" x2="1738.2" y2="2430.0" stroke="#dcdcdf" stroke-width="3.0" />
<line x1="1756.9" y1="1341.0" x2="1756.9" y2="2430.0" stroke="#eeeef0" stroke-width="2.2" />
<line x1="1775.7" y1="1341.0" x2="1775.7" y2="2430.0" stroke="#eeeef0" stroke-width="2.2" />
<line x1="1794.4" y1="1341.0" x2="1794.4" y2="2430.0" stroke="#eeeef0" stroke-width="2.2" />
<line x1="1813.1" y1="1341.0" x2="1813.1" y2="2430.0" stroke="#dcdcdf" stroke-width="3.0" />
<line x1="1831.8" y1="1341.0" x2="1831.8" y2="2430.0" stroke="#eeeef0" stroke-width="2.2" />
<line x1="1850.6" y1="1341.0" x2="1850.6" y2="2430.0" stroke="#eeeef0" stroke-width="2.2" />
<line x1="1869.3" y1="1341.0" x2="1869.3" y2="2430.0" stroke="#eeeef0" stroke-width="2.2" />
<line x1="1139.8" y1="1921.5" x2="1139.8" y2="2387.2" stroke="#abafb3" stroke-width="15" stroke-linecap="round"/>
<line x1="1139.8" y1="1921.5" x2="1768.0" y2="1921.5" stroke="#abafb3" stroke-width="14" stroke-linecap="round"/>
<line x1="1139.8" y1="2387.2" x2="1682.0" y2="2387.2" stroke="#abafb3" stroke-width="12" stroke-linecap="round"/>
<line x1="1768.0" y1="1800.0" x2="1768.0" y2="2034.6" stroke="#abafb3" stroke-width="14" stroke-linecap="round"/>
<line x1="1768.0" y1="2034.6" x2="1782.6" y2="2034.6" stroke="#7ea5cf" stroke-width="6" stroke-linecap="round"/>
<line x1="1768.0" y1="1800.0" x2="1777.0" y2="1800.0" stroke="#abafb3" stroke-width="12" stroke-linecap="round"/>
<line x1="1777.0" y1="1638.0" x2="1777.0" y2="2011.5" stroke="#abafb3" stroke-width="11" stroke-linecap="round"/>
<line x1="1777.0" y1="1638.0" x2="1782.0" y2="1638.0" stroke="#abafb3" stroke-width="10" stroke-linecap="round"/>
<line x1="1782.0" y1="1481.8" x2="1782.0" y2="1720.5" stroke="#abafb3" stroke-width="10" stroke-linecap="round"/>
<line x1="1782.0" y1="1720.5" x2="1798.0" y2="1720.5" stroke="#abafb3" stroke-width="8" stroke-linecap="round"/>
<line x1="1798.0" y1="1665.0" x2="1798.0" y2="1757.4" stroke="#abafb3" stroke-width="7" stroke-linecap="round"/>
<line x1="1782.0" y1="1481.8" x2="1797.0" y2="1481.8" stroke="#abafb3" stroke-width="9" stroke-linecap="round"/>
<line x1="1797.0" y1="1416.5" x2="1797.0" y2="1595.7" stroke="#abafb3" stroke-width="9" stroke-linecap="round"/>
<line x1="1797.0" y1="1595.7" x2="1813.1" y2="1595.7" stroke="#7ea5cf" stroke-width="6" stroke-linecap="round"/>
<line x1="1797.0" y1="1416.5" x2="1799.5" y2="1416.5" stroke="#abafb3" stroke-width="8" stroke-linecap="round"/>
<line x1="1799.5" y1="1389.6" x2="1799.5" y2="1484.0" stroke="#abafb3" stroke-width="7" stroke-linecap="round"/>
<line x1="1799.5" y1="1446.2" x2="1812.0" y2="1446.2" stroke="#abafb3" stroke-width="6" stroke-linecap="round"/>
<line x1="1812.0" y1="1434.0" x2="1812.0" y2="1457.1" stroke="#abafb3" stroke-width="4" stroke-linecap="round"/>
<line x1="1799.5" y1="1389.6" x2="1811.5" y2="1389.6" stroke="#abafb3" stroke-width="7" stroke-linecap="round"/>
<line x1="1811.5" y1="1368.4" x2="1811.5" y2="1412.6" stroke="#abafb3" stroke-width="7" stroke-linecap="round"/>
<line x1="1814.0" y1="1341.6" x2="1814.0" y2="1364.7" stroke="#abafb3" stroke-width="5" stroke-linecap="round"/>
<line x1="1811.5" y1="1353.0" x2="1814.0" y2="1353.0" stroke="#abafb3" stroke-width="5" stroke-linecap="round"/>
<line x1="1682.0" y1="2349.4" x2="1682.0" y2="2427.3" stroke="#abafb3" stroke-width="11" stroke-linecap="round"/>
<line x1="1682.0" y1="2427.3" x2="1697.4" y2="2427.3" stroke="#8dbd93" stroke-width="6" stroke-linecap="round"/>
<line x1="1682.0" y1="2349.4" x2="1811.0" y2="2349.4" stroke="#abafb3" stroke-width="11" stroke-linecap="round"/>
<line x1="1811.5" y1="2287.0" x2="1811.5" y2="2404.2" stroke="#abafb3" stroke-width="10" stroke-linecap="round"/>
<line x1="1811.0" y1="2404.2" x2="1831.9" y2="2404.2" stroke="#8dbd93" stroke-width="6" stroke-linecap="round"/>
<line x1="1820.6" y1="2348.5" x2="1832.0" y2="2348.5" stroke="#abafb3" stroke-width="7" stroke-linecap="round"/>
<line x1="1832.0" y1="2321.0" x2="1832.0" y2="2371.5" stroke="#abafb3" stroke-width="6" stroke-linecap="round"/>
<line x1="1832.0" y1="2321.0" x2="1845.0" y2="2321.0" stroke="#abafb3" stroke-width="5" stroke-linecap="round"/>
<line x1="1845.0" y1="2311.8" x2="1845.0" y2="2334.9" stroke="#abafb3" stroke-width="4" stroke-linecap="round"/>
<line x1="1832.0" y1="2371.5" x2="1856.0" y2="2371.5" stroke="#abafb3" stroke-width="5" stroke-linecap="round"/>
<line x1="1856.0" y1="2358.0" x2="1856.0" y2="2381.1" stroke="#abafb3" stroke-width="4" stroke-linecap="round"/>
<line x1="1811.5" y1="2287.0" x2="1820.6" y2="2287.0" stroke="#abafb3" stroke-width="9" stroke-linecap="round"/>
<line x1="1820.6" y1="2194.2" x2="1820.6" y2="2348.5" stroke="#abafb3" stroke-width="9" stroke-linecap="round"/>
<line x1="1820.6" y1="2266.4" x2="1831.8" y2="2266.4" stroke="#abafb3" stroke-width="7" stroke-linecap="round"/>
<line x1="1831.8" y1="2242.5" x2="1831.8" y2="2288.7" stroke="#abafb3" stroke-width="7" stroke-linecap="round"/>
<line x1="1831.8" y1="2242.5" x2="1844.8" y2="2242.5" stroke="#8dbd93" stroke-width="5" stroke-linecap="round"/>
<line x1="1820.6" y1="2194.2" x2="1832.4" y2="2194.2" stroke="#abafb3" stroke-width="7" stroke-linecap="round"/>
<line x1="1832.4" y1="2170.5" x2="1832.4" y2="2219.4" stroke="#abafb3" stroke-width="8" stroke-linecap="round"/>
<line x1="1832.4" y1="2170.5" x2="1843.0" y2="2170.5" stroke="#abafb3" stroke-width="6" stroke-linecap="round"/>
<line x1="1843.0" y1="2148.6" x2="1843.0" y2="2196.3" stroke="#abafb3" stroke-width="8" stroke-linecap="round"/>
<line x1="1843.0" y1="2196.3" x2="1850.6" y2="2196.3" stroke="#8dbd93" stroke-width="5" stroke-linecap="round"/>
<line x1="1843.0" y1="2148.6" x2="1876.0" y2="2148.6" stroke="#abafb3" stroke-width="7.5" stroke-linecap="round"/>
<line x1="1876.5" y1="2091.0" x2="1876.5" y2="2173.2" stroke="#abafb3" stroke-width="9" stroke-linecap="round"/>
<line x1="1878.6" y1="2057.7" x2="1878.6" y2="2091.0" stroke="#abafb3" stroke-width="5" stroke-linecap="round"/>
<circle cx="1816.6" cy="1341.6" r="6.2" fill="#5b9bd8" stroke="#3f80c6" stroke-width="1.5"/>
<circle cx="1822.0" cy="1364.7" r="6.2" fill="#5b9bd8" stroke="#3f80c6" stroke-width="1.5"/>
<circle cx="1813.1" cy="1387.8" r="6.2" fill="#5b9bd8" stroke="#3f80c6" stroke-width="1.5"/>
<circle cx="1816.9" cy="1410.9" r="6.2" fill="#5b9bd8" stroke="#3f80c6" stroke-width="1.5"/>
<circle cx="1811.1" cy="1434.0" r="6.2" fill="#5b9bd8" stroke="#3f80c6" stroke-width="1.5"/>
<circle cx="1814.6" cy="1457.1" r="6.2" fill="#5b9bd8" stroke="#3f80c6" stroke-width="1.5"/>
<circle cx="1811.1" cy="1480.2" r="6.2" fill="#5b9bd8" stroke="#3f80c6" stroke-width="1.5"/>
<circle cx="1805.4" cy="1503.3" r="6.2" fill="#5b9bd8" stroke="#3f80c6" stroke-width="1.5"/>
<circle cx="1801.6" cy="1526.4" r="6.2" fill="#5b9bd8" stroke="#3f80c6" stroke-width="1.5"/>
<circle cx="1797.9" cy="1549.5" r="6.2" fill="#5b9bd8" stroke="#3f80c6" stroke-width="1.5"/>
<circle cx="1799.9" cy="1572.6" r="6.2" fill="#5b9bd8" stroke="#3f80c6" stroke-width="1.5"/>
<circle cx="1813.1" cy="1595.7" r="6.2" fill="#5b9bd8" stroke="#3f80c6" stroke-width="1.5"/>
<circle cx="1784.6" cy="1618.8" r="6.2" fill="#5b9bd8" stroke="#3f80c6" stroke-width="1.5"/>
<circle cx="1784.6" cy="1641.9" r="6.2" fill="#5b9bd8" stroke="#3f80c6" stroke-width="1.5"/>
<circle cx="1801.9" cy="1665.0" r="6.2" fill="#5b9bd8" stroke="#3f80c6" stroke-width="1.5"/>
<circle cx="1803.6" cy="1688.1" r="6.2" fill="#5b9bd8" stroke="#3f80c6" stroke-width="1.5"/>
<circle cx="1803.3" cy="1711.2" r="6.2" fill="#5b9bd8" stroke="#3f80c6" stroke-width="1.5"/>
<circle cx="1797.9" cy="1734.3" r="6.2" fill="#5b9bd8" stroke="#3f80c6" stroke-width="1.5"/>
<circle cx="1801.6" cy="1757.4" r="6.2" fill="#5b9bd8" stroke="#3f80c6" stroke-width="1.5"/>
<circle cx="1779.1" cy="1780.5" r="6.2" fill="#5b9bd8" stroke="#3f80c6" stroke-width="1.5"/>
<circle cx="1777.1" cy="1803.6" r="6.2" fill="#5b9bd8" stroke="#3f80c6" stroke-width="1.5"/>
<circle cx="1779.1" cy="1826.7" r="6.2" fill="#5b9bd8" stroke="#3f80c6" stroke-width="1.5"/>
<circle cx="1779.1" cy="1849.8" r="6.2" fill="#5b9bd8" stroke="#3f80c6" stroke-width="1.5"/>
<circle cx="1780.9" cy="1872.9" r="6.2" fill="#5b9bd8" stroke="#3f80c6" stroke-width="1.5"/>
<circle cx="1780.9" cy="1896.0" r="6.2" fill="#5b9bd8" stroke="#3f80c6" stroke-width="1.5"/>
<circle cx="1780.9" cy="1919.1" r="6.2" fill="#5b9bd8" stroke="#3f80c6" stroke-width="1.5"/>
<circle cx="1780.9" cy="1942.2" r="6.2" fill="#5b9bd8" stroke="#3f80c6" stroke-width="1.5"/>
<circle cx="1780.9" cy="1965.3" r="6.2" fill="#5b9bd8" stroke="#3f80c6" stroke-width="1.5"/>
<circle cx="1787.2" cy="1988.4" r="6.2" fill="#5b9bd8" stroke="#3f80c6" stroke-width="1.5"/>
<circle cx="1779.1" cy="2011.5" r="6.2" fill="#5b9bd8" stroke="#3f80c6" stroke-width="1.5"/>
<circle cx="1782.6" cy="2034.6" r="6.2" fill="#5b9bd8" stroke="#3f80c6" stroke-width="1.5"/>
<circle cx="1878.8" cy="2057.7" r="6.2" fill="#f4e54d" stroke="#cbb83a" stroke-width="1.5"/>
<circle cx="1878.5" cy="2080.8" r="6.2" fill="#f4e54d" stroke="#cbb83a" stroke-width="1.5"/>
<circle cx="1880.8" cy="2103.9" r="6.2" fill="#f4e54d" stroke="#cbb83a" stroke-width="1.5"/>
<circle cx="1886.3" cy="2127.0" r="6.2" fill="#f4e54d" stroke="#cbb83a" stroke-width="1.5"/>
<circle cx="1876.8" cy="2150.1" r="6.2" fill="#f4e54d" stroke="#cbb83a" stroke-width="1.5"/>
<circle cx="1875.1" cy="2173.2" r="6.2" fill="#f4e54d" stroke="#cbb83a" stroke-width="1.5"/>
<circle cx="1850.6" cy="2196.3" r="6.2" fill="#84c98f" stroke="#67b173" stroke-width="1.5"/>
<circle cx="1835.6" cy="2219.4" r="6.2" fill="#84c98f" stroke="#67b173" stroke-width="1.5"/>
<circle cx="1844.8" cy="2242.5" r="6.2" fill="#84c98f" stroke="#67b173" stroke-width="1.5"/>
<circle cx="1833.3" cy="2265.6" r="6.2" fill="#84c98f" stroke="#67b173" stroke-width="1.5"/>
<circle cx="1833.3" cy="2288.7" r="6.2" fill="#84c98f" stroke="#67b173" stroke-width="1.5"/>
<circle cx="1844.8" cy="2311.8" r="6.2" fill="#84c98f" stroke="#67b173" stroke-width="1.5"/>
<circle cx="1856.3" cy="2334.9" r="6.2" fill="#84c98f" stroke="#67b173" stroke-width="1.5"/>
<circle cx="1859.8" cy="2358.0" r="6.2" fill="#84c98f" stroke="#67b173" stroke-width="1.5"/>
<circle cx="1854.0" cy="2381.1" r="6.2" fill="#84c98f" stroke="#67b173" stroke-width="1.5"/>
<circle cx="1831.9" cy="2404.2" r="6.2" fill="#84c98f" stroke="#67b173" stroke-width="1.5"/>
<circle cx="1697.4" cy="2427.3" r="6.2" fill="#84c98f" stroke="#67b173" stroke-width="1.5"/>
<text x="1828.9" y="1347.2" font-size="16.1" fill="#1a1a1a" text-anchor="start" >HCoV-HKU1/BIME352-01/2018</text>
<text x="1834.3" y="1370.3" font-size="16.1" fill="#1a1a1a" text-anchor="start" >HCoV-HKU1/Fukushima_H519_2019</text>
<text x="1825.4" y="1393.4" font-size="16.1" fill="#1a1a1a" text-anchor="start" >HCoV-HKU1/GY18102</text>
<text x="1829.2" y="1416.5" font-size="16.1" fill="#1a1a1a" text-anchor="start" >HCoV-HKU1/WZ17244</text>
<text x="1823.4" y="1439.6" font-size="16.1" fill="#1a1a1a" text-anchor="start" >HCoV-HKU1/WZ17198</text>
<text x="1826.9" y="1462.7" font-size="16.1" fill="#1a1a1a" text-anchor="start" >HCoV-HKU1/BCH18024</text>
<text x="1823.4" y="1485.8" font-size="16.1" fill="#1a1a1a" text-anchor="start" >HCoV-HKU1/SC2628</text>
<text x="1817.7" y="1508.9" font-size="16.1" fill="#1a1a1a" text-anchor="start" >HCoV-HKU1/Tokyo/SGH-15/2014</text>
<text x="1813.9" y="1532.0" font-size="16.1" fill="#1a1a1a" text-anchor="start" >HCoV-HKU1/human/USA/HKU1-15/2009</text>
<text x="1810.2" y="1555.1" font-size="16.1" fill="#1a1a1a" text-anchor="start" >HCoV-HKU1/BJ01-p3</text>
<text x="1812.2" y="1578.2" font-size="16.1" fill="#1a1a1a" text-anchor="start" >HCoV-HKU1/BJ01-p9</text>
<text x="1825.4" y="1601.3" font-size="16.1" fill="#1a1a1a" text-anchor="start" >HCoV-HKU1/R63</text>
<text x="1796.9" y="1624.4" font-size="16.1" fill="#1a1a1a" text-anchor="start" >HCoV-HKU1/N23</text>
<text x="1796.9" y="1647.5" font-size="16.1" fill="#1a1a1a" text-anchor="start" >HCoV-HKU1/N24</text>
<text x="1814.2" y="1670.6" font-size="16.1" fill="#1a1a1a" text-anchor="start" >HCoV-HKU1/human/USA/HKU1-11/2009</text>
<text x="1815.9" y="1693.7" font-size="16.1" fill="#1a1a1a" text-anchor="start" >HCoV-HKU1/human/USA/HKU1-13/2010</text>
<text x="1815.6" y="1716.8" font-size="16.1" fill="#1a1a1a" text-anchor="start" >HCoV-HKU1/human/USA/HKU1-5/2009</text>
<text x="1810.2" y="1739.9" font-size="16.1" fill="#1a1a1a" text-anchor="start" >HCoV-HKU1/human/USA/HKU1-10/2010</text>
<text x="1813.9" y="1763.0" font-size="16.1" fill="#1a1a1a" text-anchor="start" >HCoV-HKU1/human/USA/HKU1-18/2010</text>
<text x="1791.4" y="1786.1" font-size="16.1" fill="#1a1a1a" text-anchor="start" >HCoV-HKU1/N9</text>
<text x="1789.4" y="1809.2" font-size="16.1" fill="#1a1a1a" text-anchor="start" >HCoV-HKU1/N10</text>
<text x="1791.4" y="1832.3" font-size="16.1" fill="#1a1a1a" text-anchor="start" >HCoV-HKU1/N7</text>
<text x="1791.4" y="1855.4" font-size="16.1" fill="#1a1a1a" text-anchor="start" >HCoV-HKU1/N6</text>
<text x="1793.2" y="1878.5" font-size="16.1" fill="#1a1a1a" text-anchor="start" >HCoV-HKU1/N19</text>
<text x="1793.2" y="1901.6" font-size="16.1" fill="#1a1a1a" text-anchor="start" >HCoV-HKU1/N18</text>
<text x="1793.2" y="1924.7" font-size="16.1" fill="#1a1a1a" text-anchor="start" >HCoV-HKU1/N13</text>
<text x="1793.2" y="1947.8" font-size="16.1" fill="#1a1a1a" text-anchor="start" >HCoV-HKU1/N11</text>
<text x="1793.2" y="1970.9" font-size="16.1" fill="#1a1a1a" text-anchor="start" >HCoV-HKU1/N3</text>
<text x="1799.5" y="1994.0" font-size="16.1" fill="#1a1a1a" text-anchor="start" >HCoV-HKU1/N14</text>
<text x="1792.0" y="2017.5" font-size="17.65" fill="#111" text-anchor="start" font-weight="bold" >HCoV-HKU1/HKU1</text>
<text x="1794.9" y="2040.2" font-size="16.1" fill="#1a1a1a" text-anchor="start" >HCoV-HKU1/Caen1</text>
<text x="1891.1" y="2063.3" font-size="16.1" fill="#1a1a1a" text-anchor="start" >HCoV-HKU1/N17</text>
<text x="1890.8" y="2086.4" font-size="16.1" fill="#1a1a1a" text-anchor="start" >HCoV-HKU1/N22</text>
<text x="1893.1" y="2109.5" font-size="16.1" fill="#1a1a1a" text-anchor="start" >HCoV-HKU1/N20</text>
<text x="1898.6" y="2132.6" font-size="16.1" fill="#1a1a1a" text-anchor="start" >HCoV-HKU1/N16</text>
<text x="1889.7" y="2156.1" font-size="17.65" fill="#111" text-anchor="start" font-weight="bold" >HCoV-HKU1/N5P8</text>
<text x="1887.4" y="2178.8" font-size="16.1" fill="#1a1a1a" text-anchor="start" >HCoV-HKU1/N21</text>
<text x="1862.9" y="2201.9" font-size="16.1" fill="#1a1a1a" text-anchor="start" >HCoV-HKU1/SI17244</text>
<text x="1847.9" y="2225.0" font-size="16.1" fill="#1a1a1a" text-anchor="start" >HCoV-HKU1/N15</text>
<text x="1857.1" y="2248.1" font-size="16.1" fill="#1a1a1a" text-anchor="start" >HCoV-HKU1/BIME190-04/2017</text>
<text x="1845.6" y="2271.2" font-size="16.1" fill="#1a1a1a" text-anchor="start" >HCoV-HKU1/Tokyo/SGH-18/2016</text>
<text x="1845.6" y="2294.3" font-size="16.1" fill="#1a1a1a" text-anchor="start" >HCoV-HKU1/H78</text>
<text x="1857.1" y="2317.4" font-size="16.1" fill="#1a1a1a" text-anchor="start" >HCoV-HKU1/GZFE18147</text>
<text x="1868.6" y="2340.5" font-size="16.1" fill="#1a1a1a" text-anchor="start" >HCoV-HKU1/GZFE18183</text>
<text x="1872.1" y="2363.6" font-size="16.1" fill="#1a1a1a" text-anchor="start" >HCoV-HKU1/GZFE18139</text>
<text x="1866.3" y="2386.7" font-size="16.1" fill="#1a1a1a" text-anchor="start" >HCoV-HKU1/GZFE18186</text>
<text x="1845.1" y="2410.2" font-size="17.6" fill="#111" text-anchor="start" font-weight="bold" text-decoration="underline">HCoV-HKU1/NDL/IPP01/2022</text>
<text x="1709.7" y="2433.6" font-size="19.0" fill="#1a1a1a" text-anchor="start" letter-spacing="-1.95">HCoV-HKU1/SC2521</text>
<text x="1720.4" y="1905.6" font-size="18.5" fill="#111" text-anchor="middle" >100</text>
<text x="1651.8" y="2376.0" font-size="18.5" fill="#111" text-anchor="middle" >100</text>
<text x="1775.0" y="2334.0" font-size="18.5" fill="#111" text-anchor="middle" >100</text>
<text x="1845.8" y="2137.6" font-size="18.5" fill="#111" text-anchor="middle" >100</text>
<text x="1139.0" y="2457.5" font-size="18.8" fill="#555" text-anchor="middle" >0.00</text>
<text x="1213.9" y="2457.5" font-size="18.8" fill="#555" text-anchor="middle" >0.01</text>
<text x="1288.8" y="2457.5" font-size="18.8" fill="#555" text-anchor="middle" >0.02</text>
<text x="1363.7" y="2457.5" font-size="18.8" fill="#555" text-anchor="middle" >0.03</text>
<text x="1438.6" y="2457.5" font-size="18.8" fill="#555" text-anchor="middle" >0.04</text>
<text x="1513.5" y="2457.5" font-size="18.8" fill="#555" text-anchor="middle" >0.05</text>
<text x="1588.4" y="2457.5" font-size="18.8" fill="#555" text-anchor="middle" >0.06</text>
<text x="1663.3" y="2457.5" font-size="18.8" fill="#555" text-anchor="middle" >0.07</text>
<text x="1738.2" y="2457.5" font-size="18.8" fill="#555" text-anchor="middle" >0.08</text>
<text x="1813.1" y="2457.5" font-size="18.8" fill="#555" text-anchor="middle" >0.09</text>
<text x="1505.3" y="2482.0" font-size="18.8" fill="#555" text-anchor="middle" >Divergence</text>
</svg></body></html>
